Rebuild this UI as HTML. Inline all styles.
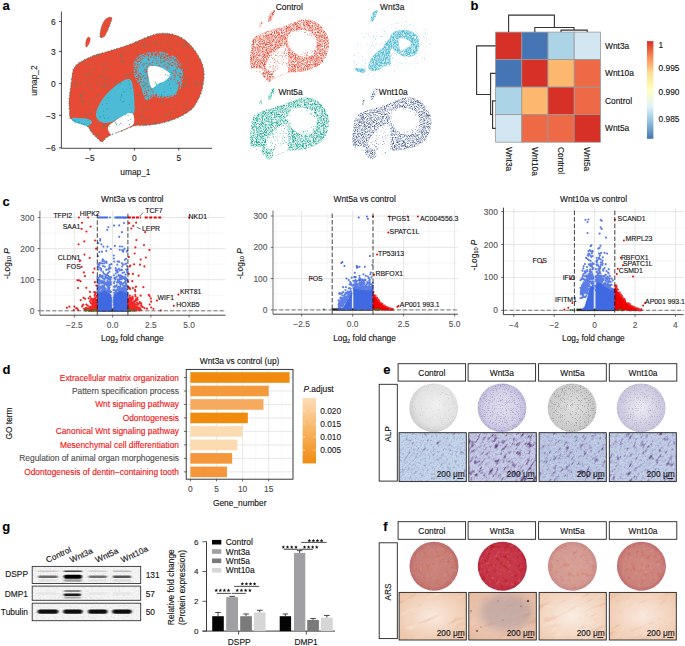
<!DOCTYPE html>
<html><head><meta charset="utf-8"><style>html,body{margin:0;padding:0;background:#fff;}svg{display:block;font-family:"Liberation Sans",sans-serif;}text{stroke-width:0.12px;}</style></head>
<body><svg width="685" height="646" viewBox="0 0 685 646" font-family="Liberation Sans, sans-serif">
<text x="2.60" y="9.70" font-size="13" text-anchor="start" fill="#000" stroke="#000" font-weight="bold" >a</text>
<text x="470.60" y="10.00" font-size="13" text-anchor="start" fill="#000" stroke="#000" font-weight="bold" >b</text>
<text x="2.40" y="205.60" font-size="13" text-anchor="start" fill="#000" stroke="#000" font-weight="bold" >c</text>
<text x="2.40" y="374.00" font-size="13" text-anchor="start" fill="#000" stroke="#000" font-weight="bold" >d</text>
<text x="383.20" y="374.20" font-size="13" text-anchor="start" fill="#000" stroke="#000" font-weight="bold" >e</text>
<text x="383.20" y="530.90" font-size="13" text-anchor="start" fill="#000" stroke="#000" font-weight="bold" >f</text>
<text x="2.20" y="530.80" font-size="13" text-anchor="start" fill="#000" stroke="#000" font-weight="bold" >g</text>
<defs><pattern id="mixRC" width="40" height="40" patternUnits="userSpaceOnUse"><rect width="40" height="40" fill="#E64B35"/><path d="M5.4 33.9h.1M30.6 10.2h.1M19.8 18.0h.1M26.1 31.5h.1M3.8 1.1h.1M33.4 17.3h.1M30.5 0.1h.1M17.8 28.9h.1M9.2 37.8h.1M36.1 1.2h.1M1.0 21.7h.1M37.6 15.2h.1M8.7 16.9h.1M1.2 8.9h.1M17.5 19.8h.1M9.3 9.2h.1M8.8 18.4h.1M11.6 0.9h.1M33.5 22.3h.1M25.7 7.4h.1M39.7 34.4h.1M4.8 13.3h.1M28.9 28.4h.1M37.5 16.9h.1M33.2 26.8h.1M12.1 23.5h.1M35.3 33.8h.1M20.2 23.6h.1M1.4 9.7h.1M31.9 16.6h.1M6.9 22.0h.1M28.1 27.0h.1M15.0 17.6h.1M20.3 31.1h.1M20.8 15.7h.1M19.6 1.2h.1M1.7 28.1h.1M39.3 23.7h.1M15.7 6.8h.1M20.1 39.3h.1M30.8 21.6h.1M34.4 9.3h.1M20.6 38.1h.1M23.1 18.4h.1M10.8 21.9h.1M38.3 0.2h.1M31.3 32.8h.1M35.4 29.6h.1M32.4 20.7h.1M22.5 17.0h.1M2.2 34.8h.1M22.8 8.0h.1M20.2 19.4h.1M14.3 13.8h.1M21.5 24.9h.1M24.5 18.3h.1M1.1 9.2h.1M7.1 23.4h.1M34.4 31.9h.1M31.9 32.7h.1M10.2 33.7h.1M26.9 3.3h.1M0.7 0.6h.1M30.2 10.0h.1M4.4 25.0h.1M13.8 2.8h.1M6.4 21.1h.1M6.7 10.9h.1M28.5 18.2h.1M12.9 19.0h.1M0.9 15.5h.1M16.8 7.5h.1M4.4 36.0h.1M20.4 8.4h.1M24.2 32.7h.1M0.8 0.7h.1M5.9 28.8h.1M6.4 28.2h.1M27.1 21.8h.1M8.8 39.0h.1M31.9 20.7h.1M8.9 25.9h.1M15.8 23.0h.1M12.8 25.2h.1M2.4 11.9h.1M38.7 35.0h.1M12.3 34.3h.1M12.4 37.6h.1M29.8 16.6h.1M10.1 0.3h.1M35.1 1.5h.1M32.8 38.5h.1M22.8 6.9h.1M34.7 39.0h.1M28.2 20.4h.1M15.1 13.9h.1M8.2 27.0h.1M17.3 7.8h.1M4.2 26.6h.1M11.8 20.0h.1M13.0 34.9h.1M36.0 0.7h.1M8.0 13.1h.1M39.5 31.3h.1M13.6 8.5h.1M27.0 33.5h.1M37.3 13.8h.1M35.3 27.5h.1M19.4 39.4h.1M9.4 29.0h.1M3.4 6.8h.1M36.4 8.5h.1M30.4 24.0h.1M33.6 14.7h.1M13.6 11.6h.1M34.7 24.2h.1M38.2 35.5h.1M5.4 22.0h.1M4.2 1.6h.1M2.9 34.6h.1M31.5 33.1h.1M13.6 24.6h.1M31.3 15.1h.1M22.8 8.9h.1M3.3 10.7h.1M35.6 22.6h.1M37.0 18.3h.1M11.1 31.5h.1M33.1 0.5h.1M26.8 3.7h.1M4.6 35.4h.1M1.6 9.6h.1M39.5 16.8h.1M4.6 6.7h.1M9.7 29.8h.1M4.1 36.4h.1M15.1 38.8h.1M36.4 11.8h.1M10.1 19.1h.1M4.0 26.1h.1M1.6 0.4h.1M39.3 11.8h.1M23.9 18.0h.1M12.5 2.5h.1M36.5 38.8h.1M38.8 4.5h.1M8.6 24.7h.1M39.2 21.7h.1M27.5 26.5h.1M10.4 21.7h.1M12.3 9.9h.1M3.3 11.2h.1M39.3 17.9h.1M26.1 25.7h.1M37.6 15.6h.1M12.3 13.1h.1M12.7 33.9h.1M35.7 12.1h.1M13.4 21.8h.1M23.2 23.8h.1M9.8 0.8h.1M9.8 2.9h.1M22.0 2.8h.1M3.0 25.4h.1M11.6 31.7h.1M19.7 34.5h.1M6.2 20.1h.1M31.8 3.1h.1M38.0 6.9h.1M31.0 39.4h.1M32.9 12.8h.1M4.3 20.6h.1M36.8 11.7h.1M35.8 5.7h.1M36.4 1.3h.1M12.6 36.1h.1M32.2 36.3h.1M33.6 29.8h.1M27.6 7.1h.1M17.3 6.3h.1M28.6 26.7h.1M10.1 2.6h.1M38.5 32.3h.1M22.0 21.7h.1M34.1 18.1h.1M15.8 13.5h.1M10.3 1.0h.1M25.9 16.7h.1M22.8 2.5h.1M14.2 5.5h.1M5.0 10.4h.1M33.2 15.9h.1M16.0 24.5h.1M9.3 0.3h.1M21.1 20.0h.1M26.0 17.5h.1M27.5 29.3h.1M9.5 19.8h.1M19.2 9.0h.1M16.5 22.4h.1M36.3 36.7h.1M11.0 25.9h.1M1.9 2.9h.1M20.5 35.1h.1M6.4 30.6h.1M35.3 12.5h.1M27.7 34.0h.1M14.9 28.1h.1M29.5 23.8h.1M34.3 35.9h.1M38.4 22.8h.1M7.1 10.0h.1M8.7 22.8h.1M30.3 2.1h.1M27.3 28.7h.1M13.9 20.6h.1M6.6 29.2h.1M1.6 39.2h.1M32.3 25.1h.1M10.7 36.5h.1M38.4 5.6h.1M31.0 33.7h.1M26.4 28.0h.1M17.8 37.0h.1M38.8 15.3h.1M32.1 17.3h.1M6.6 13.0h.1M5.1 36.4h.1M38.4 4.8h.1M24.0 16.3h.1M4.7 11.8h.1M9.9 30.0h.1M0.2 7.6h.1M17.6 0.8h.1M25.1 24.2h.1M33.4 8.3h.1M11.4 21.7h.1M10.9 23.4h.1M10.0 27.3h.1M31.6 32.3h.1M38.9 21.8h.1M19.6 34.2h.1M30.8 22.8h.1M15.3 11.4h.1M4.3 32.3h.1M4.7 29.9h.1M21.8 38.6h.1M30.4 38.9h.1M5.5 20.0h.1M22.9 12.5h.1M20.1 14.3h.1M21.1 0.0h.1M17.7 18.0h.1M12.2 16.0h.1M31.3 27.3h.1M19.7 25.9h.1M15.1 8.2h.1M0.2 11.1h.1M23.9 35.3h.1M33.2 20.4h.1M39.5 18.5h.1M33.4 16.4h.1M29.8 39.5h.1M12.2 6.8h.1M24.8 21.2h.1M14.4 0.1h.1M15.6 17.0h.1M16.2 34.4h.1M23.4 29.4h.1M35.9 30.0h.1M19.7 29.8h.1M25.6 25.9h.1M25.2 16.3h.1M25.2 25.3h.1M37.5 31.3h.1M33.9 30.7h.1M32.6 24.2h.1M14.0 10.6h.1M28.3 35.0h.1M21.8 6.1h.1M33.3 19.4h.1M18.7 1.8h.1M20.4 29.8h.1M16.9 14.2h.1M26.3 0.8h.1M20.3 37.8h.1M27.6 16.1h.1M27.6 24.2h.1M8.4 8.3h.1M35.4 10.8h.1M3.0 33.2h.1M20.9 14.7h.1M20.5 29.5h.1M6.7 26.1h.1M28.5 32.6h.1M10.8 24.4h.1M9.3 22.4h.1M6.9 31.6h.1M34.7 13.2h.1M8.9 38.6h.1M28.3 33.8h.1M1.2 36.0h.1M24.9 12.7h.1M17.3 30.5h.1M31.4 7.6h.1M25.0 6.6h.1M38.9 17.7h.1M36.5 29.1h.1M24.3 10.5h.1M21.1 5.5h.1M5.5 28.6h.1M14.4 30.1h.1M9.6 28.7h.1M28.7 12.2h.1M4.3 15.9h.1M19.7 4.0h.1M7.5 2.2h.1M23.9 35.6h.1M8.7 1.4h.1M28.2 32.6h.1M38.6 24.5h.1M13.7 33.5h.1M4.7 27.7h.1M3.8 16.0h.1M19.8 15.1h.1M6.7 9.3h.1M32.8 18.5h.1M23.2 8.5h.1M28.6 13.2h.1M23.7 36.4h.1M39.8 1.8h.1M31.9 34.3h.1M12.8 15.3h.1M23.2 36.8h.1M16.0 35.2h.1M30.3 6.1h.1M36.5 0.6h.1M5.8 26.6h.1M2.3 15.2h.1M5.2 18.5h.1M33.6 36.2h.1M1.4 2.4h.1M33.6 1.7h.1M10.9 4.7h.1M3.6 1.1h.1M25.5 29.8h.1M27.5 33.8h.1M26.5 15.6h.1M25.2 38.8h.1M25.7 9.7h.1M2.4 37.4h.1M23.6 14.0h.1M24.2 22.4h.1M20.9 2.4h.1M14.1 16.5h.1M8.0 35.2h.1M17.0 26.5h.1M28.5 29.7h.1M28.8 30.1h.1M10.1 39.1h.1M6.0 36.7h.1M34.2 34.1h.1M2.1 3.6h.1M32.5 18.8h.1M14.8 39.4h.1M1.6 21.3h.1M17.7 5.1h.1M15.8 28.3h.1M35.3 1.0h.1M21.0 3.6h.1M32.0 3.4h.1M1.4 15.4h.1M29.3 12.5h.1M5.2 31.8h.1M32.3 34.2h.1M12.1 17.0h.1M9.8 22.3h.1M13.2 13.5h.1M31.3 38.3h.1M23.4 4.2h.1M26.1 17.9h.1M39.5 28.8h.1M33.4 28.1h.1M21.4 35.9h.1M33.3 11.7h.1M6.3 14.8h.1M20.8 3.9h.1M13.8 23.0h.1M1.7 32.6h.1M26.0 12.5h.1M11.9 14.1h.1M13.0 29.9h.1M20.0 21.0h.1M6.0 36.6h.1M13.0 13.1h.1M2.8 39.2h.1M19.2 36.5h.1M37.1 38.8h.1M32.6 37.0h.1M36.9 32.1h.1M5.4 20.9h.1M23.0 39.7h.1M31.4 28.1h.1M29.9 14.5h.1M37.7 25.7h.1M16.1 18.6h.1M39.2 21.3h.1M6.7 5.9h.1M27.5 22.5h.1M36.3 7.4h.1M16.4 29.1h.1M2.0 4.0h.1M21.8 10.6h.1M4.3 10.5h.1M25.3 21.1h.1M3.1 2.9h.1M34.0 25.7h.1M6.9 34.5h.1M0.9 14.7h.1M33.9 28.4h.1M11.4 35.7h.1M23.9 34.6h.1M35.7 17.0h.1M27.0 21.8h.1M37.8 31.9h.1M29.0 32.6h.1M39.9 10.3h.1M8.1 29.9h.1M30.8 20.6h.1M19.5 16.1h.1M35.3 31.8h.1M23.4 1.6h.1M34.0 18.3h.1M7.6 12.0h.1M27.7 0.2h.1M4.8 12.1h.1M35.5 29.9h.1M38.8 21.7h.1M22.9 22.1h.1M21.0 21.7h.1M32.7 38.1h.1M16.3 25.2h.1M12.3 12.1h.1M20.3 23.5h.1M22.0 39.1h.1M6.5 25.5h.1M39.8 29.4h.1M22.6 14.7h.1M16.1 37.5h.1M35.8 26.8h.1M35.9 37.0h.1M33.9 15.3h.1M18.6 31.8h.1M14.9 30.0h.1M19.3 13.5h.1M18.2 4.7h.1M14.2 16.6h.1M0.7 6.9h.1M10.4 34.3h.1M23.6 11.5h.1M39.9 10.3h.1M20.6 29.6h.1M27.7 17.3h.1M31.1 19.4h.1M28.6 19.7h.1M38.9 28.6h.1M3.7 5.2h.1M38.7 9.2h.1M1.0 10.1h.1M19.2 38.1h.1M16.0 28.9h.1M33.4 3.6h.1M24.5 39.8h.1M22.0 21.4h.1M13.9 37.8h.1M38.8 4.1h.1M22.1 16.8h.1M26.9 4.7h.1M10.6 11.2h.1M19.2 31.7h.1M34.3 31.5h.1M27.1 3.5h.1M15.6 26.7h.1M11.8 20.3h.1M36.2 4.6h.1M34.2 4.2h.1M15.5 36.2h.1M8.0 20.8h.1M16.7 35.5h.1M39.7 11.5h.1M19.7 35.8h.1M21.8 8.6h.1M30.4 13.5h.1M19.4 0.3h.1M39.6 26.3h.1M37.0 38.7h.1M10.7 21.6h.1M17.6 30.4h.1M33.7 9.1h.1M11.0 28.3h.1M16.5 5.2h.1M7.8 22.4h.1M23.9 38.4h.1M21.3 24.4h.1M6.0 16.6h.1M11.2 27.8h.1M10.7 8.6h.1M14.7 18.8h.1M13.5 24.2h.1M7.2 35.2h.1M27.8 21.4h.1M2.3 13.0h.1M27.6 25.8h.1M32.5 35.7h.1M12.6 19.7h.1M13.2 5.1h.1M5.6 10.3h.1M3.5 21.6h.1M28.1 22.5h.1M27.4 9.0h.1M8.0 22.7h.1M35.4 16.9h.1M0.2 0.8h.1M12.2 24.6h.1M3.4 9.0h.1M27.2 39.4h.1M13.6 24.0h.1M20.7 0.9h.1M13.2 5.6h.1M10.0 30.8h.1M27.2 1.6h.1M3.1 29.0h.1M4.1 12.7h.1M10.8 2.0h.1M1.2 5.6h.1M16.0 37.3h.1M25.5 9.7h.1M27.2 10.9h.1M20.6 12.9h.1M37.9 14.1h.1M32.1 25.6h.1M33.7 24.2h.1M34.8 16.2h.1M27.2 24.8h.1M21.1 22.6h.1M21.4 15.8h.1M35.9 25.3h.1M22.0 2.2h.1M20.3 7.0h.1M8.6 17.4h.1M21.8 10.0h.1M10.8 21.2h.1M18.9 16.1h.1M4.2 14.9h.1M26.2 21.8h.1M21.8 33.8h.1M28.9 27.4h.1M1.2 12.3h.1M27.3 6.2h.1M36.5 5.7h.1M35.2 8.7h.1M33.7 33.9h.1M13.4 35.5h.1M6.4 34.0h.1M15.3 17.6h.1M4.7 24.0h.1M10.8 26.7h.1M32.0 24.1h.1M0.3 38.1h.1M36.8 25.7h.1M15.2 22.5h.1M35.3 18.4h.1M31.2 23.9h.1M16.9 37.3h.1M16.3 24.2h.1M2.1 18.8h.1M1.5 28.2h.1M0.0 1.7h.1M4.4 5.6h.1M20.3 14.3h.1M10.8 39.3h.1M36.4 26.2h.1M32.1 32.8h.1M9.8 32.3h.1M9.6 22.5h.1M14.3 6.3h.1M31.1 36.7h.1M12.5 35.2h.1M13.9 26.3h.1M39.8 30.9h.1M2.2 17.4h.1M15.1 11.8h.1M32.6 17.6h.1M28.0 25.4h.1M20.8 2.2h.1M26.9 35.7h.1M6.9 25.7h.1M19.5 13.6h.1M28.4 39.0h.1M0.9 35.9h.1M15.3 33.4h.1M7.0 28.7h.1M4.0 13.4h.1M38.8 26.3h.1M31.4 18.5h.1M18.8 19.7h.1M30.9 28.9h.1M7.8 17.6h.1M21.7 22.9h.1M37.1 33.6h.1M6.0 15.0h.1M4.4 1.0h.1M3.0 7.3h.1M30.6 26.7h.1M31.9 11.5h.1M6.2 38.9h.1M33.0 37.9h.1M0.8 15.9h.1M25.4 29.4h.1M36.5 21.5h.1M15.6 0.2h.1M32.2 39.3h.1M36.3 26.5h.1M13.7 9.6h.1M31.0 37.4h.1M38.4 7.0h.1M23.4 20.5h.1M17.1 31.8h.1M37.4 29.0h.1M28.0 27.6h.1M26.1 21.5h.1M9.9 31.2h.1M4.8 25.8h.1M15.5 22.4h.1M25.7 19.2h.1M39.1 9.6h.1M0.5 38.2h.1M12.5 11.1h.1M16.6 23.8h.1M39.4 28.3h.1M12.7 21.4h.1M17.9 20.1h.1M16.7 6.7h.1M15.8 15.6h.1M8.0 32.7h.1M14.4 6.1h.1M22.7 33.8h.1M31.2 24.9h.1M29.2 13.4h.1M5.7 10.2h.1M14.0 11.2h.1M18.7 6.0h.1M5.2 10.1h.1M7.9 32.1h.1M21.5 7.9h.1M17.2 34.9h.1M23.1 22.2h.1M15.7 7.8h.1M25.0 3.1h.1M31.4 2.3h.1M29.9 15.3h.1M27.3 23.6h.1M5.2 21.5h.1M3.0 9.6h.1M15.3 11.4h.1M26.5 39.5h.1M14.3 33.5h.1M9.0 28.4h.1M13.9 21.4h.1M3.5 33.1h.1M8.4 18.5h.1M11.6 32.4h.1M23.7 24.6h.1M30.2 10.2h.1M2.3 33.1h.1M12.6 32.5h.1M38.3 25.2h.1M4.1 34.2h.1M25.3 9.8h.1M8.3 20.3h.1M4.9 36.2h.1M28.3 32.8h.1M15.4 36.9h.1M5.4 28.7h.1M10.2 0.1h.1M4.8 8.1h.1M30.5 15.1h.1M19.3 24.5h.1M10.7 25.5h.1M26.9 36.9h.1M20.1 34.2h.1M38.7 30.8h.1M16.8 10.9h.1M3.9 33.2h.1M5.2 22.4h.1M18.2 1.8h.1M8.6 32.9h.1M21.5 37.0h.1M36.3 3.8h.1M27.1 1.7h.1M16.9 17.7h.1M38.3 23.8h.1M7.6 20.4h.1M20.9 7.9h.1M14.4 35.1h.1M39.3 31.1h.1M2.6 36.2h.1M18.3 33.4h.1M7.1 5.9h.1M36.3 11.4h.1M1.7 20.0h.1M39.6 33.4h.1M15.9 39.7h.1M31.9 33.7h.1M25.8 15.8h.1M36.2 18.8h.1M37.4 22.1h.1M36.4 19.1h.1M17.1 23.5h.1M12.7 6.0h.1M23.6 34.0h.1M11.1 34.6h.1M31.5 31.0h.1M16.6 40.0h.1M31.6 23.0h.1M4.5 23.0h.1M0.6 36.1h.1M13.5 14.7h.1M22.0 25.5h.1M23.3 19.4h.1M25.4 33.9h.1M17.8 20.0h.1M32.4 0.1h.1M6.4 13.0h.1M8.6 35.8h.1M5.9 4.3h.1M12.7 20.3h.1M32.9 39.8h.1M34.1 24.4h.1M1.5 2.5h.1M25.2 32.8h.1M10.6 38.8h.1M22.0 23.0h.1M24.7 3.0h.1M6.8 37.4h.1M10.7 3.3h.1M11.3 29.0h.1M10.5 8.4h.1M11.1 19.2h.1M29.5 12.1h.1M34.9 39.0h.1M32.9 3.0h.1M12.6 37.0h.1M34.4 5.3h.1M17.7 14.6h.1M29.9 1.1h.1M12.6 30.0h.1M35.5 1.6h.1M23.5 26.5h.1M34.9 17.0h.1M38.9 7.9h.1M4.6 5.2h.1M23.5 4.9h.1M10.7 7.9h.1M2.2 38.5h.1M13.4 38.6h.1M28.9 8.8h.1M37.3 0.4h.1M39.3 1.3h.1M10.1 22.1h.1M0.4 30.6h.1M3.4 32.7h.1M1.4 21.1h.1M8.4 11.6h.1M19.6 14.9h.1M15.7 26.1h.1M7.8 7.3h.1M27.4 11.9h.1M37.3 17.0h.1M19.0 0.9h.1M0.8 4.2h.1M25.0 26.6h.1M38.1 17.3h.1M28.3 13.7h.1M3.0 16.8h.1M28.1 32.2h.1M38.1 33.3h.1M22.5 22.0h.1M20.0 19.1h.1M27.2 23.0h.1M34.3 18.0h.1M18.8 33.3h.1M27.0 21.0h.1M22.5 32.2h.1M24.3 10.4h.1M12.4 24.2h.1M1.8 18.3h.1M35.7 9.3h.1M17.8 28.0h.1M37.0 27.9h.1M25.0 15.4h.1M17.5 25.7h.1M14.3 31.4h.1M0.3 30.1h.1M29.7 12.3h.1M0.6 13.5h.1M23.6 31.5h.1M34.8 8.3h.1M3.3 4.8h.1M39.6 25.8h.1M5.1 27.6h.1M38.4 24.3h.1M9.3 38.5h.1M28.0 7.3h.1M30.6 20.2h.1M23.0 14.6h.1M11.8 16.8h.1M21.1 18.5h.1M34.7 3.0h.1M8.0 37.5h.1M24.3 24.7h.1M25.2 9.7h.1M15.8 8.4h.1M6.1 39.6h.1M29.8 35.2h.1M0.1 28.2h.1M12.3 19.9h.1M27.0 1.2h.1M14.8 22.2h.1M35.0 20.5h.1M12.7 24.2h.1M23.3 11.7h.1M21.9 11.0h.1M0.5 12.4h.1M3.5 19.7h.1M20.0 34.8h.1M29.9 30.0h.1M39.6 10.6h.1M14.9 9.2h.1M4.1 20.6h.1M20.5 5.2h.1M36.9 39.1h.1M2.7 0.1h.1M2.5 29.3h.1M34.1 2.6h.1M0.4 21.5h.1M13.3 0.7h.1M0.4 8.5h.1M8.0 11.8h.1M22.0 10.1h.1M9.3 8.4h.1M35.5 9.5h.1M22.2 18.1h.1M13.3 16.3h.1M0.6 7.4h.1M25.6 30.5h.1M8.7 7.1h.1M36.2 3.9h.1M31.8 35.1h.1M5.9 33.3h.1M6.0 1.7h.1M11.4 13.8h.1M23.6 17.7h.1M31.7 26.6h.1M4.8 8.1h.1M29.8 4.6h.1M38.1 32.5h.1M8.8 11.4h.1M10.1 16.9h.1M9.9 1.3h.1M10.1 7.8h.1M14.0 18.2h.1M35.0 26.4h.1M24.6 34.6h.1M15.5 17.0h.1M9.8 33.2h.1M35.1 36.4h.1M24.2 4.6h.1M2.9 31.9h.1M35.4 21.3h.1M36.8 37.2h.1M30.2 14.8h.1M18.3 14.1h.1M15.8 18.9h.1M0.7 5.1h.1M6.7 22.7h.1M34.9 28.5h.1M6.0 18.3h.1M25.1 5.4h.1M3.2 24.5h.1M9.4 25.8h.1M6.9 34.2h.1M12.4 17.1h.1M22.0 35.5h.1M36.7 33.8h.1M27.4 2.8h.1M7.5 21.4h.1M39.4 29.0h.1M7.7 14.2h.1M38.5 20.3h.1M34.8 34.3h.1M31.3 25.1h.1M26.6 13.7h.1M4.8 37.9h.1M1.3 10.8h.1M24.6 38.6h.1M8.4 9.9h.1M33.9 13.1h.1M16.1 14.4h.1M2.0 37.7h.1M27.9 0.3h.1M3.9 5.4h.1M14.8 35.6h.1M5.6 9.1h.1M12.5 20.4h.1M36.0 21.6h.1M36.1 21.7h.1M17.3 34.9h.1M23.2 19.0h.1M20.5 14.2h.1M17.3 3.0h.1M8.2 30.5h.1M5.3 8.3h.1M6.5 14.5h.1M2.0 14.4h.1M24.4 27.1h.1M34.7 3.5h.1M25.8 7.9h.1M13.7 23.0h.1M33.5 26.8h.1M39.4 0.7h.1M12.6 19.2h.1M1.4 2.1h.1M14.7 22.4h.1M5.4 2.7h.1M12.8 29.7h.1M22.7 39.9h.1M24.2 35.6h.1M22.9 19.2h.1M16.6 2.9h.1M2.5 26.3h.1M34.4 0.8h.1M7.2 13.1h.1M12.5 33.4h.1M10.1 12.2h.1M19.5 38.0h.1M11.8 25.3h.1M1.9 17.3h.1M37.1 8.7h.1M14.3 26.2h.1M22.6 23.0h.1M24.3 27.0h.1M12.9 14.1h.1M15.9 20.9h.1M22.7 35.0h.1M15.8 18.0h.1M33.3 38.8h.1M9.7 29.2h.1M9.9 29.6h.1M1.5 20.3h.1M22.8 28.0h.1M36.7 31.8h.1M22.5 19.9h.1M0.5 22.1h.1M22.5 29.7h.1M6.6 23.5h.1M2.1 29.0h.1M32.9 17.5h.1M27.5 26.5h.1M12.1 3.5h.1M30.3 14.3h.1M6.5 17.7h.1M33.3 38.2h.1M22.7 38.8h.1M6.9 19.6h.1M0.3 9.4h.1M35.1 2.4h.1M26.2 20.4h.1M39.5 39.7h.1M4.9 10.5h.1M39.7 13.2h.1M7.2 36.5h.1M24.7 12.3h.1M22.2 17.1h.1M18.3 22.1h.1M6.8 24.6h.1M38.2 23.7h.1M31.5 11.3h.1M6.2 0.3h.1M39.3 4.8h.1M15.2 26.2h.1M29.4 24.7h.1M17.6 32.6h.1M17.7 33.4h.1M2.2 28.9h.1M3.9 15.5h.1M17.7 7.3h.1M18.0 34.1h.1M1.5 7.8h.1M39.0 18.0h.1" stroke="#4DBBD5" stroke-width="1.2" stroke-linecap="round" opacity="1"/></pattern><pattern id="mixRC2" width="40" height="40" patternUnits="userSpaceOnUse"><rect width="40" height="40" fill="#4DBBD5"/><path d="M38.2 37.9h.1M2.3 3.4h.1M33.4 29.4h.1M26.8 12.3h.1M24.2 24.3h.1M23.2 6.3h.1M17.2 15.7h.1M28.9 39.8h.1M38.0 21.8h.1M17.8 10.7h.1M1.4 1.1h.1M18.6 12.7h.1M15.2 35.7h.1M21.0 22.4h.1M9.4 1.0h.1M13.0 5.5h.1M20.4 39.9h.1M27.0 7.3h.1M35.7 31.9h.1M29.4 36.3h.1M30.5 31.6h.1M14.2 39.2h.1M38.5 6.4h.1M30.2 28.6h.1M18.5 21.2h.1M19.6 37.0h.1M20.0 33.3h.1M14.2 35.3h.1M36.0 18.4h.1M22.7 36.8h.1M29.0 19.5h.1M8.9 13.0h.1M28.0 6.6h.1M36.3 10.7h.1M36.5 12.4h.1M38.3 28.2h.1M20.2 20.7h.1M26.1 23.5h.1M12.5 8.3h.1M20.5 37.4h.1M24.9 3.0h.1M32.8 29.0h.1M36.3 7.7h.1M29.8 2.4h.1M26.1 10.9h.1M9.1 35.0h.1M4.3 20.9h.1M34.2 9.8h.1M8.4 35.2h.1M16.9 28.7h.1M1.3 14.5h.1M6.9 26.9h.1M3.3 38.2h.1M1.0 29.2h.1M0.8 10.2h.1M32.5 6.3h.1M7.3 27.7h.1M15.4 1.7h.1M39.6 6.1h.1M1.5 13.8h.1M24.6 29.7h.1M4.5 13.5h.1M1.2 17.9h.1M30.6 29.6h.1M36.1 30.2h.1M34.5 28.2h.1M18.9 9.0h.1M26.4 12.7h.1M4.1 17.9h.1M35.0 5.1h.1M23.4 15.7h.1M20.6 5.8h.1M38.4 10.4h.1M24.2 16.8h.1M0.7 22.3h.1M5.6 2.3h.1M1.3 6.4h.1M3.8 25.4h.1M20.3 39.3h.1M37.4 39.8h.1M9.3 17.8h.1M10.0 23.6h.1M25.0 32.0h.1M28.4 10.3h.1M16.9 21.0h.1M0.2 1.4h.1M16.3 4.4h.1M29.0 9.6h.1M4.0 7.3h.1M9.3 8.7h.1M20.8 18.6h.1M12.4 25.7h.1M8.5 36.3h.1M38.5 29.2h.1M17.3 20.5h.1M23.2 2.0h.1M16.7 21.0h.1M7.2 3.8h.1M32.1 14.6h.1M20.8 36.9h.1M24.4 11.6h.1M39.3 14.9h.1M0.8 27.4h.1M4.0 12.2h.1M33.6 26.9h.1M0.6 18.1h.1M16.4 19.4h.1M8.3 23.5h.1M3.0 11.4h.1M14.9 37.4h.1M3.1 30.2h.1M7.7 22.9h.1M15.7 18.5h.1M30.1 15.8h.1M4.9 4.9h.1M3.2 34.0h.1M25.6 38.4h.1M27.7 1.0h.1M26.4 31.1h.1M28.9 19.9h.1M14.3 18.3h.1M31.9 10.8h.1M21.1 19.1h.1M38.2 32.2h.1M37.3 33.4h.1M11.9 9.3h.1M19.6 10.4h.1M17.1 27.2h.1M36.7 23.4h.1M32.7 3.8h.1M14.2 39.9h.1M5.9 16.7h.1M2.7 3.4h.1M35.8 39.5h.1M25.9 5.1h.1M11.9 9.3h.1M26.8 27.2h.1M17.6 21.0h.1M4.5 21.6h.1M38.0 30.2h.1M3.8 20.7h.1M28.6 10.3h.1M35.8 18.4h.1M28.1 16.2h.1M39.8 31.3h.1M22.9 5.8h.1M17.6 1.2h.1M23.8 35.3h.1M7.2 20.4h.1M19.3 16.2h.1M28.4 37.5h.1M28.2 18.9h.1M38.5 13.2h.1M29.8 26.3h.1M30.5 34.1h.1M9.0 24.8h.1M16.1 26.7h.1M39.1 25.4h.1M0.5 18.6h.1M28.5 35.3h.1M26.0 32.6h.1M0.7 37.7h.1M29.2 24.3h.1M36.2 35.4h.1M4.0 32.6h.1M30.7 8.0h.1M29.8 23.4h.1M7.7 32.2h.1M5.5 24.5h.1M17.4 10.1h.1M22.6 18.7h.1M8.2 38.7h.1M2.9 0.1h.1M19.4 33.5h.1M26.3 30.2h.1M19.4 27.0h.1M13.4 10.7h.1M20.1 1.1h.1M3.2 30.2h.1M6.9 30.0h.1M31.4 16.2h.1M27.0 31.5h.1M34.6 5.4h.1M6.5 15.3h.1M18.6 11.8h.1M0.4 22.3h.1M38.7 14.7h.1M21.5 15.3h.1M17.7 34.8h.1M12.3 26.0h.1M19.4 21.5h.1M36.6 3.1h.1M33.0 12.2h.1M25.9 31.8h.1M26.1 15.7h.1M33.6 3.7h.1M25.3 15.6h.1M21.2 34.0h.1M31.9 25.2h.1M12.3 9.3h.1M18.3 9.3h.1M11.1 38.3h.1M4.5 32.7h.1M15.2 14.6h.1M12.7 3.1h.1M18.3 6.7h.1M17.7 11.7h.1M35.8 36.9h.1M17.7 25.6h.1M37.2 13.0h.1M4.0 9.5h.1M7.6 27.1h.1M15.0 14.2h.1M31.8 9.3h.1M32.3 25.3h.1M16.0 32.9h.1M13.7 35.1h.1M37.0 20.1h.1M27.6 38.0h.1M29.7 30.0h.1M34.8 37.4h.1M30.1 39.2h.1M11.7 24.9h.1M26.8 14.7h.1M15.8 7.0h.1M38.3 14.2h.1M19.1 35.7h.1M7.5 38.4h.1M5.1 1.1h.1M14.0 14.4h.1M36.7 35.3h.1M30.5 17.5h.1M21.7 9.5h.1M33.3 15.6h.1M11.4 25.5h.1M6.0 12.7h.1M37.0 3.8h.1M5.7 8.2h.1M10.0 16.8h.1M10.0 13.7h.1M9.9 9.6h.1M24.4 13.5h.1M14.9 30.7h.1M2.5 5.8h.1M34.0 17.2h.1M31.2 5.3h.1M20.9 33.8h.1M13.5 30.7h.1M24.4 15.8h.1M39.9 15.7h.1M19.0 24.8h.1M12.7 33.5h.1M23.9 23.5h.1M21.5 39.4h.1M39.6 33.6h.1M18.2 16.5h.1M21.0 1.8h.1M4.3 39.8h.1M5.1 37.5h.1M27.2 36.6h.1M3.1 12.2h.1M31.9 0.4h.1M4.2 14.0h.1M6.9 5.9h.1M26.8 3.7h.1M38.9 26.0h.1M2.0 35.9h.1M9.7 19.3h.1M22.4 5.5h.1M20.1 2.4h.1M8.0 36.7h.1M32.9 20.9h.1M27.3 35.0h.1M5.6 19.7h.1M5.3 4.7h.1M4.3 8.5h.1M2.1 8.6h.1M15.2 24.9h.1M34.3 36.2h.1M28.7 20.3h.1M36.7 6.5h.1M4.2 32.7h.1M25.1 8.4h.1M15.1 11.9h.1M17.2 17.1h.1M15.9 31.9h.1M32.5 22.5h.1M18.9 11.4h.1M30.6 39.5h.1M9.2 28.1h.1M28.0 26.3h.1M1.2 22.1h.1M8.1 7.8h.1M23.2 25.8h.1M25.0 29.7h.1M28.1 19.0h.1M1.9 30.9h.1M32.9 33.4h.1M23.9 1.5h.1M7.8 4.3h.1" stroke="#E64B35" stroke-width="1.2" stroke-linecap="round" opacity="1"/></pattern><pattern id="mixT" width="40" height="40" patternUnits="userSpaceOnUse"><path d="M18.5 14.9h.1M5.5 34.7h.1M0.3 20.1h.1M35.9 3.2h.1M22.2 24.7h.1M1.6 15.2h.1M28.1 18.1h.1M29.0 6.3h.1M9.5 4.4h.1M20.3 37.0h.1M23.6 31.0h.1M15.3 29.8h.1M4.1 11.6h.1M27.0 29.0h.1M16.9 3.5h.1M10.7 8.4h.1M11.2 32.4h.1M8.0 35.5h.1M35.2 2.2h.1M15.2 19.7h.1M0.9 17.0h.1M36.3 4.5h.1M23.9 4.8h.1M23.1 35.8h.1M8.1 0.3h.1M3.3 21.6h.1M0.7 3.4h.1M19.9 36.8h.1M16.8 15.9h.1M25.5 3.7h.1M23.2 6.9h.1M24.4 38.3h.1M2.2 22.2h.1M24.3 6.0h.1M10.7 39.8h.1M39.9 4.9h.1M28.2 38.0h.1M9.5 24.4h.1M1.7 14.6h.1M27.0 23.6h.1" stroke="#00A087" stroke-width="0.9" stroke-linecap="round" opacity="1"/></pattern></defs>
<path d="M69.5,112.0 C69.3,109.0 68.8,104.0 69.0,100.0 C69.2,96.0 70.0,92.0 70.5,88.0 C71.0,84.0 71.5,79.2 72.0,76.0 C72.5,72.8 72.5,71.1 73.5,69.0 C74.5,66.9 76.1,65.1 78.0,63.5 C79.9,61.9 82.2,60.9 85.0,59.5 C87.8,58.1 91.7,56.2 95.0,55.0 C98.3,53.8 101.2,53.4 105.0,52.3 C108.8,51.2 113.8,49.6 118.0,48.3 C122.2,47.0 126.3,45.7 130.0,44.3 C133.7,42.9 136.8,41.3 140.0,40.0 C143.2,38.7 145.8,37.4 149.0,36.3 C152.2,35.2 155.2,33.9 159.0,33.5 C162.8,33.1 167.7,32.9 172.0,34.0 C176.3,35.1 181.0,37.0 185.0,40.0 C189.0,43.0 193.0,47.7 196.0,52.0 C199.0,56.3 201.7,61.7 203.0,66.0 C204.3,70.3 204.2,74.0 204.0,78.0 C203.8,82.0 202.8,86.7 202.0,90.0 C201.2,93.3 200.5,95.0 199.0,98.0 C197.5,101.0 195.3,105.3 193.0,108.0 C190.7,110.7 188.0,112.2 185.0,114.0 C182.0,115.8 179.2,117.4 175.0,119.0 C170.8,120.6 165.0,122.4 160.0,123.5 C155.0,124.6 149.3,125.1 145.0,125.5 C140.7,125.9 137.8,125.1 134.0,126.0 C130.2,126.9 125.5,129.7 122.0,131.0 C118.5,132.3 115.7,132.8 113.0,134.0 C110.3,135.2 107.8,136.7 106.0,138.0 C104.2,139.3 103.5,142.0 102.0,142.0 C100.5,142.0 98.7,139.5 97.0,138.0 C95.3,136.5 93.5,134.8 92.0,133.0 C90.5,131.2 89.5,128.5 88.0,127.0 C86.5,125.5 85.2,125.0 83.0,124.0 C80.8,123.0 77.2,122.0 75.0,121.0 C72.8,120.0 70.9,119.5 70.0,118.0 C69.1,116.5 69.7,115.0 69.5,112.0Z" fill="#E64B35"/><path d="M100.0,37.0 C99.5,35.5 100.3,30.7 101.0,28.0 C101.7,25.3 102.8,22.8 104.0,21.0 C105.2,19.2 106.7,18.0 108.0,17.5 C109.3,17.0 111.7,16.8 112.0,18.0 C112.3,19.2 110.8,22.7 110.0,25.0 C109.2,27.3 108.0,30.0 107.0,32.0 C106.0,34.0 105.2,36.2 104.0,37.0 C102.8,37.8 100.5,38.5 100.0,37.0Z" fill="#E64B35"/><path d="M85.5,46.0 C85.3,44.8 85.5,41.5 86.0,40.0 C86.5,38.5 87.8,37.2 88.5,37.0 C89.2,36.8 90.4,37.8 90.5,39.0 C90.6,40.2 89.6,42.7 89.0,44.0 C88.4,45.3 87.6,46.7 87.0,47.0 C86.4,47.3 85.7,47.2 85.5,46.0Z" fill="#E64B35"/>
<path d="M72.0,118.0 C73.0,117.3 77.3,117.8 80.0,118.0 C82.7,118.2 86.0,118.3 88.0,119.0 C90.0,119.7 92.0,120.8 92.0,122.0 C92.0,123.2 90.0,125.7 88.0,126.0 C86.0,126.3 82.3,124.7 80.0,124.0 C77.7,123.3 75.3,123.0 74.0,122.0 C72.7,121.0 71.0,118.7 72.0,118.0Z" fill="#4DBBD5"/><path d="M96.0,116.0 C95.6,113.3 97.0,109.3 98.5,106.0 C100.0,102.7 102.6,99.0 105.0,96.0 C107.4,93.0 110.3,90.3 113.0,88.0 C115.7,85.7 118.6,83.5 121.0,82.0 C123.4,80.5 125.8,79.2 127.5,79.0 C129.2,78.8 130.5,79.2 131.5,81.0 C132.5,82.8 133.0,86.2 133.5,90.0 C134.0,93.8 134.4,100.2 134.5,104.0 C134.6,107.8 135.1,111.2 134.0,113.0 C132.9,114.8 130.3,114.2 128.0,115.0 C125.7,115.8 123.0,116.8 120.0,118.0 C117.0,119.2 113.2,121.8 110.0,122.5 C106.8,123.2 103.3,123.1 101.0,122.0 C98.7,120.9 96.4,118.7 96.0,116.0Z" fill="#4DBBD5"/><path d="M108.0,127.0 C108.7,124.8 112.7,122.8 115.0,121.0 C117.3,119.2 119.7,117.8 122.0,116.5 C124.3,115.2 127.1,113.2 129.0,113.0 C130.9,112.8 132.8,113.2 133.5,115.0 C134.2,116.8 134.8,121.8 133.5,124.0 C132.2,126.2 128.6,127.2 126.0,128.5 C123.4,129.8 120.5,131.0 118.0,132.0 C115.5,133.0 112.7,135.3 111.0,134.5 C109.3,133.7 107.3,129.2 108.0,127.0Z" fill="#fff"/>
<path d="M134.0,62.0 C135.0,58.7 137.3,56.7 140.0,55.0 C142.7,53.3 146.2,52.5 150.0,52.0 C153.8,51.5 158.8,51.2 163.0,52.0 C167.2,52.8 171.8,54.7 175.0,57.0 C178.2,59.3 180.7,62.5 182.0,66.0 C183.3,69.5 183.3,74.0 183.0,78.0 C182.7,82.0 181.8,86.8 180.0,90.0 C178.2,93.2 175.3,95.7 172.0,97.0 C168.7,98.3 163.7,98.5 160.0,98.0 C156.3,97.5 153.3,96.0 150.0,94.0 C146.7,92.0 142.7,89.2 140.0,86.0 C137.3,82.8 135.0,79.0 134.0,75.0 C133.0,71.0 133.0,65.3 134.0,62.0Z" fill="url(#mixRC)"/><path d="M138.6,60.0 C140.3,55.3 146.0,56.0 150.6,56.0 C155.3,56.0 161.3,57.3 166.6,60.0 C172.0,62.7 181.3,68.0 182.6,72.0 C184.0,76.0 178.6,80.7 174.6,84.0 C170.6,87.3 163.3,89.3 158.6,92.0 C154.0,94.7 149.6,101.3 146.6,100.0 C143.6,98.7 142.0,90.7 140.6,84.0 C139.3,77.3 137.0,64.7 138.6,60.0Z" fill="url(#mixRC2)"/><path d="M152.0,80.0 C153.2,78.3 157.0,78.2 160.0,78.0 C163.0,77.8 167.0,78.0 170.0,79.0 C173.0,80.0 177.0,81.7 178.0,84.0 C179.0,86.3 177.7,91.0 176.0,93.0 C174.3,95.0 171.0,95.7 168.0,96.0 C165.0,96.3 160.5,96.3 158.0,95.0 C155.5,93.7 154.0,90.5 153.0,88.0 C152.0,85.5 150.8,81.7 152.0,80.0Z" fill="#4DBBD5"/><path d="M148.0,68.0 C148.8,65.7 151.7,66.0 154.0,66.0 C156.3,66.0 159.3,66.7 162.0,68.0 C164.7,69.3 169.3,72.0 170.0,74.0 C170.7,76.0 168.0,78.3 166.0,80.0 C164.0,81.7 160.3,82.7 158.0,84.0 C155.7,85.3 153.5,88.7 152.0,88.0 C150.5,87.3 149.7,83.3 149.0,80.0 C148.3,76.7 147.2,70.3 148.0,68.0Z" fill="#fff"/>
<path d="M69.5,112.0 C69.3,109.0 68.8,104.0 69.0,100.0 C69.2,96.0 70.0,92.0 70.5,88.0 C71.0,84.0 71.5,79.2 72.0,76.0 C72.5,72.8 72.5,71.1 73.5,69.0 C74.5,66.9 76.1,65.1 78.0,63.5 C79.9,61.9 82.2,60.9 85.0,59.5 C87.8,58.1 91.7,56.2 95.0,55.0 C98.3,53.8 101.2,53.4 105.0,52.3 C108.8,51.2 113.8,49.6 118.0,48.3 C122.2,47.0 126.3,45.7 130.0,44.3 C133.7,42.9 136.8,41.3 140.0,40.0 C143.2,38.7 145.8,37.4 149.0,36.3 C152.2,35.2 155.2,33.9 159.0,33.5 C162.8,33.1 167.7,32.9 172.0,34.0 C176.3,35.1 181.0,37.0 185.0,40.0 C189.0,43.0 193.0,47.7 196.0,52.0 C199.0,56.3 201.7,61.7 203.0,66.0 C204.3,70.3 204.2,74.0 204.0,78.0 C203.8,82.0 202.8,86.7 202.0,90.0 C201.2,93.3 200.5,95.0 199.0,98.0 C197.5,101.0 195.3,105.3 193.0,108.0 C190.7,110.7 188.0,112.2 185.0,114.0 C182.0,115.8 179.2,117.4 175.0,119.0 C170.8,120.6 165.0,122.4 160.0,123.5 C155.0,124.6 149.3,125.1 145.0,125.5 C140.7,125.9 137.8,125.1 134.0,126.0 C130.2,126.9 125.5,129.7 122.0,131.0 C118.5,132.3 115.7,132.8 113.0,134.0 C110.3,135.2 107.8,136.7 106.0,138.0 C104.2,139.3 103.5,142.0 102.0,142.0 C100.5,142.0 98.7,139.5 97.0,138.0 C95.3,136.5 93.5,134.8 92.0,133.0 C90.5,131.2 89.5,128.5 88.0,127.0 C86.5,125.5 85.2,125.0 83.0,124.0 C80.8,123.0 77.2,122.0 75.0,121.0 C72.8,120.0 70.9,119.5 70.0,118.0 C69.1,116.5 69.7,115.0 69.5,112.0Z" fill="url(#mixT)"/>
<path d="M69.5,112.0 C69.3,109.0 68.8,104.0 69.0,100.0 C69.2,96.0 70.0,92.0 70.5,88.0 C71.0,84.0 71.5,79.2 72.0,76.0 C72.5,72.8 72.5,71.1 73.5,69.0 C74.5,66.9 76.1,65.1 78.0,63.5 C79.9,61.9 82.2,60.9 85.0,59.5 C87.8,58.1 91.7,56.2 95.0,55.0 C98.3,53.8 101.2,53.4 105.0,52.3 C108.8,51.2 113.8,49.6 118.0,48.3 C122.2,47.0 126.3,45.7 130.0,44.3 C133.7,42.9 136.8,41.3 140.0,40.0 C143.2,38.7 145.8,37.4 149.0,36.3 C152.2,35.2 155.2,33.9 159.0,33.5 C162.8,33.1 167.7,32.9 172.0,34.0 C176.3,35.1 181.0,37.0 185.0,40.0 C189.0,43.0 193.0,47.7 196.0,52.0 C199.0,56.3 201.7,61.7 203.0,66.0 C204.3,70.3 204.2,74.0 204.0,78.0 C203.8,82.0 202.8,86.7 202.0,90.0 C201.2,93.3 200.5,95.0 199.0,98.0 C197.5,101.0 195.3,105.3 193.0,108.0 C190.7,110.7 188.0,112.2 185.0,114.0 C182.0,115.8 179.2,117.4 175.0,119.0 C170.8,120.6 165.0,122.4 160.0,123.5 C155.0,124.6 149.3,125.1 145.0,125.5 C140.7,125.9 137.8,125.1 134.0,126.0 C130.2,126.9 125.5,129.7 122.0,131.0 C118.5,132.3 115.7,132.8 113.0,134.0 C110.3,135.2 107.8,136.7 106.0,138.0 C104.2,139.3 103.5,142.0 102.0,142.0 C100.5,142.0 98.7,139.5 97.0,138.0 C95.3,136.5 93.5,134.8 92.0,133.0 C90.5,131.2 89.5,128.5 88.0,127.0 C86.5,125.5 85.2,125.0 83.0,124.0 C80.8,123.0 77.2,122.0 75.0,121.0 C72.8,120.0 70.9,119.5 70.0,118.0 C69.1,116.5 69.7,115.0 69.5,112.0Z" fill="none" stroke="#00A087" stroke-width="1.2" stroke-dasharray="0.9 2.3" opacity="0.7"/><path d="M69.5,112.0 C69.3,109.0 68.8,104.0 69.0,100.0 C69.2,96.0 70.0,92.0 70.5,88.0 C71.0,84.0 71.5,79.2 72.0,76.0 C72.5,72.8 72.5,71.1 73.5,69.0 C74.5,66.9 76.1,65.1 78.0,63.5 C79.9,61.9 82.2,60.9 85.0,59.5 C87.8,58.1 91.7,56.2 95.0,55.0 C98.3,53.8 101.2,53.4 105.0,52.3 C108.8,51.2 113.8,49.6 118.0,48.3 C122.2,47.0 126.3,45.7 130.0,44.3 C133.7,42.9 136.8,41.3 140.0,40.0 C143.2,38.7 145.8,37.4 149.0,36.3 C152.2,35.2 155.2,33.9 159.0,33.5 C162.8,33.1 167.7,32.9 172.0,34.0 C176.3,35.1 181.0,37.0 185.0,40.0 C189.0,43.0 193.0,47.7 196.0,52.0 C199.0,56.3 201.7,61.7 203.0,66.0 C204.3,70.3 204.2,74.0 204.0,78.0 C203.8,82.0 202.8,86.7 202.0,90.0 C201.2,93.3 200.5,95.0 199.0,98.0 C197.5,101.0 195.3,105.3 193.0,108.0 C190.7,110.7 188.0,112.2 185.0,114.0 C182.0,115.8 179.2,117.4 175.0,119.0 C170.8,120.6 165.0,122.4 160.0,123.5 C155.0,124.6 149.3,125.1 145.0,125.5 C140.7,125.9 137.8,125.1 134.0,126.0 C130.2,126.9 125.5,129.7 122.0,131.0 C118.5,132.3 115.7,132.8 113.0,134.0 C110.3,135.2 107.8,136.7 106.0,138.0 C104.2,139.3 103.5,142.0 102.0,142.0 C100.5,142.0 98.7,139.5 97.0,138.0 C95.3,136.5 93.5,134.8 92.0,133.0 C90.5,131.2 89.5,128.5 88.0,127.0 C86.5,125.5 85.2,125.0 83.0,124.0 C80.8,123.0 77.2,122.0 75.0,121.0 C72.8,120.0 70.9,119.5 70.0,118.0 C69.1,116.5 69.7,115.0 69.5,112.0Z" fill="none" stroke="#3C5488" stroke-width="1.0" stroke-dasharray="0.8 4.1" stroke-dashoffset="1.5" opacity="0.8"/>
<path d="M100.0,37.0 C99.5,35.5 100.3,30.7 101.0,28.0 C101.7,25.3 102.8,22.8 104.0,21.0 C105.2,19.2 106.7,18.0 108.0,17.5 C109.3,17.0 111.7,16.8 112.0,18.0 C112.3,19.2 110.8,22.7 110.0,25.0 C109.2,27.3 108.0,30.0 107.0,32.0 C106.0,34.0 105.2,36.2 104.0,37.0 C102.8,37.8 100.5,38.5 100.0,37.0Z" fill="none" stroke="#00A087" stroke-width="1.0" stroke-dasharray="0.9 2" opacity="0.7"/>
<line x1="61.40" y1="11.50" x2="61.40" y2="148.30" stroke="#333" stroke-width="0.9" />
<line x1="61.40" y1="148.30" x2="212.00" y2="148.30" stroke="#333" stroke-width="0.9" />
<line x1="59.00" y1="21.50" x2="61.50" y2="21.50" stroke="#000" stroke-width="0.7" />
<text x="55.60" y="25.00" font-size="8.4" text-anchor="end" fill="#222" stroke="#222" font-weight="normal" >6</text>
<line x1="59.00" y1="51.40" x2="61.50" y2="51.40" stroke="#000" stroke-width="0.7" />
<text x="55.60" y="54.90" font-size="8.4" text-anchor="end" fill="#222" stroke="#222" font-weight="normal" >3</text>
<line x1="59.00" y1="83.50" x2="61.50" y2="83.50" stroke="#000" stroke-width="0.7" />
<text x="55.60" y="87.00" font-size="8.4" text-anchor="end" fill="#222" stroke="#222" font-weight="normal" >0</text>
<line x1="59.00" y1="115.30" x2="61.50" y2="115.30" stroke="#000" stroke-width="0.7" />
<text x="55.60" y="118.80" font-size="8.4" text-anchor="end" fill="#222" stroke="#222" font-weight="normal" >−3</text>
<line x1="59.00" y1="147.80" x2="61.50" y2="147.80" stroke="#000" stroke-width="0.7" />
<text x="55.60" y="151.30" font-size="8.4" text-anchor="end" fill="#222" stroke="#222" font-weight="normal" >−6</text>
<line x1="90.00" y1="148.00" x2="90.00" y2="150.50" stroke="#000" stroke-width="0.7" />
<text x="90.00" y="161.00" font-size="8.4" text-anchor="middle" fill="#222" stroke="#222" font-weight="normal" >−5</text>
<line x1="134.40" y1="148.00" x2="134.40" y2="150.50" stroke="#000" stroke-width="0.7" />
<text x="134.40" y="161.00" font-size="8.4" text-anchor="middle" fill="#222" stroke="#222" font-weight="normal" >0</text>
<line x1="178.80" y1="148.00" x2="178.80" y2="150.50" stroke="#000" stroke-width="0.7" />
<text x="178.80" y="161.00" font-size="8.4" text-anchor="middle" fill="#222" stroke="#222" font-weight="normal" >5</text>
<text x="135.40" y="175.00" font-size="8.4" text-anchor="middle" fill="#222" stroke="#222" font-weight="normal" >umap_1</text>
<text x="0.00" y="0.00" font-size="8.4" text-anchor="middle" fill="#222" stroke="#222" font-weight="normal" transform="translate(37,80.5) rotate(-90)">umap_2</text>
<defs><filter id="sdR" x="0" y="0" width="100%" height="100%" filterUnits="objectBoundingBox" color-interpolation-filters="sRGB"><feTurbulence type="fractalNoise" baseFrequency="1.1" numOctaves="2" seed="31"/><feColorMatrix type="matrix" values="0 0 0 0 0.902  0 0 0 0 0.294  0 0 0 0 0.208  -2.6 0 0 0 1.76"/></filter><filter id="ssR" x="0" y="0" width="100%" height="100%" filterUnits="objectBoundingBox" color-interpolation-filters="sRGB"><feTurbulence type="fractalNoise" baseFrequency="1.1" numOctaves="2" seed="41"/><feColorMatrix type="matrix" values="0 0 0 0 0.902  0 0 0 0 0.294  0 0 0 0 0.208  -2.6 0 0 0 1.2"/></filter><filter id="sdC" x="0" y="0" width="100%" height="100%" filterUnits="objectBoundingBox" color-interpolation-filters="sRGB"><feTurbulence type="fractalNoise" baseFrequency="1.1" numOctaves="2" seed="32"/><feColorMatrix type="matrix" values="0 0 0 0 0.302  0 0 0 0 0.733  0 0 0 0 0.835  -2.6 0 0 0 1.95"/></filter><filter id="ssC" x="0" y="0" width="100%" height="100%" filterUnits="objectBoundingBox" color-interpolation-filters="sRGB"><feTurbulence type="fractalNoise" baseFrequency="1.1" numOctaves="2" seed="42"/><feColorMatrix type="matrix" values="0 0 0 0 0.302  0 0 0 0 0.733  0 0 0 0 0.835  -2.6 0 0 0 0.95"/></filter><filter id="sdT" x="0" y="0" width="100%" height="100%" filterUnits="objectBoundingBox" color-interpolation-filters="sRGB"><feTurbulence type="fractalNoise" baseFrequency="1.1" numOctaves="2" seed="33"/><feColorMatrix type="matrix" values="0 0 0 0 0.000  0 0 0 0 0.627  0 0 0 0 0.529  -2.6 0 0 0 1.64"/></filter><filter id="ssT" x="0" y="0" width="100%" height="100%" filterUnits="objectBoundingBox" color-interpolation-filters="sRGB"><feTurbulence type="fractalNoise" baseFrequency="1.1" numOctaves="2" seed="43"/><feColorMatrix type="matrix" values="0 0 0 0 0.000  0 0 0 0 0.627  0 0 0 0 0.529  -2.6 0 0 0 1.15"/></filter><filter id="sdN" x="0" y="0" width="100%" height="100%" filterUnits="objectBoundingBox" color-interpolation-filters="sRGB"><feTurbulence type="fractalNoise" baseFrequency="1.1" numOctaves="2" seed="34"/><feColorMatrix type="matrix" values="0 0 0 0 0.235  0 0 0 0 0.329  0 0 0 0 0.533  -2.6 0 0 0 1.58"/></filter><filter id="ssN" x="0" y="0" width="100%" height="100%" filterUnits="objectBoundingBox" color-interpolation-filters="sRGB"><feTurbulence type="fractalNoise" baseFrequency="1.1" numOctaves="2" seed="44"/><feColorMatrix type="matrix" values="0 0 0 0 0.235  0 0 0 0 0.329  0 0 0 0 0.533  -2.6 0 0 0 1.1"/></filter></defs>
<text x="289.30" y="10.00" font-size="8.4" text-anchor="middle" fill="#111" stroke="#111" font-weight="normal" >Control</text>
<mask id="mRd" maskUnits="userSpaceOnUse" x="0" y="0" width="685" height="200"><g transform="translate(209.6,0.34) scale(0.585,0.575)"><path d="M69.5,112.0 C69.3,109.0 68.8,104.0 69.0,100.0 C69.2,96.0 70.0,92.0 70.5,88.0 C71.0,84.0 71.5,79.2 72.0,76.0 C72.5,72.8 72.5,71.1 73.5,69.0 C74.5,66.9 76.1,65.1 78.0,63.5 C79.9,61.9 82.2,60.9 85.0,59.5 C87.8,58.1 91.7,56.2 95.0,55.0 C98.3,53.8 101.2,53.4 105.0,52.3 C108.8,51.2 113.8,49.6 118.0,48.3 C122.2,47.0 126.3,45.7 130.0,44.3 C133.7,42.9 136.8,41.3 140.0,40.0 C143.2,38.7 145.8,37.4 149.0,36.3 C152.2,35.2 155.2,33.9 159.0,33.5 C162.8,33.1 167.7,32.9 172.0,34.0 C176.3,35.1 181.0,37.0 185.0,40.0 C189.0,43.0 193.0,47.7 196.0,52.0 C199.0,56.3 201.7,61.7 203.0,66.0 C204.3,70.3 204.2,74.0 204.0,78.0 C203.8,82.0 202.8,86.7 202.0,90.0 C201.2,93.3 200.5,95.0 199.0,98.0 C197.5,101.0 195.3,105.3 193.0,108.0 C190.7,110.7 188.0,112.2 185.0,114.0 C182.0,115.8 179.2,117.4 175.0,119.0 C170.8,120.6 165.0,122.4 160.0,123.5 C155.0,124.6 149.3,125.1 145.0,125.5 C140.7,125.9 137.8,125.1 134.0,126.0 C130.2,126.9 125.5,129.7 122.0,131.0 C118.5,132.3 115.7,132.8 113.0,134.0 C110.3,135.2 107.8,136.7 106.0,138.0 C104.2,139.3 103.5,142.0 102.0,142.0 C100.5,142.0 98.7,139.5 97.0,138.0 C95.3,136.5 93.5,134.8 92.0,133.0 C90.5,131.2 89.5,128.5 88.0,127.0 C86.5,125.5 85.2,125.0 83.0,124.0 C80.8,123.0 77.2,122.0 75.0,121.0 C72.8,120.0 70.9,119.5 70.0,118.0 C69.1,116.5 69.7,115.0 69.5,112.0Z" fill="#fff"/><path d="M100.0,37.0 C99.5,35.5 100.3,30.7 101.0,28.0 C101.7,25.3 102.8,22.8 104.0,21.0 C105.2,19.2 106.7,18.0 108.0,17.5 C109.3,17.0 111.7,16.8 112.0,18.0 C112.3,19.2 110.8,22.7 110.0,25.0 C109.2,27.3 108.0,30.0 107.0,32.0 C106.0,34.0 105.2,36.2 104.0,37.0 C102.8,37.8 100.5,38.5 100.0,37.0Z" fill="#fff"/><path d="M85.5,46.0 C85.3,44.8 85.5,41.5 86.0,40.0 C86.5,38.5 87.8,37.2 88.5,37.0 C89.2,36.8 90.4,37.8 90.5,39.0 C90.6,40.2 89.6,42.7 89.0,44.0 C88.4,45.3 87.6,46.7 87.0,47.0 C86.4,47.3 85.7,47.2 85.5,46.0Z" fill="#fff"/><path d="M72.0,118.0 C73.0,117.3 77.3,117.8 80.0,118.0 C82.7,118.2 86.0,118.3 88.0,119.0 C90.0,119.7 92.0,120.8 92.0,122.0 C92.0,123.2 90.0,125.7 88.0,126.0 C86.0,126.3 82.3,124.7 80.0,124.0 C77.7,123.3 75.3,123.0 74.0,122.0 C72.7,121.0 71.0,118.7 72.0,118.0Z" fill="#000"/><path d="M96.0,116.0 C95.6,113.3 97.0,109.3 98.5,106.0 C100.0,102.7 102.6,99.0 105.0,96.0 C107.4,93.0 110.3,90.3 113.0,88.0 C115.7,85.7 118.6,83.5 121.0,82.0 C123.4,80.5 125.8,79.2 127.5,79.0 C129.2,78.8 130.5,79.2 131.5,81.0 C132.5,82.8 133.0,86.2 133.5,90.0 C134.0,93.8 134.4,100.2 134.5,104.0 C134.6,107.8 135.1,111.2 134.0,113.0 C132.9,114.8 130.3,114.2 128.0,115.0 C125.7,115.8 123.0,116.8 120.0,118.0 C117.0,119.2 113.2,121.8 110.0,122.5 C106.8,123.2 103.3,123.1 101.0,122.0 C98.7,120.9 96.4,118.7 96.0,116.0Z" fill="#000"/><path d="M108.0,127.0 C108.7,124.8 112.7,122.8 115.0,121.0 C117.3,119.2 119.7,117.8 122.0,116.5 C124.3,115.2 127.1,113.2 129.0,113.0 C130.9,112.8 132.8,113.2 133.5,115.0 C134.2,116.8 134.8,121.8 133.5,124.0 C132.2,126.2 128.6,127.2 126.0,128.5 C123.4,129.8 120.5,131.0 118.0,132.0 C115.5,133.0 112.7,135.3 111.0,134.5 C109.3,133.7 107.3,129.2 108.0,127.0Z" fill="#000"/><path d="M134.0,62.0 C135.0,58.7 137.3,56.7 140.0,55.0 C142.7,53.3 146.2,52.5 150.0,52.0 C153.8,51.5 158.8,51.2 163.0,52.0 C167.2,52.8 171.8,54.7 175.0,57.0 C178.2,59.3 180.7,62.5 182.0,66.0 C183.3,69.5 183.3,74.0 183.0,78.0 C182.7,82.0 181.8,86.8 180.0,90.0 C178.2,93.2 175.3,95.7 172.0,97.0 C168.7,98.3 163.7,98.5 160.0,98.0 C156.3,97.5 153.3,96.0 150.0,94.0 C146.7,92.0 142.7,89.2 140.0,86.0 C137.3,82.8 135.0,79.0 134.0,75.0 C133.0,71.0 133.0,65.3 134.0,62.0Z" fill="#000"/></g></mask>
<mask id="mRs" maskUnits="userSpaceOnUse" x="0" y="0" width="685" height="200"><g transform="translate(209.6,0.34) scale(0.585,0.575)"><path d="M72.0,118.0 C73.0,117.3 77.3,117.8 80.0,118.0 C82.7,118.2 86.0,118.3 88.0,119.0 C90.0,119.7 92.0,120.8 92.0,122.0 C92.0,123.2 90.0,125.7 88.0,126.0 C86.0,126.3 82.3,124.7 80.0,124.0 C77.7,123.3 75.3,123.0 74.0,122.0 C72.7,121.0 71.0,118.7 72.0,118.0Z" fill="#fff"/><path d="M96.0,116.0 C95.6,113.3 97.0,109.3 98.5,106.0 C100.0,102.7 102.6,99.0 105.0,96.0 C107.4,93.0 110.3,90.3 113.0,88.0 C115.7,85.7 118.6,83.5 121.0,82.0 C123.4,80.5 125.8,79.2 127.5,79.0 C129.2,78.8 130.5,79.2 131.5,81.0 C132.5,82.8 133.0,86.2 133.5,90.0 C134.0,93.8 134.4,100.2 134.5,104.0 C134.6,107.8 135.1,111.2 134.0,113.0 C132.9,114.8 130.3,114.2 128.0,115.0 C125.7,115.8 123.0,116.8 120.0,118.0 C117.0,119.2 113.2,121.8 110.0,122.5 C106.8,123.2 103.3,123.1 101.0,122.0 C98.7,120.9 96.4,118.7 96.0,116.0Z" fill="#fff"/><path d="M134.0,62.0 C135.0,58.7 137.3,56.7 140.0,55.0 C142.7,53.3 146.2,52.5 150.0,52.0 C153.8,51.5 158.8,51.2 163.0,52.0 C167.2,52.8 171.8,54.7 175.0,57.0 C178.2,59.3 180.7,62.5 182.0,66.0 C183.3,69.5 183.3,74.0 183.0,78.0 C182.7,82.0 181.8,86.8 180.0,90.0 C178.2,93.2 175.3,95.7 172.0,97.0 C168.7,98.3 163.7,98.5 160.0,98.0 C156.3,97.5 153.3,96.0 150.0,94.0 C146.7,92.0 142.7,89.2 140.0,86.0 C137.3,82.8 135.0,79.0 134.0,75.0 C133.0,71.0 133.0,65.3 134.0,62.0Z" fill="#fff"/><path d="M138.6,60.0 C140.3,55.3 146.0,56.0 150.6,56.0 C155.3,56.0 161.3,57.3 166.6,60.0 C172.0,62.7 181.3,68.0 182.6,72.0 C184.0,76.0 178.6,80.7 174.6,84.0 C170.6,87.3 163.3,89.3 158.6,92.0 C154.0,94.7 149.6,101.3 146.6,100.0 C143.6,98.7 142.0,90.7 140.6,84.0 C139.3,77.3 137.0,64.7 138.6,60.0Z" fill="#000"/><path d="M108.0,127.0 C108.7,124.8 112.7,122.8 115.0,121.0 C117.3,119.2 119.7,117.8 122.0,116.5 C124.3,115.2 127.1,113.2 129.0,113.0 C130.9,112.8 132.8,113.2 133.5,115.0 C134.2,116.8 134.8,121.8 133.5,124.0 C132.2,126.2 128.6,127.2 126.0,128.5 C123.4,129.8 120.5,131.0 118.0,132.0 C115.5,133.0 112.7,135.3 111.0,134.5 C109.3,133.7 107.3,129.2 108.0,127.0Z" fill="#000"/><path d="M148.0,68.0 C148.8,65.7 151.7,66.0 154.0,66.0 C156.3,66.0 159.3,66.7 162.0,68.0 C164.7,69.3 169.3,72.0 170.0,74.0 C170.7,76.0 168.0,78.3 166.0,80.0 C164.0,81.7 160.3,82.7 158.0,84.0 C155.7,85.3 153.5,88.7 152.0,88.0 C150.5,87.3 149.7,83.3 149.0,80.0 C148.3,76.7 147.2,70.3 148.0,68.0Z" fill="#000"/></g></mask>
<g mask="url(#mRd)"><rect x="244.7" y="6.1" width="87.8" height="80.5" filter="url(#sdR)"/></g>
<g mask="url(#mRs)"><rect x="244.7" y="6.1" width="87.8" height="80.5" filter="url(#ssR)"/></g>
<text x="392.20" y="10.00" font-size="8.4" text-anchor="middle" fill="#111" stroke="#111" font-weight="normal" >Wnt3a</text>
<mask id="mCd" maskUnits="userSpaceOnUse" x="0" y="0" width="685" height="200"><g transform="translate(312.1,0.34) scale(0.585,0.575)"><path d="M72.0,118.0 C73.0,117.3 77.3,117.8 80.0,118.0 C82.7,118.2 86.0,118.3 88.0,119.0 C90.0,119.7 92.0,120.8 92.0,122.0 C92.0,123.2 90.0,125.7 88.0,126.0 C86.0,126.3 82.3,124.7 80.0,124.0 C77.7,123.3 75.3,123.0 74.0,122.0 C72.7,121.0 71.0,118.7 72.0,118.0Z" fill="#fff"/><path d="M96.0,116.0 C95.6,113.3 97.0,109.3 98.5,106.0 C100.0,102.7 102.6,99.0 105.0,96.0 C107.4,93.0 110.3,90.3 113.0,88.0 C115.7,85.7 118.6,83.5 121.0,82.0 C123.4,80.5 125.8,79.2 127.5,79.0 C129.2,78.8 130.5,79.2 131.5,81.0 C132.5,82.8 133.0,86.2 133.5,90.0 C134.0,93.8 134.4,100.2 134.5,104.0 C134.6,107.8 135.1,111.2 134.0,113.0 C132.9,114.8 130.3,114.2 128.0,115.0 C125.7,115.8 123.0,116.8 120.0,118.0 C117.0,119.2 113.2,121.8 110.0,122.5 C106.8,123.2 103.3,123.1 101.0,122.0 C98.7,120.9 96.4,118.7 96.0,116.0Z" fill="#fff"/><path d="M134.0,62.0 C135.0,58.7 137.3,56.7 140.0,55.0 C142.7,53.3 146.2,52.5 150.0,52.0 C153.8,51.5 158.8,51.2 163.0,52.0 C167.2,52.8 171.8,54.7 175.0,57.0 C178.2,59.3 180.7,62.5 182.0,66.0 C183.3,69.5 183.3,74.0 183.0,78.0 C182.7,82.0 181.8,86.8 180.0,90.0 C178.2,93.2 175.3,95.7 172.0,97.0 C168.7,98.3 163.7,98.5 160.0,98.0 C156.3,97.5 153.3,96.0 150.0,94.0 C146.7,92.0 142.7,89.2 140.0,86.0 C137.3,82.8 135.0,79.0 134.0,75.0 C133.0,71.0 133.0,65.3 134.0,62.0Z" fill="#fff"/><path d="M100.0,37.0 C99.5,35.5 100.3,30.7 101.0,28.0 C101.7,25.3 102.8,22.8 104.0,21.0 C105.2,19.2 106.7,18.0 108.0,17.5 C109.3,17.0 111.7,16.8 112.0,18.0 C112.3,19.2 110.8,22.7 110.0,25.0 C109.2,27.3 108.0,30.0 107.0,32.0 C106.0,34.0 105.2,36.2 104.0,37.0 C102.8,37.8 100.5,38.5 100.0,37.0Z" fill="#fff"/><path d="M122.0,80.0 C122.2,77.7 125.8,74.8 128.0,72.0 C130.2,69.2 132.8,63.7 135.0,63.0 C137.2,62.3 140.5,65.2 141.0,68.0 C141.5,70.8 139.3,76.7 138.0,80.0 C136.7,83.3 134.8,87.0 133.0,88.0 C131.2,89.0 128.8,87.3 127.0,86.0 C125.2,84.7 121.8,82.3 122.0,80.0Z" fill="#fff"/><path d="M108.0,127.0 C108.7,124.8 112.7,122.8 115.0,121.0 C117.3,119.2 119.7,117.8 122.0,116.5 C124.3,115.2 127.1,113.2 129.0,113.0 C130.9,112.8 132.8,113.2 133.5,115.0 C134.2,116.8 134.8,121.8 133.5,124.0 C132.2,126.2 128.6,127.2 126.0,128.5 C123.4,129.8 120.5,131.0 118.0,132.0 C115.5,133.0 112.7,135.3 111.0,134.5 C109.3,133.7 107.3,129.2 108.0,127.0Z" fill="#000"/><path d="M148.0,68.0 C148.8,65.7 151.7,66.0 154.0,66.0 C156.3,66.0 159.3,66.7 162.0,68.0 C164.7,69.3 169.3,72.0 170.0,74.0 C170.7,76.0 168.0,78.3 166.0,80.0 C164.0,81.7 160.3,82.7 158.0,84.0 C155.7,85.3 153.5,88.7 152.0,88.0 C150.5,87.3 149.7,83.3 149.0,80.0 C148.3,76.7 147.2,70.3 148.0,68.0Z" fill="#000"/></g></mask>
<mask id="mCs" maskUnits="userSpaceOnUse" x="0" y="0" width="685" height="200"><g transform="translate(312.1,0.34) scale(0.585,0.575)"><path d="M69.5,112.0 C69.3,109.0 68.8,104.0 69.0,100.0 C69.2,96.0 70.0,92.0 70.5,88.0 C71.0,84.0 71.5,79.2 72.0,76.0 C72.5,72.8 72.5,71.1 73.5,69.0 C74.5,66.9 76.1,65.1 78.0,63.5 C79.9,61.9 82.2,60.9 85.0,59.5 C87.8,58.1 91.7,56.2 95.0,55.0 C98.3,53.8 101.2,53.4 105.0,52.3 C108.8,51.2 113.8,49.6 118.0,48.3 C122.2,47.0 126.3,45.7 130.0,44.3 C133.7,42.9 136.8,41.3 140.0,40.0 C143.2,38.7 145.8,37.4 149.0,36.3 C152.2,35.2 155.2,33.9 159.0,33.5 C162.8,33.1 167.7,32.9 172.0,34.0 C176.3,35.1 181.0,37.0 185.0,40.0 C189.0,43.0 193.0,47.7 196.0,52.0 C199.0,56.3 201.7,61.7 203.0,66.0 C204.3,70.3 204.2,74.0 204.0,78.0 C203.8,82.0 202.8,86.7 202.0,90.0 C201.2,93.3 200.5,95.0 199.0,98.0 C197.5,101.0 195.3,105.3 193.0,108.0 C190.7,110.7 188.0,112.2 185.0,114.0 C182.0,115.8 179.2,117.4 175.0,119.0 C170.8,120.6 165.0,122.4 160.0,123.5 C155.0,124.6 149.3,125.1 145.0,125.5 C140.7,125.9 137.8,125.1 134.0,126.0 C130.2,126.9 125.5,129.7 122.0,131.0 C118.5,132.3 115.7,132.8 113.0,134.0 C110.3,135.2 107.8,136.7 106.0,138.0 C104.2,139.3 103.5,142.0 102.0,142.0 C100.5,142.0 98.7,139.5 97.0,138.0 C95.3,136.5 93.5,134.8 92.0,133.0 C90.5,131.2 89.5,128.5 88.0,127.0 C86.5,125.5 85.2,125.0 83.0,124.0 C80.8,123.0 77.2,122.0 75.0,121.0 C72.8,120.0 70.9,119.5 70.0,118.0 C69.1,116.5 69.7,115.0 69.5,112.0Z" fill="#fff"/><path d="M72.0,118.0 C73.0,117.3 77.3,117.8 80.0,118.0 C82.7,118.2 86.0,118.3 88.0,119.0 C90.0,119.7 92.0,120.8 92.0,122.0 C92.0,123.2 90.0,125.7 88.0,126.0 C86.0,126.3 82.3,124.7 80.0,124.0 C77.7,123.3 75.3,123.0 74.0,122.0 C72.7,121.0 71.0,118.7 72.0,118.0Z" fill="#000"/><path d="M96.0,116.0 C95.6,113.3 97.0,109.3 98.5,106.0 C100.0,102.7 102.6,99.0 105.0,96.0 C107.4,93.0 110.3,90.3 113.0,88.0 C115.7,85.7 118.6,83.5 121.0,82.0 C123.4,80.5 125.8,79.2 127.5,79.0 C129.2,78.8 130.5,79.2 131.5,81.0 C132.5,82.8 133.0,86.2 133.5,90.0 C134.0,93.8 134.4,100.2 134.5,104.0 C134.6,107.8 135.1,111.2 134.0,113.0 C132.9,114.8 130.3,114.2 128.0,115.0 C125.7,115.8 123.0,116.8 120.0,118.0 C117.0,119.2 113.2,121.8 110.0,122.5 C106.8,123.2 103.3,123.1 101.0,122.0 C98.7,120.9 96.4,118.7 96.0,116.0Z" fill="#000"/><path d="M134.0,62.0 C135.0,58.7 137.3,56.7 140.0,55.0 C142.7,53.3 146.2,52.5 150.0,52.0 C153.8,51.5 158.8,51.2 163.0,52.0 C167.2,52.8 171.8,54.7 175.0,57.0 C178.2,59.3 180.7,62.5 182.0,66.0 C183.3,69.5 183.3,74.0 183.0,78.0 C182.7,82.0 181.8,86.8 180.0,90.0 C178.2,93.2 175.3,95.7 172.0,97.0 C168.7,98.3 163.7,98.5 160.0,98.0 C156.3,97.5 153.3,96.0 150.0,94.0 C146.7,92.0 142.7,89.2 140.0,86.0 C137.3,82.8 135.0,79.0 134.0,75.0 C133.0,71.0 133.0,65.3 134.0,62.0Z" fill="#000"/><path d="M108.0,127.0 C108.7,124.8 112.7,122.8 115.0,121.0 C117.3,119.2 119.7,117.8 122.0,116.5 C124.3,115.2 127.1,113.2 129.0,113.0 C130.9,112.8 132.8,113.2 133.5,115.0 C134.2,116.8 134.8,121.8 133.5,124.0 C132.2,126.2 128.6,127.2 126.0,128.5 C123.4,129.8 120.5,131.0 118.0,132.0 C115.5,133.0 112.7,135.3 111.0,134.5 C109.3,133.7 107.3,129.2 108.0,127.0Z" fill="#000"/></g></mask>
<g mask="url(#mCd)"><rect x="347.2" y="6.1" width="87.8" height="80.5" filter="url(#sdC)"/></g>
<g mask="url(#mCs)"><rect x="347.2" y="6.1" width="87.8" height="80.5" filter="url(#ssC)"/></g>
<text x="290.50" y="94.80" font-size="8.4" text-anchor="middle" fill="#111" stroke="#111" font-weight="normal" >Wnt5a</text>
<mask id="mTd" maskUnits="userSpaceOnUse" x="0" y="0" width="685" height="200"><g transform="translate(209.6,78.34) scale(0.585,0.575)"><path d="M69.5,112.0 C69.3,109.0 68.8,104.0 69.0,100.0 C69.2,96.0 70.0,92.0 70.5,88.0 C71.0,84.0 71.5,79.2 72.0,76.0 C72.5,72.8 72.5,71.1 73.5,69.0 C74.5,66.9 76.1,65.1 78.0,63.5 C79.9,61.9 82.2,60.9 85.0,59.5 C87.8,58.1 91.7,56.2 95.0,55.0 C98.3,53.8 101.2,53.4 105.0,52.3 C108.8,51.2 113.8,49.6 118.0,48.3 C122.2,47.0 126.3,45.7 130.0,44.3 C133.7,42.9 136.8,41.3 140.0,40.0 C143.2,38.7 145.8,37.4 149.0,36.3 C152.2,35.2 155.2,33.9 159.0,33.5 C162.8,33.1 167.7,32.9 172.0,34.0 C176.3,35.1 181.0,37.0 185.0,40.0 C189.0,43.0 193.0,47.7 196.0,52.0 C199.0,56.3 201.7,61.7 203.0,66.0 C204.3,70.3 204.2,74.0 204.0,78.0 C203.8,82.0 202.8,86.7 202.0,90.0 C201.2,93.3 200.5,95.0 199.0,98.0 C197.5,101.0 195.3,105.3 193.0,108.0 C190.7,110.7 188.0,112.2 185.0,114.0 C182.0,115.8 179.2,117.4 175.0,119.0 C170.8,120.6 165.0,122.4 160.0,123.5 C155.0,124.6 149.3,125.1 145.0,125.5 C140.7,125.9 137.8,125.1 134.0,126.0 C130.2,126.9 125.5,129.7 122.0,131.0 C118.5,132.3 115.7,132.8 113.0,134.0 C110.3,135.2 107.8,136.7 106.0,138.0 C104.2,139.3 103.5,142.0 102.0,142.0 C100.5,142.0 98.7,139.5 97.0,138.0 C95.3,136.5 93.5,134.8 92.0,133.0 C90.5,131.2 89.5,128.5 88.0,127.0 C86.5,125.5 85.2,125.0 83.0,124.0 C80.8,123.0 77.2,122.0 75.0,121.0 C72.8,120.0 70.9,119.5 70.0,118.0 C69.1,116.5 69.7,115.0 69.5,112.0Z" fill="#fff"/><path d="M100.0,37.0 C99.5,35.5 100.3,30.7 101.0,28.0 C101.7,25.3 102.8,22.8 104.0,21.0 C105.2,19.2 106.7,18.0 108.0,17.5 C109.3,17.0 111.7,16.8 112.0,18.0 C112.3,19.2 110.8,22.7 110.0,25.0 C109.2,27.3 108.0,30.0 107.0,32.0 C106.0,34.0 105.2,36.2 104.0,37.0 C102.8,37.8 100.5,38.5 100.0,37.0Z" fill="#fff"/><path d="M85.5,46.0 C85.3,44.8 85.5,41.5 86.0,40.0 C86.5,38.5 87.8,37.2 88.5,37.0 C89.2,36.8 90.4,37.8 90.5,39.0 C90.6,40.2 89.6,42.7 89.0,44.0 C88.4,45.3 87.6,46.7 87.0,47.0 C86.4,47.3 85.7,47.2 85.5,46.0Z" fill="#fff"/><path d="M72.0,118.0 C73.0,117.3 77.3,117.8 80.0,118.0 C82.7,118.2 86.0,118.3 88.0,119.0 C90.0,119.7 92.0,120.8 92.0,122.0 C92.0,123.2 90.0,125.7 88.0,126.0 C86.0,126.3 82.3,124.7 80.0,124.0 C77.7,123.3 75.3,123.0 74.0,122.0 C72.7,121.0 71.0,118.7 72.0,118.0Z" fill="#000"/><path d="M96.0,116.0 C95.6,113.3 97.0,109.3 98.5,106.0 C100.0,102.7 102.6,99.0 105.0,96.0 C107.4,93.0 110.3,90.3 113.0,88.0 C115.7,85.7 118.6,83.5 121.0,82.0 C123.4,80.5 125.8,79.2 127.5,79.0 C129.2,78.8 130.5,79.2 131.5,81.0 C132.5,82.8 133.0,86.2 133.5,90.0 C134.0,93.8 134.4,100.2 134.5,104.0 C134.6,107.8 135.1,111.2 134.0,113.0 C132.9,114.8 130.3,114.2 128.0,115.0 C125.7,115.8 123.0,116.8 120.0,118.0 C117.0,119.2 113.2,121.8 110.0,122.5 C106.8,123.2 103.3,123.1 101.0,122.0 C98.7,120.9 96.4,118.7 96.0,116.0Z" fill="#000"/><path d="M108.0,127.0 C108.7,124.8 112.7,122.8 115.0,121.0 C117.3,119.2 119.7,117.8 122.0,116.5 C124.3,115.2 127.1,113.2 129.0,113.0 C130.9,112.8 132.8,113.2 133.5,115.0 C134.2,116.8 134.8,121.8 133.5,124.0 C132.2,126.2 128.6,127.2 126.0,128.5 C123.4,129.8 120.5,131.0 118.0,132.0 C115.5,133.0 112.7,135.3 111.0,134.5 C109.3,133.7 107.3,129.2 108.0,127.0Z" fill="#000"/><path d="M134.0,62.0 C135.0,58.7 137.3,56.7 140.0,55.0 C142.7,53.3 146.2,52.5 150.0,52.0 C153.8,51.5 158.8,51.2 163.0,52.0 C167.2,52.8 171.8,54.7 175.0,57.0 C178.2,59.3 180.7,62.5 182.0,66.0 C183.3,69.5 183.3,74.0 183.0,78.0 C182.7,82.0 181.8,86.8 180.0,90.0 C178.2,93.2 175.3,95.7 172.0,97.0 C168.7,98.3 163.7,98.5 160.0,98.0 C156.3,97.5 153.3,96.0 150.0,94.0 C146.7,92.0 142.7,89.2 140.0,86.0 C137.3,82.8 135.0,79.0 134.0,75.0 C133.0,71.0 133.0,65.3 134.0,62.0Z" fill="#000"/></g></mask>
<mask id="mTs" maskUnits="userSpaceOnUse" x="0" y="0" width="685" height="200"><g transform="translate(209.6,78.34) scale(0.585,0.575)"><path d="M72.0,118.0 C73.0,117.3 77.3,117.8 80.0,118.0 C82.7,118.2 86.0,118.3 88.0,119.0 C90.0,119.7 92.0,120.8 92.0,122.0 C92.0,123.2 90.0,125.7 88.0,126.0 C86.0,126.3 82.3,124.7 80.0,124.0 C77.7,123.3 75.3,123.0 74.0,122.0 C72.7,121.0 71.0,118.7 72.0,118.0Z" fill="#fff"/><path d="M96.0,116.0 C95.6,113.3 97.0,109.3 98.5,106.0 C100.0,102.7 102.6,99.0 105.0,96.0 C107.4,93.0 110.3,90.3 113.0,88.0 C115.7,85.7 118.6,83.5 121.0,82.0 C123.4,80.5 125.8,79.2 127.5,79.0 C129.2,78.8 130.5,79.2 131.5,81.0 C132.5,82.8 133.0,86.2 133.5,90.0 C134.0,93.8 134.4,100.2 134.5,104.0 C134.6,107.8 135.1,111.2 134.0,113.0 C132.9,114.8 130.3,114.2 128.0,115.0 C125.7,115.8 123.0,116.8 120.0,118.0 C117.0,119.2 113.2,121.8 110.0,122.5 C106.8,123.2 103.3,123.1 101.0,122.0 C98.7,120.9 96.4,118.7 96.0,116.0Z" fill="#fff"/><path d="M134.0,62.0 C135.0,58.7 137.3,56.7 140.0,55.0 C142.7,53.3 146.2,52.5 150.0,52.0 C153.8,51.5 158.8,51.2 163.0,52.0 C167.2,52.8 171.8,54.7 175.0,57.0 C178.2,59.3 180.7,62.5 182.0,66.0 C183.3,69.5 183.3,74.0 183.0,78.0 C182.7,82.0 181.8,86.8 180.0,90.0 C178.2,93.2 175.3,95.7 172.0,97.0 C168.7,98.3 163.7,98.5 160.0,98.0 C156.3,97.5 153.3,96.0 150.0,94.0 C146.7,92.0 142.7,89.2 140.0,86.0 C137.3,82.8 135.0,79.0 134.0,75.0 C133.0,71.0 133.0,65.3 134.0,62.0Z" fill="#fff"/><path d="M138.6,60.0 C140.3,55.3 146.0,56.0 150.6,56.0 C155.3,56.0 161.3,57.3 166.6,60.0 C172.0,62.7 181.3,68.0 182.6,72.0 C184.0,76.0 178.6,80.7 174.6,84.0 C170.6,87.3 163.3,89.3 158.6,92.0 C154.0,94.7 149.6,101.3 146.6,100.0 C143.6,98.7 142.0,90.7 140.6,84.0 C139.3,77.3 137.0,64.7 138.6,60.0Z" fill="#000"/><path d="M108.0,127.0 C108.7,124.8 112.7,122.8 115.0,121.0 C117.3,119.2 119.7,117.8 122.0,116.5 C124.3,115.2 127.1,113.2 129.0,113.0 C130.9,112.8 132.8,113.2 133.5,115.0 C134.2,116.8 134.8,121.8 133.5,124.0 C132.2,126.2 128.6,127.2 126.0,128.5 C123.4,129.8 120.5,131.0 118.0,132.0 C115.5,133.0 112.7,135.3 111.0,134.5 C109.3,133.7 107.3,129.2 108.0,127.0Z" fill="#000"/><path d="M148.0,68.0 C148.8,65.7 151.7,66.0 154.0,66.0 C156.3,66.0 159.3,66.7 162.0,68.0 C164.7,69.3 169.3,72.0 170.0,74.0 C170.7,76.0 168.0,78.3 166.0,80.0 C164.0,81.7 160.3,82.7 158.0,84.0 C155.7,85.3 153.5,88.7 152.0,88.0 C150.5,87.3 149.7,83.3 149.0,80.0 C148.3,76.7 147.2,70.3 148.0,68.0Z" fill="#000"/></g></mask>
<g mask="url(#mTd)"><rect x="244.7" y="84.1" width="87.8" height="80.5" filter="url(#sdT)"/></g>
<g mask="url(#mTs)"><rect x="244.7" y="84.1" width="87.8" height="80.5" filter="url(#ssT)"/></g>
<text x="393.30" y="94.80" font-size="8.4" text-anchor="middle" fill="#111" stroke="#111" font-weight="normal" >Wnt10a</text>
<mask id="mNd" maskUnits="userSpaceOnUse" x="0" y="0" width="685" height="200"><g transform="translate(312.1,78.34) scale(0.585,0.575)"><path d="M69.5,112.0 C69.3,109.0 68.8,104.0 69.0,100.0 C69.2,96.0 70.0,92.0 70.5,88.0 C71.0,84.0 71.5,79.2 72.0,76.0 C72.5,72.8 72.5,71.1 73.5,69.0 C74.5,66.9 76.1,65.1 78.0,63.5 C79.9,61.9 82.2,60.9 85.0,59.5 C87.8,58.1 91.7,56.2 95.0,55.0 C98.3,53.8 101.2,53.4 105.0,52.3 C108.8,51.2 113.8,49.6 118.0,48.3 C122.2,47.0 126.3,45.7 130.0,44.3 C133.7,42.9 136.8,41.3 140.0,40.0 C143.2,38.7 145.8,37.4 149.0,36.3 C152.2,35.2 155.2,33.9 159.0,33.5 C162.8,33.1 167.7,32.9 172.0,34.0 C176.3,35.1 181.0,37.0 185.0,40.0 C189.0,43.0 193.0,47.7 196.0,52.0 C199.0,56.3 201.7,61.7 203.0,66.0 C204.3,70.3 204.2,74.0 204.0,78.0 C203.8,82.0 202.8,86.7 202.0,90.0 C201.2,93.3 200.5,95.0 199.0,98.0 C197.5,101.0 195.3,105.3 193.0,108.0 C190.7,110.7 188.0,112.2 185.0,114.0 C182.0,115.8 179.2,117.4 175.0,119.0 C170.8,120.6 165.0,122.4 160.0,123.5 C155.0,124.6 149.3,125.1 145.0,125.5 C140.7,125.9 137.8,125.1 134.0,126.0 C130.2,126.9 125.5,129.7 122.0,131.0 C118.5,132.3 115.7,132.8 113.0,134.0 C110.3,135.2 107.8,136.7 106.0,138.0 C104.2,139.3 103.5,142.0 102.0,142.0 C100.5,142.0 98.7,139.5 97.0,138.0 C95.3,136.5 93.5,134.8 92.0,133.0 C90.5,131.2 89.5,128.5 88.0,127.0 C86.5,125.5 85.2,125.0 83.0,124.0 C80.8,123.0 77.2,122.0 75.0,121.0 C72.8,120.0 70.9,119.5 70.0,118.0 C69.1,116.5 69.7,115.0 69.5,112.0Z" fill="#fff"/><path d="M100.0,37.0 C99.5,35.5 100.3,30.7 101.0,28.0 C101.7,25.3 102.8,22.8 104.0,21.0 C105.2,19.2 106.7,18.0 108.0,17.5 C109.3,17.0 111.7,16.8 112.0,18.0 C112.3,19.2 110.8,22.7 110.0,25.0 C109.2,27.3 108.0,30.0 107.0,32.0 C106.0,34.0 105.2,36.2 104.0,37.0 C102.8,37.8 100.5,38.5 100.0,37.0Z" fill="#fff"/><path d="M85.5,46.0 C85.3,44.8 85.5,41.5 86.0,40.0 C86.5,38.5 87.8,37.2 88.5,37.0 C89.2,36.8 90.4,37.8 90.5,39.0 C90.6,40.2 89.6,42.7 89.0,44.0 C88.4,45.3 87.6,46.7 87.0,47.0 C86.4,47.3 85.7,47.2 85.5,46.0Z" fill="#fff"/><path d="M72.0,118.0 C73.0,117.3 77.3,117.8 80.0,118.0 C82.7,118.2 86.0,118.3 88.0,119.0 C90.0,119.7 92.0,120.8 92.0,122.0 C92.0,123.2 90.0,125.7 88.0,126.0 C86.0,126.3 82.3,124.7 80.0,124.0 C77.7,123.3 75.3,123.0 74.0,122.0 C72.7,121.0 71.0,118.7 72.0,118.0Z" fill="#000"/><path d="M96.0,116.0 C95.6,113.3 97.0,109.3 98.5,106.0 C100.0,102.7 102.6,99.0 105.0,96.0 C107.4,93.0 110.3,90.3 113.0,88.0 C115.7,85.7 118.6,83.5 121.0,82.0 C123.4,80.5 125.8,79.2 127.5,79.0 C129.2,78.8 130.5,79.2 131.5,81.0 C132.5,82.8 133.0,86.2 133.5,90.0 C134.0,93.8 134.4,100.2 134.5,104.0 C134.6,107.8 135.1,111.2 134.0,113.0 C132.9,114.8 130.3,114.2 128.0,115.0 C125.7,115.8 123.0,116.8 120.0,118.0 C117.0,119.2 113.2,121.8 110.0,122.5 C106.8,123.2 103.3,123.1 101.0,122.0 C98.7,120.9 96.4,118.7 96.0,116.0Z" fill="#000"/><path d="M108.0,127.0 C108.7,124.8 112.7,122.8 115.0,121.0 C117.3,119.2 119.7,117.8 122.0,116.5 C124.3,115.2 127.1,113.2 129.0,113.0 C130.9,112.8 132.8,113.2 133.5,115.0 C134.2,116.8 134.8,121.8 133.5,124.0 C132.2,126.2 128.6,127.2 126.0,128.5 C123.4,129.8 120.5,131.0 118.0,132.0 C115.5,133.0 112.7,135.3 111.0,134.5 C109.3,133.7 107.3,129.2 108.0,127.0Z" fill="#000"/><path d="M134.0,62.0 C135.0,58.7 137.3,56.7 140.0,55.0 C142.7,53.3 146.2,52.5 150.0,52.0 C153.8,51.5 158.8,51.2 163.0,52.0 C167.2,52.8 171.8,54.7 175.0,57.0 C178.2,59.3 180.7,62.5 182.0,66.0 C183.3,69.5 183.3,74.0 183.0,78.0 C182.7,82.0 181.8,86.8 180.0,90.0 C178.2,93.2 175.3,95.7 172.0,97.0 C168.7,98.3 163.7,98.5 160.0,98.0 C156.3,97.5 153.3,96.0 150.0,94.0 C146.7,92.0 142.7,89.2 140.0,86.0 C137.3,82.8 135.0,79.0 134.0,75.0 C133.0,71.0 133.0,65.3 134.0,62.0Z" fill="#000"/></g></mask>
<mask id="mNs" maskUnits="userSpaceOnUse" x="0" y="0" width="685" height="200"><g transform="translate(312.1,78.34) scale(0.585,0.575)"><path d="M72.0,118.0 C73.0,117.3 77.3,117.8 80.0,118.0 C82.7,118.2 86.0,118.3 88.0,119.0 C90.0,119.7 92.0,120.8 92.0,122.0 C92.0,123.2 90.0,125.7 88.0,126.0 C86.0,126.3 82.3,124.7 80.0,124.0 C77.7,123.3 75.3,123.0 74.0,122.0 C72.7,121.0 71.0,118.7 72.0,118.0Z" fill="#fff"/><path d="M96.0,116.0 C95.6,113.3 97.0,109.3 98.5,106.0 C100.0,102.7 102.6,99.0 105.0,96.0 C107.4,93.0 110.3,90.3 113.0,88.0 C115.7,85.7 118.6,83.5 121.0,82.0 C123.4,80.5 125.8,79.2 127.5,79.0 C129.2,78.8 130.5,79.2 131.5,81.0 C132.5,82.8 133.0,86.2 133.5,90.0 C134.0,93.8 134.4,100.2 134.5,104.0 C134.6,107.8 135.1,111.2 134.0,113.0 C132.9,114.8 130.3,114.2 128.0,115.0 C125.7,115.8 123.0,116.8 120.0,118.0 C117.0,119.2 113.2,121.8 110.0,122.5 C106.8,123.2 103.3,123.1 101.0,122.0 C98.7,120.9 96.4,118.7 96.0,116.0Z" fill="#fff"/><path d="M134.0,62.0 C135.0,58.7 137.3,56.7 140.0,55.0 C142.7,53.3 146.2,52.5 150.0,52.0 C153.8,51.5 158.8,51.2 163.0,52.0 C167.2,52.8 171.8,54.7 175.0,57.0 C178.2,59.3 180.7,62.5 182.0,66.0 C183.3,69.5 183.3,74.0 183.0,78.0 C182.7,82.0 181.8,86.8 180.0,90.0 C178.2,93.2 175.3,95.7 172.0,97.0 C168.7,98.3 163.7,98.5 160.0,98.0 C156.3,97.5 153.3,96.0 150.0,94.0 C146.7,92.0 142.7,89.2 140.0,86.0 C137.3,82.8 135.0,79.0 134.0,75.0 C133.0,71.0 133.0,65.3 134.0,62.0Z" fill="#fff"/><path d="M138.6,60.0 C140.3,55.3 146.0,56.0 150.6,56.0 C155.3,56.0 161.3,57.3 166.6,60.0 C172.0,62.7 181.3,68.0 182.6,72.0 C184.0,76.0 178.6,80.7 174.6,84.0 C170.6,87.3 163.3,89.3 158.6,92.0 C154.0,94.7 149.6,101.3 146.6,100.0 C143.6,98.7 142.0,90.7 140.6,84.0 C139.3,77.3 137.0,64.7 138.6,60.0Z" fill="#000"/><path d="M108.0,127.0 C108.7,124.8 112.7,122.8 115.0,121.0 C117.3,119.2 119.7,117.8 122.0,116.5 C124.3,115.2 127.1,113.2 129.0,113.0 C130.9,112.8 132.8,113.2 133.5,115.0 C134.2,116.8 134.8,121.8 133.5,124.0 C132.2,126.2 128.6,127.2 126.0,128.5 C123.4,129.8 120.5,131.0 118.0,132.0 C115.5,133.0 112.7,135.3 111.0,134.5 C109.3,133.7 107.3,129.2 108.0,127.0Z" fill="#000"/><path d="M148.0,68.0 C148.8,65.7 151.7,66.0 154.0,66.0 C156.3,66.0 159.3,66.7 162.0,68.0 C164.7,69.3 169.3,72.0 170.0,74.0 C170.7,76.0 168.0,78.3 166.0,80.0 C164.0,81.7 160.3,82.7 158.0,84.0 C155.7,85.3 153.5,88.7 152.0,88.0 C150.5,87.3 149.7,83.3 149.0,80.0 C148.3,76.7 147.2,70.3 148.0,68.0Z" fill="#000"/></g></mask>
<g mask="url(#mNd)"><rect x="347.2" y="84.1" width="87.8" height="80.5" filter="url(#sdN)"/></g>
<g mask="url(#mNs)"><rect x="347.2" y="84.1" width="87.8" height="80.5" filter="url(#ssN)"/></g>
<rect x="495.60" y="32.10" width="26.20" height="27.50" fill="#D73027" stroke="#999" stroke-width="0.8" />
<rect x="521.80" y="32.10" width="26.20" height="27.50" fill="#4575B4" stroke="#999" stroke-width="0.8" />
<rect x="548.00" y="32.10" width="26.20" height="27.50" fill="#ABD4E7" stroke="#999" stroke-width="0.8" />
<rect x="574.20" y="32.10" width="26.20" height="27.50" fill="#D2E7F1" stroke="#999" stroke-width="0.8" />
<rect x="495.60" y="59.60" width="26.20" height="27.50" fill="#4575B4" stroke="#999" stroke-width="0.8" />
<rect x="521.80" y="59.60" width="26.20" height="27.50" fill="#D73027" stroke="#999" stroke-width="0.8" />
<rect x="548.00" y="59.60" width="26.20" height="27.50" fill="#FDB870" stroke="#999" stroke-width="0.8" />
<rect x="574.20" y="59.60" width="26.20" height="27.50" fill="#EE6A46" stroke="#999" stroke-width="0.8" />
<rect x="495.60" y="87.10" width="26.20" height="27.50" fill="#ABD4E7" stroke="#999" stroke-width="0.8" />
<rect x="521.80" y="87.10" width="26.20" height="27.50" fill="#FDB870" stroke="#999" stroke-width="0.8" />
<rect x="548.00" y="87.10" width="26.20" height="27.50" fill="#D73027" stroke="#999" stroke-width="0.8" />
<rect x="574.20" y="87.10" width="26.20" height="27.50" fill="#EE6A46" stroke="#999" stroke-width="0.8" />
<rect x="495.60" y="114.60" width="26.20" height="27.60" fill="#D2E7F1" stroke="#999" stroke-width="0.8" />
<rect x="521.80" y="114.60" width="26.20" height="27.60" fill="#EE6A46" stroke="#999" stroke-width="0.8" />
<rect x="548.00" y="114.60" width="26.20" height="27.60" fill="#EE6A46" stroke="#999" stroke-width="0.8" />
<rect x="574.20" y="114.60" width="26.20" height="27.60" fill="#D73027" stroke="#999" stroke-width="0.8" />
<path d="M508.6,32.1 L508.6,15.1 L554.4,15.1 L554.4,27.5" fill="none" stroke="#333" stroke-width="1.1"/>
<path d="M534.8,32.1 L534.8,27.5 L574,27.5 L574,30.1" fill="none" stroke="#333" stroke-width="1.1"/>
<path d="M561,32.1 L561,30.1 L587.2,30.1 L587.2,32.1" fill="none" stroke="#333" stroke-width="1.1"/>
<path d="M495.6,45.9 L476.6,45.9 L476.6,94.5 L490.6,94.5" fill="none" stroke="#333" stroke-width="1.1"/>
<path d="M495.6,73.4 L490.6,73.4 L490.6,114.5 L492.6,114.5" fill="none" stroke="#333" stroke-width="1.1"/>
<path d="M495.6,100.9 L492.6,100.9 L492.6,128.4 L495.6,128.4" fill="none" stroke="#333" stroke-width="1.1"/>
<text x="605.00" y="48.80" font-size="8.4" text-anchor="start" fill="#111" stroke="#111" font-weight="normal" >Wnt3a</text>
<text x="605.00" y="76.40" font-size="8.4" text-anchor="start" fill="#111" stroke="#111" font-weight="normal" >Wnt10a</text>
<text x="605.00" y="104.00" font-size="8.4" text-anchor="start" fill="#111" stroke="#111" font-weight="normal" >Control</text>
<text x="605.00" y="131.30" font-size="8.4" text-anchor="start" fill="#111" stroke="#111" font-weight="normal" >Wnt5a</text>
<text x="0.00" y="0.00" font-size="8.4" text-anchor="start" fill="#111" stroke="#111" font-weight="normal" transform="translate(505.7,147) rotate(90)">Wnt3a</text>
<text x="0.00" y="0.00" font-size="8.4" text-anchor="start" fill="#111" stroke="#111" font-weight="normal" transform="translate(531.9,147) rotate(90)">Wnt10a</text>
<text x="0.00" y="0.00" font-size="8.4" text-anchor="start" fill="#111" stroke="#111" font-weight="normal" transform="translate(558.1,147) rotate(90)">Control</text>
<text x="0.00" y="0.00" font-size="8.4" text-anchor="start" fill="#111" stroke="#111" font-weight="normal" transform="translate(584.3,147) rotate(90)">Wnt5a</text>
<defs><linearGradient id="rdylbu" x1="0" y1="1" x2="0" y2="0"><stop offset="0" stop-color="#4575B4"/><stop offset="0.17" stop-color="#91BFDB"/><stop offset="0.33" stop-color="#E0F3F8"/><stop offset="0.5" stop-color="#FFFFBF"/><stop offset="0.67" stop-color="#FEE090"/><stop offset="0.83" stop-color="#FC8D59"/><stop offset="1" stop-color="#D73027"/></linearGradient></defs>
<rect x="647.00" y="41.10" width="6.40" height="97.70" fill="url(#rdylbu)" stroke="none" stroke-width="0.6" />
<text x="658.50" y="48.20" font-size="8.4" text-anchor="start" fill="#111" stroke="#111" font-weight="normal" >1</text>
<text x="658.50" y="71.30" font-size="8.4" text-anchor="start" fill="#111" stroke="#111" font-weight="normal" >0.995</text>
<text x="658.50" y="95.00" font-size="8.4" text-anchor="start" fill="#111" stroke="#111" font-weight="normal" >0.990</text>
<text x="658.50" y="121.70" font-size="8.4" text-anchor="start" fill="#111" stroke="#111" font-weight="normal" >0.985</text>
<line x1="55.2" y1="210.8" x2="55.2" y2="315.2" stroke="#EDEDED" stroke-width="0.5"/><line x1="93.5" y1="210.8" x2="93.5" y2="315.2" stroke="#EDEDED" stroke-width="0.5"/><line x1="131.7" y1="210.8" x2="131.7" y2="315.2" stroke="#EDEDED" stroke-width="0.5"/><line x1="170.0" y1="210.8" x2="170.0" y2="315.2" stroke="#EDEDED" stroke-width="0.5"/><line x1="208.2" y1="210.8" x2="208.2" y2="315.2" stroke="#EDEDED" stroke-width="0.5"/><line x1="74.3" y1="210.8" x2="74.3" y2="315.2" stroke="#E3E3E3" stroke-width="0.9"/><line x1="112.6" y1="210.8" x2="112.6" y2="315.2" stroke="#E3E3E3" stroke-width="0.9"/><line x1="150.8" y1="210.8" x2="150.8" y2="315.2" stroke="#E3E3E3" stroke-width="0.9"/><line x1="189.1" y1="210.8" x2="189.1" y2="315.2" stroke="#E3E3E3" stroke-width="0.9"/><line x1="39.9" y1="295.2" x2="225.5" y2="295.2" stroke="#EDEDED" stroke-width="0.5"/><line x1="39.9" y1="264.2" x2="225.5" y2="264.2" stroke="#EDEDED" stroke-width="0.5"/><line x1="39.9" y1="233.1" x2="225.5" y2="233.1" stroke="#EDEDED" stroke-width="0.5"/><line x1="39.9" y1="310.8" x2="225.5" y2="310.8" stroke="#E3E3E3" stroke-width="0.9"/><line x1="39.9" y1="279.7" x2="225.5" y2="279.7" stroke="#E3E3E3" stroke-width="0.9"/><line x1="39.9" y1="248.6" x2="225.5" y2="248.6" stroke="#E3E3E3" stroke-width="0.9"/><line x1="39.9" y1="217.5" x2="225.5" y2="217.5" stroke="#E3E3E3" stroke-width="0.9"/>
<rect x="97.30" y="308.31" width="30.60" height="3.49" fill="#333" stroke="none" stroke-width="0.6" />
<path d="M97.3,310.8 L97.3,293.7 L104.9,290.6 L111.5,295.2 L111.5,310.8Z" fill="#4169E1" />
<path d="M127.9,310.8 L127.9,293.7 L120.2,290.6 L113.7,295.2 L113.7,310.8Z" fill="#4169E1" />
<path d="M103.1 283.1h0M107.4 299.1h0M120.8 302.6h0M109.9 310.3h0M120.3 286.2h0M101.4 305.5h0M102.8 309.0h0M114.3 310.4h0M98.2 302.6h0M97.8 288.7h0M100.5 262.9h0M106.1 291.5h0M127.1 266.1h0M125.7 296.9h0M108.4 227.0h0M115.8 303.9h0M121.3 269.6h0M106.7 295.6h0M125.8 298.8h0M104.3 287.5h0M120.0 307.6h0M115.2 292.2h0M100.3 298.2h0M119.4 288.2h0M114.5 290.0h0M123.2 307.6h0M97.7 285.6h0M105.3 303.6h0M120.7 305.4h0M105.6 277.5h0M103.7 296.7h0M127.1 299.6h0M122.2 307.0h0M121.0 303.3h0M113.7 297.5h0M120.6 310.3h0M102.2 297.1h0M99.2 283.4h0M114.3 261.6h0M110.0 310.5h0M100.6 305.2h0M115.6 294.0h0M118.3 307.7h0M121.6 307.7h0M123.2 304.8h0M121.2 308.7h0M119.7 301.5h0M107.4 305.8h0M97.9 301.1h0M107.8 302.1h0M101.1 307.8h0M121.8 306.5h0M117.3 292.9h0M123.6 283.0h0M114.8 304.7h0M99.0 304.5h0M106.6 262.9h0M105.1 305.8h0M103.2 278.3h0M97.9 296.4h0M99.7 275.9h0M105.7 303.5h0M103.0 272.0h0M104.1 263.3h0M118.4 299.0h0M122.7 302.0h0M114.1 307.0h0M125.3 296.6h0M106.2 306.7h0M99.5 264.8h0M126.7 279.7h0M124.8 297.8h0M101.0 309.3h0M108.7 297.6h0M124.7 295.1h0M119.4 303.7h0M117.5 261.5h0M116.0 297.1h0M106.5 301.9h0M126.0 284.3h0M106.2 294.5h0M115.1 297.1h0M98.1 303.0h0M122.1 266.5h0M126.4 308.9h0M99.7 310.6h0M109.9 308.7h0M108.4 284.5h0M116.4 300.5h0M108.8 278.9h0M126.6 302.7h0M121.9 289.5h0M115.4 292.7h0M111.0 284.4h0M124.2 304.2h0M118.6 309.7h0M127.4 250.9h0M107.5 284.5h0M123.4 305.7h0M106.7 306.0h0M99.8 309.2h0M115.3 296.2h0M127.0 302.3h0M114.5 307.3h0M117.7 309.0h0M107.6 310.4h0M105.3 305.5h0M100.9 310.4h0M106.9 283.9h0M120.8 277.3h0M104.0 283.7h0M103.9 292.1h0M100.3 239.1h0M118.5 289.7h0M115.9 306.8h0M100.3 281.4h0M108.5 301.1h0M110.6 276.9h0M107.4 309.7h0M125.3 297.2h0M125.8 300.5h0M125.7 307.6h0M114.2 293.0h0M127.4 310.5h0M122.3 295.4h0M107.4 280.6h0M122.1 307.6h0M107.7 310.7h0M121.2 292.9h0M126.9 293.4h0M107.7 299.1h0M127.2 289.5h0M122.0 270.2h0M127.4 306.6h0M100.5 293.1h0M116.4 286.0h0M106.6 290.6h0M116.5 290.1h0M122.5 277.6h0M116.6 305.9h0M98.2 289.1h0M104.1 302.2h0M119.6 278.9h0M103.7 309.2h0M122.9 305.5h0M98.0 308.2h0M104.7 266.7h0M127.0 270.8h0M116.4 304.1h0M102.3 299.4h0M109.5 295.1h0M126.6 292.3h0M117.7 287.1h0M98.0 297.9h0M110.9 249.0h0M99.6 306.8h0M116.2 307.0h0M122.4 305.9h0M125.1 282.5h0M103.4 299.3h0M100.4 296.3h0M117.0 282.3h0M109.5 287.3h0M127.3 286.3h0M110.2 302.8h0M120.4 291.5h0M113.7 300.8h0M119.1 297.5h0M125.0 291.1h0M115.7 268.1h0M117.0 310.7h0M123.0 288.9h0M97.6 300.2h0M127.0 289.5h0M123.9 300.6h0M105.9 310.7h0M122.3 250.6h0M126.0 295.8h0M104.1 287.4h0M123.0 301.9h0M102.2 263.5h0M125.8 285.8h0M106.1 305.5h0M126.1 297.4h0M104.5 305.7h0M104.4 310.0h0M100.7 301.4h0M114.9 300.8h0M103.9 260.8h0M105.3 290.8h0M117.1 306.8h0M118.0 309.5h0M120.8 296.8h0M108.7 292.7h0M119.2 287.8h0M122.0 307.6h0M126.0 304.0h0M107.4 294.7h0M99.4 310.3h0M118.7 301.1h0M100.2 307.2h0M99.1 296.0h0M102.6 305.6h0M109.2 308.3h0M119.3 287.0h0M109.5 306.9h0M114.9 306.4h0M121.1 309.0h0M110.7 282.4h0M98.9 306.6h0M104.1 297.9h0M119.0 279.7h0M102.5 307.6h0M105.4 299.1h0M124.5 248.7h0M99.8 300.2h0M117.2 289.3h0M121.2 308.8h0M97.5 310.0h0M99.3 304.2h0M125.8 305.0h0M105.4 274.5h0M100.1 310.3h0M116.1 292.1h0M103.1 305.8h0M104.5 279.5h0M110.8 309.7h0M110.7 305.3h0M104.9 307.2h0M123.1 287.5h0M101.8 302.4h0M127.4 293.2h0M107.6 295.6h0M106.1 294.9h0M98.7 297.3h0M101.2 297.7h0M101.1 287.5h0M107.5 246.7h0M110.4 306.9h0M125.9 309.9h0M98.6 298.5h0M115.4 304.4h0M103.6 300.8h0M98.8 286.1h0M114.2 298.1h0M107.5 304.1h0M114.3 302.5h0M118.6 308.4h0M125.3 277.7h0M115.3 279.3h0M106.3 303.7h0M127.2 295.8h0M109.3 282.0h0M98.8 280.3h0M124.4 307.0h0M121.5 309.0h0M115.9 309.7h0M125.4 292.8h0M120.1 304.2h0M118.8 287.2h0M103.6 308.0h0M125.0 296.2h0M127.5 299.6h0M126.8 251.0h0M98.4 283.2h0M110.6 299.2h0M125.0 290.0h0M119.3 262.0h0M119.9 300.1h0M121.6 307.7h0M107.5 306.5h0M98.6 307.3h0M127.0 294.3h0M97.7 291.2h0M108.2 309.6h0M99.3 283.8h0M102.1 307.5h0M114.1 302.9h0M124.0 305.1h0M102.7 276.5h0M105.0 291.5h0M100.0 288.7h0M119.9 310.7h0M121.4 299.4h0M122.8 298.6h0M114.4 278.2h0M113.8 255.5h0M103.4 281.3h0M127.4 297.4h0M121.6 297.4h0M122.6 295.9h0M118.5 298.7h0M103.3 246.6h0M107.4 310.6h0M124.4 296.5h0M120.1 305.1h0M98.7 266.5h0M105.6 300.1h0M123.0 278.1h0M119.7 283.0h0M119.2 301.6h0M97.5 282.0h0M125.9 295.6h0M127.1 301.7h0M124.4 290.7h0M118.9 268.8h0M101.1 299.2h0M124.1 309.2h0M108.1 308.0h0M109.7 307.9h0M105.4 288.8h0M109.9 294.6h0M103.3 297.7h0M114.6 292.8h0M100.9 291.4h0M97.5 291.1h0M104.3 283.8h0M100.2 291.5h0M99.2 308.5h0M118.4 298.7h0M115.7 277.9h0M109.0 294.5h0M108.7 305.7h0M126.1 293.6h0M100.2 294.1h0M115.5 286.5h0M126.8 251.6h0M114.7 294.0h0M124.7 279.2h0M103.9 305.4h0M105.2 308.4h0M105.3 293.8h0M103.5 294.7h0M98.1 305.4h0M123.8 305.5h0M104.0 295.2h0M106.2 294.9h0M100.8 295.9h0M121.7 309.8h0M121.6 308.3h0M106.5 299.2h0M115.7 273.5h0M117.3 293.5h0M103.1 291.1h0M103.1 298.8h0M120.1 310.7h0M99.7 281.3h0M110.0 306.5h0M118.0 289.1h0M114.1 304.0h0M109.5 271.7h0M101.6 310.1h0M109.9 217.5h0M118.7 305.4h0M105.9 309.4h0M119.5 289.0h0M109.9 304.0h0M103.8 304.2h0M106.0 283.0h0M102.6 275.9h0M115.3 296.1h0M122.1 297.7h0M118.4 306.6h0M121.9 309.9h0M108.6 306.7h0M118.1 310.5h0M127.0 305.6h0M105.3 308.9h0M114.9 245.9h0M121.8 279.0h0M102.4 300.7h0M108.9 268.9h0M101.6 280.8h0M125.7 278.6h0M119.4 304.9h0M99.4 302.6h0M119.9 246.5h0M107.2 292.0h0M103.5 310.6h0M105.6 296.7h0M104.5 285.0h0M118.1 302.9h0M122.6 309.9h0M124.9 293.0h0M99.9 280.3h0M103.6 286.2h0M125.0 296.4h0M125.2 281.5h0M98.4 294.2h0M103.1 303.2h0M109.5 310.1h0M120.2 288.6h0M123.3 217.5h0M102.4 301.6h0M118.3 281.8h0M125.2 306.1h0M110.5 291.7h0M103.4 294.0h0M124.6 308.6h0M104.3 306.8h0M105.4 306.4h0M106.3 250.9h0M100.2 300.2h0M119.4 292.8h0M104.9 302.1h0M103.0 266.1h0M109.0 302.7h0M100.0 292.7h0M104.5 302.7h0M126.7 307.9h0M98.1 310.5h0M125.3 289.9h0M103.5 302.3h0M103.4 305.9h0M126.6 292.2h0M123.4 309.4h0M108.6 295.7h0M105.0 283.7h0M101.3 290.7h0M107.5 284.9h0M103.1 310.0h0M103.2 293.3h0M114.5 298.3h0M111.1 277.3h0M118.1 301.6h0M97.6 289.8h0M124.8 293.5h0M121.9 290.3h0M125.3 299.1h0M119.3 308.0h0M125.8 284.9h0M100.9 303.8h0M107.4 305.8h0M118.1 300.0h0M98.0 256.2h0M108.3 283.1h0M103.4 289.3h0M102.9 297.0h0M124.0 309.3h0M108.9 292.0h0M100.7 302.6h0M102.8 308.4h0M98.4 278.4h0M107.0 292.3h0M119.2 279.6h0M106.8 308.1h0M121.7 309.2h0M117.1 300.2h0M125.2 294.2h0M102.4 286.8h0M122.8 309.9h0M116.4 308.4h0M109.6 301.0h0M100.7 298.8h0M115.8 270.4h0M99.8 302.5h0M99.8 296.0h0M101.1 282.5h0M123.4 297.3h0M107.2 293.4h0M99.3 252.1h0M119.8 299.1h0M108.4 310.5h0M104.1 302.2h0M126.6 309.1h0M99.4 280.1h0M98.0 295.3h0M99.4 302.5h0M116.9 303.2h0M106.2 309.9h0M99.6 307.5h0M99.3 263.1h0M114.5 298.9h0M115.3 302.1h0M119.8 270.4h0M127.3 309.9h0M114.0 304.6h0M125.1 295.3h0M114.9 294.8h0M120.1 217.5h0M103.0 308.7h0M109.7 303.9h0M124.5 310.2h0M122.3 299.5h0M99.4 300.7h0M98.4 269.6h0M117.2 272.1h0M102.8 301.9h0M125.5 217.8h0M122.7 310.1h0M100.4 306.0h0M124.6 302.1h0M122.2 294.3h0M101.2 270.6h0M120.0 308.5h0M117.5 309.0h0M114.6 298.5h0M99.7 309.5h0M119.0 304.8h0M110.8 282.0h0M111.0 304.3h0M98.9 310.1h0M116.7 270.9h0M109.5 308.4h0M101.0 300.3h0M105.9 300.4h0M117.3 264.7h0M111.2 299.3h0M107.4 297.1h0M107.8 273.4h0M110.8 298.0h0M104.8 306.0h0M118.8 261.4h0M108.3 307.4h0M127.2 295.9h0M119.3 299.4h0M101.9 296.0h0M125.5 295.9h0M115.0 301.5h0M127.1 280.3h0M122.6 287.9h0M122.6 307.7h0M123.6 298.1h0M122.7 305.7h0M114.0 286.6h0M120.6 303.3h0M117.1 299.7h0M123.8 294.0h0M126.0 309.8h0M106.0 284.5h0M107.4 297.5h0M106.7 310.5h0M118.6 274.8h0M108.1 309.3h0M101.7 281.4h0M109.3 290.7h0M122.7 306.3h0M100.6 286.6h0M118.5 302.7h0M125.3 277.4h0M105.3 306.3h0M102.4 293.8h0M101.1 302.6h0M101.1 304.7h0M113.7 289.9h0M120.5 307.6h0M110.9 302.9h0M126.1 298.5h0M127.0 308.8h0M125.3 292.2h0M113.9 304.4h0M102.1 308.7h0M99.1 287.2h0M120.3 284.6h0M109.7 298.4h0M109.3 267.0h0M108.0 291.7h0M124.3 278.1h0M110.5 310.2h0M118.9 310.5h0M103.2 300.0h0M118.4 297.1h0M126.3 307.3h0M126.3 306.1h0M114.4 304.0h0M111.2 307.3h0M100.5 306.6h0M106.7 282.7h0M100.1 274.8h0M110.4 300.8h0M110.7 305.0h0M114.8 309.2h0M100.1 292.1h0M110.5 309.8h0M110.0 284.4h0M98.2 289.4h0M126.1 288.9h0M124.7 304.1h0M120.6 275.3h0M126.0 302.4h0M126.9 280.3h0M126.2 269.5h0M107.6 285.4h0M126.3 297.8h0M124.6 302.9h0M119.3 304.3h0M121.4 302.9h0M116.5 296.5h0M108.7 293.1h0M109.2 309.4h0M117.5 293.1h0M107.1 299.8h0M105.0 297.1h0M126.7 278.9h0M114.9 307.3h0M97.6 288.6h0M102.0 288.1h0M121.3 275.9h0M119.0 308.6h0M114.3 305.4h0M110.4 279.7h0M118.8 302.0h0M124.8 306.3h0M123.9 310.7h0M97.8 306.5h0M116.1 306.4h0M122.2 298.6h0M126.0 300.9h0M116.7 276.7h0M104.9 309.5h0M107.8 308.2h0M111.1 299.4h0M110.6 303.2h0M101.6 276.2h0M104.8 292.5h0M116.5 290.7h0M108.0 273.1h0M98.7 278.0h0M122.0 308.3h0M103.8 292.1h0M122.6 273.0h0M104.2 301.6h0M107.3 229.8h0M114.1 307.4h0M117.4 305.6h0M126.1 258.8h0M127.1 304.8h0M114.6 301.1h0M107.1 285.8h0M122.2 294.8h0M106.4 303.4h0M119.2 287.5h0M105.4 300.6h0M127.4 306.0h0M110.1 309.5h0M122.2 290.2h0M103.1 299.0h0M105.6 288.8h0M116.5 295.6h0M99.5 302.9h0M120.4 290.9h0M125.8 300.8h0M116.9 308.3h0M98.0 296.5h0M103.1 299.7h0M98.9 294.7h0M123.3 298.6h0M127.7 308.5h0M116.0 307.6h0M108.5 269.3h0M117.5 289.8h0M120.6 297.1h0M103.7 298.7h0M122.5 284.3h0M123.5 291.2h0M115.7 302.6h0M102.4 300.9h0M119.3 306.8h0M101.0 309.0h0M116.0 302.1h0M120.5 278.0h0M102.8 260.6h0M121.1 304.9h0M124.9 307.5h0M116.7 285.2h0M100.0 309.7h0M104.7 304.2h0M126.3 309.0h0M100.7 305.2h0M120.7 298.7h0M105.3 276.4h0M121.3 304.2h0M127.4 294.6h0M100.2 240.6h0M123.2 307.9h0M105.0 300.5h0M122.0 263.3h0M114.0 299.4h0M118.5 289.5h0M118.6 286.9h0M109.8 307.4h0M104.5 297.6h0M118.7 281.1h0M124.2 304.2h0M118.8 290.7h0M108.7 297.6h0M110.6 304.2h0M106.4 261.9h0M119.3 295.1h0M117.1 271.0h0M126.6 304.4h0M123.5 307.5h0M123.2 251.7h0M122.6 284.9h0M107.7 281.2h0M119.6 289.6h0M115.4 310.7h0M115.3 301.8h0M109.6 284.0h0M100.6 308.1h0M118.8 275.7h0M127.0 306.8h0M108.8 297.6h0M109.4 295.8h0M104.9 278.4h0M122.5 310.4h0M107.8 290.6h0M114.3 292.8h0M103.5 296.6h0M108.1 289.7h0M126.4 303.5h0M105.6 310.3h0M126.3 289.1h0M101.5 283.5h0M114.5 281.5h0M110.2 308.9h0M99.1 303.9h0M124.1 223.1h0M123.4 308.2h0M123.2 264.7h0M120.0 302.9h0M108.3 308.1h0M111.1 291.9h0M125.0 300.9h0M110.5 281.9h0M110.7 277.8h0M120.1 277.2h0M126.5 285.0h0M103.9 308.4h0M122.4 303.4h0M102.2 308.5h0M99.9 303.0h0M106.9 299.9h0M104.2 287.1h0M115.3 297.4h0M109.3 278.6h0M123.1 297.3h0M117.6 217.5h0M120.9 288.2h0M115.7 306.8h0M115.5 303.3h0M109.6 292.6h0M111.4 301.1h0M109.9 299.4h0M103.0 296.7h0M122.9 291.8h0M107.1 294.2h0M117.3 269.8h0M124.9 259.8h0M121.7 305.4h0M100.7 300.9h0M122.4 307.4h0M124.7 292.0h0M127.6 296.8h0M120.9 293.8h0M114.0 225.6h0M127.4 272.6h0M117.8 279.6h0M116.0 298.9h0M97.5 278.2h0M120.8 296.4h0M121.8 308.5h0M103.5 285.7h0M100.2 305.1h0M124.2 298.9h0M103.1 308.8h0M122.6 293.4h0M115.3 299.0h0M122.4 291.3h0M108.7 294.4h0M109.5 297.9h0M108.8 308.0h0M109.9 303.4h0M118.0 308.3h0M110.3 295.3h0M98.3 310.4h0M125.7 301.4h0M108.4 285.8h0M98.3 243.0h0M127.2 301.6h0M121.4 308.1h0M100.2 306.3h0M105.8 276.2h0M125.4 306.6h0M101.4 244.3h0M115.6 291.1h0M104.4 305.6h0M127.7 271.7h0M101.5 302.6h0M100.2 302.6h0M109.3 277.5h0M98.9 290.1h0M117.0 303.8h0M107.6 296.2h0M104.0 289.8h0M119.8 249.8h0M102.3 261.1h0M105.0 309.7h0M122.8 293.4h0M102.7 299.7h0M117.9 280.5h0M106.4 261.7h0M127.0 271.1h0M103.2 288.2h0M100.4 300.4h0M107.0 283.0h0M124.0 302.6h0M122.3 308.4h0M121.1 279.3h0M103.9 302.7h0M105.2 309.3h0M98.7 309.3h0M106.1 310.1h0M99.7 295.8h0M118.5 297.6h0M125.8 277.6h0M98.9 303.3h0M106.4 306.3h0M102.2 290.1h0M127.2 304.6h0M124.1 295.6h0M117.8 292.5h0M109.0 306.1h0M110.0 302.1h0M108.7 297.0h0M106.5 269.9h0M108.8 300.7h0M125.1 290.2h0M124.8 288.9h0M121.4 283.8h0M119.0 309.6h0M109.4 300.1h0M113.9 258.5h0M120.3 308.8h0M107.6 306.7h0M126.6 305.6h0M117.9 310.0h0M102.3 277.8h0M114.5 309.4h0M123.4 308.7h0M108.3 307.1h0M102.3 291.0h0M104.8 288.5h0M99.6 307.6h0M107.9 309.7h0M106.5 296.1h0M116.9 310.7h0M119.2 236.8h0M126.1 297.9h0M118.1 307.4h0M122.1 308.4h0M103.6 298.3h0M116.1 304.2h0M99.0 288.5h0M125.6 274.7h0M100.0 310.2h0M121.8 297.4h0M108.0 304.6h0M127.2 269.7h0M98.3 305.5h0M107.8 306.7h0M110.5 279.3h0M114.0 283.2h0M101.2 301.2h0M98.2 306.6h0M125.3 264.0h0M126.1 309.7h0M121.3 299.2h0M120.3 277.4h0M99.4 300.8h0M119.2 225.4h0M105.7 294.2h0M108.5 276.2h0M115.1 301.5h0M114.8 286.2h0M102.3 286.1h0M104.6 298.5h0M123.6 305.3h0M115.9 307.7h0M124.1 288.4h0M124.5 310.3h0M115.8 305.7h0M106.4 298.4h0M107.9 287.8h0M104.6 302.1h0M126.0 291.4h0M103.1 296.7h0M110.4 305.2h0M118.6 297.6h0M114.0 275.4h0M99.4 306.4h0M111.1 298.5h0M116.3 307.4h0M105.4 307.5h0M104.6 281.8h0M110.8 301.4h0M123.5 250.1h0M116.8 310.1h0M120.0 298.5h0M120.4 296.6h0M110.1 280.3h0M116.4 301.2h0M107.2 301.7h0M118.2 303.5h0M126.1 297.1h0M117.6 297.4h0M107.3 278.1h0M107.3 275.0h0M107.3 285.7h0M121.1 307.8h0M115.6 308.0h0M114.7 309.6h0M121.9 292.6h0M110.4 309.9h0M126.3 293.2h0M122.5 308.8h0M126.1 263.7h0M118.3 306.3h0M122.0 232.2h0M124.0 288.5h0M122.4 307.3h0M106.3 303.4h0M114.9 295.4h0M122.2 250.4h0M100.5 268.7h0M103.6 299.7h0M105.9 298.0h0M100.4 304.7h0M102.0 301.3h0M123.9 310.2h0M111.0 305.9h0M98.6 300.8h0M120.2 277.3h0M126.5 309.4h0M100.3 268.1h0M127.1 309.2h0M111.0 305.2h0M119.9 297.4h0M123.9 277.2h0M122.0 276.0h0M120.7 309.5h0M116.0 295.0h0M123.1 304.9h0M101.4 300.9h0M100.5 304.3h0M123.8 286.5h0M102.9 291.1h0M105.0 288.0h0M111.3 264.2h0M124.7 303.5h0M124.3 308.2h0M121.4 294.6h0M100.2 300.0h0M122.3 246.5h0M124.4 310.2h0M121.7 295.4h0M106.4 300.5h0M103.9 293.2h0M117.9 299.3h0M100.0 287.8h0M99.5 263.8h0M118.1 305.8h0M97.8 280.1h0M104.4 308.0h0M100.2 310.1h0M109.6 264.9h0M102.9 308.7h0M120.0 281.9h0M110.6 283.5h0M127.4 294.5h0M108.8 296.2h0M106.0 294.9h0M106.4 277.7h0M98.0 282.6h0M115.4 309.2h0M100.8 297.2h0M120.7 308.7h0M106.7 292.1h0M103.9 273.7h0M105.8 289.7h0M97.5 282.2h0M107.1 302.8h0M106.4 294.2h0M98.2 310.7h0M119.3 308.5h0M120.2 294.1h0M107.5 298.0h0M117.0 306.8h0M105.7 305.7h0M97.5 285.5h0M105.0 299.5h0M115.4 308.8h0M116.1 292.0h0M108.8 305.4h0M119.1 305.8h0M110.9 305.7h0M126.5 295.3h0M106.2 269.7h0M101.3 305.7h0M110.2 290.9h0M124.6 285.9h0M97.9 264.6h0M122.2 291.1h0M119.0 295.6h0M127.1 286.8h0M124.8 294.5h0M117.3 299.9h0M124.8 289.2h0M102.7 259.4h0M102.3 306.4h0M125.8 301.4h0M110.3 308.0h0M99.5 299.8h0M121.1 301.8h0M98.7 292.4h0M101.9 251.7h0M99.2 304.9h0M107.5 292.9h0M120.9 301.0h0M117.1 310.1h0M121.2 305.6h0M117.9 272.1h0M107.4 274.3h0M127.0 280.2h0M124.2 272.3h0M114.4 295.8h0M114.6 287.4h0M105.1 308.8h0M115.9 310.6h0M102.3 298.3h0M103.7 310.2h0M101.9 310.3h0M125.2 294.4h0M99.3 301.2h0M110.7 299.0h0M105.6 301.0h0M97.5 303.9h0M122.6 296.0h0M106.2 293.6h0M100.3 306.2h0M126.0 283.1h0M123.6 306.6h0M107.0 305.6h0M108.5 305.8h0M123.8 304.6h0M125.0 299.7h0M121.9 308.5h0M121.9 296.5h0M113.7 302.6h0M107.4 295.2h0M110.2 284.9h0M121.6 288.9h0M98.4 291.2h0M103.6 286.1h0M110.5 268.1h0M123.3 307.2h0M109.9 300.5h0M125.9 292.1h0M103.9 305.7h0M117.7 304.9h0M126.4 289.5h0M119.3 288.7h0M100.4 307.2h0M109.7 305.3h0M117.3 292.7h0M102.5 302.4h0M117.2 305.6h0M100.4 276.7h0M127.0 304.7h0M119.9 277.4h0M107.0 305.2h0M121.0 308.0h0M116.1 309.7h0M115.0 299.2h0M126.0 310.1h0M125.7 280.5h0M125.0 281.9h0M120.2 303.0h0M124.7 287.6h0M118.3 309.1h0M101.2 268.8h0M124.0 308.6h0M114.7 294.8h0M97.5 277.3h0M119.6 291.0h0M102.4 290.6h0M121.3 282.4h0M105.7 261.9h0M110.8 307.0h0M100.5 308.6h0M111.4 305.1h0M110.5 304.4h0M109.3 289.2h0M118.0 282.4h0M98.7 267.1h0M102.6 306.6h0M121.8 299.3h0M100.0 306.0h0M101.5 306.0h0M102.5 290.1h0" stroke="#4169E1" stroke-width="2.2" stroke-linecap="round" opacity="0.85" fill="none"/>
<line x1="97.61" y1="217.50" x2="108.01" y2="217.50" stroke="#4169E1" stroke-width="2" />
<line x1="114.44" y1="217.50" x2="127.59" y2="217.50" stroke="#4169E1" stroke-width="2" />
<path d="M96.3 309.3h0M96.7 303.5h0M88.7 298.4h0M77.4 308.6h0M95.6 305.5h0M94.3 303.2h0M86.3 304.6h0M95.9 310.1h0M93.2 302.9h0M94.5 308.0h0M95.9 305.2h0M84.1 308.8h0M93.4 309.8h0M90.8 310.6h0M95.0 306.0h0M96.2 304.5h0M93.3 308.6h0M94.4 306.9h0M93.7 306.3h0M96.4 309.6h0M96.5 305.4h0M92.4 301.5h0M93.9 305.3h0M95.5 304.5h0M95.0 305.8h0M96.8 304.0h0M92.8 308.0h0M66.8 307.8h0M94.7 305.6h0M96.2 310.5h0M94.9 309.9h0M89.3 307.2h0M85.8 308.5h0M88.6 310.7h0M92.6 305.3h0M94.9 309.5h0M69.4 306.7h0M96.8 301.6h0M87.8 305.6h0M95.4 292.3h0M86.6 307.9h0M91.8 307.8h0M96.3 285.6h0M94.9 310.3h0M96.4 304.9h0M94.9 307.5h0M96.0 307.0h0M95.9 307.5h0M96.1 309.5h0M93.8 305.3h0M92.6 309.0h0M94.2 301.7h0M90.7 306.5h0M94.0 303.7h0M86.8 309.2h0M82.1 306.6h0M96.9 310.6h0M95.4 302.9h0M92.5 307.8h0M96.6 304.4h0M89.7 310.6h0M85.1 298.8h0M95.3 305.3h0M91.1 307.8h0M91.1 299.7h0M94.3 302.7h0M88.6 308.5h0M95.6 306.4h0M95.0 294.7h0M97.0 307.9h0M89.1 308.2h0M91.8 309.0h0M82.5 305.6h0M91.2 298.7h0M96.0 310.6h0M83.3 304.7h0M93.1 308.8h0M91.6 309.3h0M93.1 299.2h0M95.6 310.5h0M92.6 300.2h0M88.4 310.1h0M91.0 308.7h0M89.9 301.3h0M96.8 310.2h0M91.9 303.9h0M95.9 306.4h0M93.4 310.7h0M90.0 291.9h0M94.2 303.6h0M85.0 276.2h0M80.7 300.1h0M96.6 306.3h0M85.7 309.4h0M92.6 306.8h0M76.2 308.2h0M92.9 304.2h0M95.3 310.1h0M93.0 305.0h0M96.5 303.4h0M93.1 272.5h0M95.1 299.4h0M91.8 310.8h0M90.1 296.6h0M94.6 308.3h0M92.1 308.3h0M91.0 303.2h0M95.1 300.1h0M96.1 309.2h0M95.4 304.9h0M96.8 310.5h0M97.0 306.3h0M94.3 292.2h0M92.6 310.1h0M94.9 282.2h0M92.9 308.4h0M93.1 301.5h0M95.6 304.4h0M96.2 300.0h0M86.3 287.8h0M96.6 297.4h0M87.3 309.5h0M95.3 306.7h0M94.4 303.4h0M96.6 306.6h0M84.7 309.9h0M92.9 308.6h0M96.1 300.5h0M94.1 310.4h0M94.4 309.6h0M96.7 305.8h0M95.3 301.7h0M93.3 308.0h0M92.8 305.6h0M96.1 308.2h0M93.8 307.4h0M91.9 307.8h0M97.0 295.6h0M94.7 295.7h0M96.3 309.2h0M93.9 310.6h0M89.0 309.0h0M73.8 310.2h0M92.6 310.2h0M96.1 305.7h0M94.4 298.9h0M85.6 308.0h0M96.3 302.7h0M95.1 309.1h0M95.0 310.3h0M94.5 305.1h0M91.9 309.5h0M94.1 306.4h0M87.1 308.6h0M93.8 310.5h0M96.0 310.7h0M95.8 304.6h0M93.8 308.2h0M94.7 303.1h0M97.0 296.5h0M93.7 310.5h0M96.3 306.8h0M90.1 310.0h0M95.7 308.6h0M78.3 310.1h0M95.7 292.9h0M95.1 300.7h0M93.6 301.2h0M94.4 304.3h0M95.4 297.6h0M133.4 303.2h0M130.5 302.0h0M131.2 304.6h0M132.2 304.3h0M128.3 310.2h0M128.6 310.1h0M128.2 307.3h0M128.5 309.5h0M130.1 297.4h0M129.8 307.3h0M133.7 306.0h0M131.5 304.1h0M130.4 303.4h0M128.6 308.8h0M151.2 307.5h0M134.1 301.4h0M130.7 309.7h0M132.5 304.7h0M130.4 300.1h0M131.1 309.2h0M131.3 308.9h0M131.2 298.2h0M137.1 302.9h0M132.3 304.2h0M134.6 309.5h0M130.9 309.4h0M128.5 303.5h0M129.1 302.8h0M133.5 307.7h0M131.6 301.8h0M138.6 303.8h0M128.4 302.4h0M134.7 306.4h0M134.1 304.8h0M129.9 307.2h0M128.3 307.4h0M149.7 304.5h0M130.1 303.8h0M137.1 302.6h0M129.7 304.6h0M132.2 307.2h0M129.7 304.3h0M130.7 309.0h0M130.9 310.1h0M130.0 297.3h0M133.4 308.9h0M150.8 298.4h0M129.4 297.7h0M130.0 309.9h0M129.6 298.4h0M129.5 300.4h0M133.3 308.0h0M128.9 310.3h0M131.1 303.5h0M135.5 296.5h0M129.8 308.0h0M128.2 281.5h0M128.8 307.6h0M134.4 308.8h0M130.7 310.4h0M134.5 309.9h0M138.6 309.8h0M131.3 307.6h0M140.1 308.3h0M130.0 310.6h0M151.2 301.7h0M128.4 308.9h0M132.7 309.1h0M134.6 309.8h0M129.8 306.8h0M131.9 310.3h0M133.7 310.0h0M128.9 308.6h0M136.4 307.2h0M129.8 302.9h0M129.6 306.4h0M132.6 310.7h0M131.8 307.3h0M135.0 301.6h0M131.5 300.5h0M128.7 299.2h0M132.1 302.0h0M128.6 299.5h0M130.2 310.6h0M130.6 299.5h0M130.0 289.0h0M128.8 307.2h0M130.8 306.7h0M130.7 306.3h0M129.8 310.3h0M138.7 307.7h0M139.3 308.4h0M135.1 300.8h0M129.2 307.4h0M128.7 305.6h0M135.6 310.2h0M141.3 305.6h0M129.0 309.8h0M135.0 309.5h0M135.4 306.2h0M142.2 307.0h0M131.0 306.9h0M130.4 306.7h0M132.9 273.9h0M135.8 300.6h0M140.6 309.9h0M129.1 309.7h0M132.9 309.5h0M135.1 304.2h0M139.8 302.1h0M128.6 307.1h0M131.9 308.0h0M132.9 307.7h0M142.6 306.9h0M133.5 307.2h0M131.2 304.6h0M129.2 310.6h0M140.6 305.5h0M128.9 309.4h0M138.8 307.5h0M160.6 310.4h0M133.9 304.6h0M129.8 302.5h0M132.1 302.4h0M140.8 309.9h0M132.4 298.4h0M137.9 304.8h0M132.6 297.7h0M136.6 310.4h0M137.1 304.7h0M136.0 299.0h0M128.9 309.2h0M129.3 299.9h0M130.1 309.0h0M138.9 309.5h0M133.5 309.8h0M128.6 310.1h0M131.0 308.5h0M140.0 264.7h0M139.0 310.5h0M130.6 297.5h0M133.9 309.5h0M137.5 297.8h0M131.0 298.6h0M128.3 304.1h0M153.5 308.8h0M129.9 309.9h0M128.5 308.9h0M134.8 310.7h0M129.9 300.4h0M129.5 309.3h0M135.3 291.3h0M136.9 307.0h0M129.2 310.3h0M129.7 310.6h0M136.7 309.8h0M133.4 309.2h0M132.6 296.5h0M128.2 301.3h0M132.1 304.9h0M129.1 301.3h0M128.6 309.3h0M136.2 308.8h0M128.9 308.8h0M129.8 295.5h0M131.7 310.1h0M131.6 302.5h0M129.3 307.9h0M134.6 310.6h0M135.9 307.2h0M132.9 299.1h0M133.6 307.3h0M129.1 307.2h0M137.6 299.8h0M129.2 303.3h0M131.7 309.4h0M130.8 298.0h0M129.2 308.3h0M129.4 309.2h0M128.8 308.3h0M133.7 309.5h0M130.1 307.9h0M130.9 307.3h0M133.1 303.1h0M133.1 307.5h0M128.4 287.0h0M133.5 310.0h0M140.5 302.9h0M128.7 302.8h0M130.7 309.6h0M128.7 310.8h0M134.4 309.4h0M141.2 303.7h0M136.5 309.6h0M147.0 308.7h0M135.1 289.9h0M129.4 310.6h0M138.4 309.2h0M129.7 309.7h0M133.2 310.1h0M128.3 303.5h0M129.0 306.1h0M130.5 307.0h0M135.1 304.3h0M128.8 309.4h0M130.2 310.3h0M129.1 307.7h0M134.5 307.9h0M130.2 297.5h0M128.4 300.1h0M131.0 300.2h0M132.1 308.9h0M130.3 302.3h0M144.5 308.2h0M140.7 295.7h0M128.8 308.8h0M129.7 304.6h0M134.8 307.1h0M128.5 308.7h0M133.8 303.3h0M132.2 306.2h0M131.5 309.8h0M128.4 309.1h0M129.9 303.3h0M132.6 307.7h0M132.0 305.6h0M128.8 309.1h0M133.8 309.0h0M137.7 307.4h0M130.8 309.9h0M129.8 266.4h0M136.4 240.1h0M148.8 294.9h0M84.3 241.4h0M135.4 247.4h0M144.4 266.4h0M138.6 275.7h0M149.6 296.1h0M128.9 273.8h0M95.1 240.5h0M143.4 287.2h0M136.1 222.7h0M90.6 226.6h0M81.7 266.8h0M140.7 259.6h0M129.1 287.9h0M129.2 223.2h0M86.4 231.5h0M135.8 286.8h0M78.0 288.0h0M96.1 248.7h0M144.0 245.1h0M133.3 225.9h0M134.1 264.3h0M149.4 249.9h0M129.9 288.0h0M131.3 228.5h0M134.6 253.5h0M128.9 257.1h0M133.0 288.1h0M78.6 244.3h0M78.9 280.3h0M84.5 254.6h0M130.2 265.7h0M132.3 281.2h0M79.6 261.1h0M80.3 260.6h0M135.3 294.8h0M136.0 286.7h0M94.5 268.7h0M81.6 228.9h0M89.7 257.9h0M145.9 257.5h0M145.2 232.2h0M83.9 272.4h0" stroke="#EE0000" stroke-width="2.2" stroke-linecap="round" opacity="0.85" fill="none"/>
<line x1="127.90" y1="217.50" x2="140.91" y2="217.50" stroke="#EE0000" stroke-width="1.8" stroke-dasharray="3,1"/>
<line x1="144.73" y1="217.50" x2="161.56" y2="217.50" stroke="#EE0000" stroke-width="1.8" stroke-dasharray="3,1.5"/>
<line x1="143.20" y1="212.50" x2="139.40" y2="216.30" stroke="#111" stroke-width="0.6" />
<line x1="136.80" y1="227.30" x2="140.60" y2="229.00" stroke="#111" stroke-width="0.6" />
<path d="M88.1 217.5h0M78.9 217.5h0M82.0 222.8h0M91.2 310.5h0M178.4 294.6h0M173.8 305.8h0M157.0 300.5h0M189.1 217.5h0M77.4 280.3h0M80.5 281.3h0M83.5 297.7h0M74.3 306.4h0" stroke="#EE0000" stroke-width="2.0" stroke-linecap="round" opacity="1" fill="none"/>
<path d="M94.1 310.3h0M85.5 310.7h0M85.4 310.3h0M90.0 310.5h0M88.7 310.4h0M95.6 310.0h0M95.1 310.1h0M86.5 310.5h0M95.1 310.6h0M93.9 310.7h0M134.1 310.6h0M129.9 309.9h0M128.7 310.0h0M130.2 310.5h0M129.0 310.7h0M130.8 310.4h0M130.3 310.8h0M134.7 310.0h0" stroke="#228B22" stroke-width="2.0" stroke-linecap="round" opacity="1" fill="none"/>
<line x1="39.90" y1="310.80" x2="225.50" y2="310.80" stroke="#444" stroke-width="0.7" stroke-dasharray="4,2.2"/>
<line x1="97.30" y1="213.80" x2="97.30" y2="315.20" stroke="#111" stroke-width="0.8" stroke-dasharray="4.5,2"/>
<line x1="127.90" y1="213.80" x2="127.90" y2="315.20" stroke="#111" stroke-width="0.8" stroke-dasharray="4.5,2"/>
<line x1="39.90" y1="210.80" x2="39.90" y2="315.20" stroke="#999" stroke-width="1.4" />
<line x1="39.90" y1="315.20" x2="225.50" y2="315.20" stroke="#333" stroke-width="0.9" />
<line x1="37.60" y1="310.80" x2="39.90" y2="310.80" stroke="#333" stroke-width="0.7" />
<text x="34.30" y="313.80" font-size="8.4" text-anchor="end" fill="#555" stroke="#555" font-weight="normal" >0</text>
<line x1="37.60" y1="279.70" x2="39.90" y2="279.70" stroke="#333" stroke-width="0.7" />
<text x="34.30" y="282.70" font-size="8.4" text-anchor="end" fill="#555" stroke="#555" font-weight="normal" >100</text>
<line x1="37.60" y1="248.60" x2="39.90" y2="248.60" stroke="#333" stroke-width="0.7" />
<text x="34.30" y="251.60" font-size="8.4" text-anchor="end" fill="#555" stroke="#555" font-weight="normal" >200</text>
<line x1="37.60" y1="217.50" x2="39.90" y2="217.50" stroke="#333" stroke-width="0.7" />
<text x="34.30" y="220.50" font-size="8.4" text-anchor="end" fill="#555" stroke="#555" font-weight="normal" >300</text>
<line x1="74.35" y1="315.20" x2="74.35" y2="317.50" stroke="#333" stroke-width="0.7" />
<text x="74.35" y="328.20" font-size="8.4" text-anchor="middle" fill="#555" stroke="#555" font-weight="normal" >−2.5</text>
<line x1="112.60" y1="315.20" x2="112.60" y2="317.50" stroke="#333" stroke-width="0.7" />
<text x="112.60" y="328.20" font-size="8.4" text-anchor="middle" fill="#555" stroke="#555" font-weight="normal" >0.0</text>
<line x1="150.85" y1="315.20" x2="150.85" y2="317.50" stroke="#333" stroke-width="0.7" />
<text x="150.85" y="328.20" font-size="8.4" text-anchor="middle" fill="#555" stroke="#555" font-weight="normal" >2.5</text>
<line x1="189.10" y1="315.20" x2="189.10" y2="317.50" stroke="#333" stroke-width="0.7" />
<text x="189.10" y="328.20" font-size="8.4" text-anchor="middle" fill="#555" stroke="#555" font-weight="normal" >5.0</text>
<text x="132.30" y="201.70" font-size="8.4" text-anchor="middle" fill="#111" stroke="#111" font-weight="normal" >Wnt3a vs control</text>
<text x="132.30" y="340.80" font-size="8.4" text-anchor="middle" fill="#111" stroke="#111" font-weight="normal" >Log<tspan font-size="5.6" dy="1.8">2</tspan><tspan dy="-1.8"> fold change</tspan></text>
<text x="0.00" y="0.00" font-size="8.4" text-anchor="middle" fill="#111" stroke="#111" font-weight="normal" transform="translate(9.5,263.5) rotate(-90)">-Log<tspan font-size="5.6" dy="1.8">10</tspan><tspan dy="-1.8" font-style="italic"> P</tspan></text>
<text x="53.40" y="218.20" font-size="6.9" text-anchor="start" fill="#111" stroke="#111" font-weight="normal" >TFPI2</text>
<text x="79.70" y="215.50" font-size="6.9" text-anchor="start" fill="#111" stroke="#111" font-weight="normal" >HIPK2</text>
<text x="62.70" y="228.80" font-size="6.9" text-anchor="start" fill="#111" stroke="#111" font-weight="normal" >SAA1</text>
<text x="57.80" y="259.80" font-size="6.9" text-anchor="start" fill="#111" stroke="#111" font-weight="normal" >CLDN1</text>
<text x="66.60" y="269.00" font-size="6.9" text-anchor="start" fill="#111" stroke="#111" font-weight="normal" >FOS</text>
<text x="145.30" y="213.40" font-size="6.9" text-anchor="start" fill="#111" stroke="#111" font-weight="normal" >TCF7</text>
<text x="188.60" y="219.10" font-size="6.9" text-anchor="start" fill="#111" stroke="#111" font-weight="normal" >NKD1</text>
<text x="142.00" y="231.00" font-size="6.9" text-anchor="start" fill="#111" stroke="#111" font-weight="normal" >LEPR</text>
<text x="180.00" y="294.30" font-size="6.9" text-anchor="start" fill="#111" stroke="#111" font-weight="normal" >KRT81</text>
<text x="157.60" y="300.10" font-size="6.9" text-anchor="start" fill="#111" stroke="#111" font-weight="normal" >WIF1</text>
<text x="176.30" y="306.80" font-size="6.9" text-anchor="start" fill="#111" stroke="#111" font-weight="normal" >HOXB5</text>
<line x1="276.1" y1="210.5" x2="276.1" y2="314.2" stroke="#EDEDED" stroke-width="0.5"/><line x1="327.1" y1="210.5" x2="327.1" y2="314.2" stroke="#EDEDED" stroke-width="0.5"/><line x1="378.1" y1="210.5" x2="378.1" y2="314.2" stroke="#EDEDED" stroke-width="0.5"/><line x1="429.1" y1="210.5" x2="429.1" y2="314.2" stroke="#EDEDED" stroke-width="0.5"/><line x1="301.6" y1="210.5" x2="301.6" y2="314.2" stroke="#E3E3E3" stroke-width="0.9"/><line x1="352.6" y1="210.5" x2="352.6" y2="314.2" stroke="#E3E3E3" stroke-width="0.9"/><line x1="403.6" y1="210.5" x2="403.6" y2="314.2" stroke="#E3E3E3" stroke-width="0.9"/><line x1="454.6" y1="210.5" x2="454.6" y2="314.2" stroke="#E3E3E3" stroke-width="0.9"/><line x1="273" y1="294.2" x2="457.9" y2="294.2" stroke="#EDEDED" stroke-width="0.5"/><line x1="273" y1="262.9" x2="457.9" y2="262.9" stroke="#EDEDED" stroke-width="0.5"/><line x1="273" y1="231.6" x2="457.9" y2="231.6" stroke="#EDEDED" stroke-width="0.5"/><line x1="273" y1="309.9" x2="457.9" y2="309.9" stroke="#E3E3E3" stroke-width="0.9"/><line x1="273" y1="278.6" x2="457.9" y2="278.6" stroke="#E3E3E3" stroke-width="0.9"/><line x1="273" y1="247.3" x2="457.9" y2="247.3" stroke="#E3E3E3" stroke-width="0.9"/><line x1="273" y1="216.0" x2="457.9" y2="216.0" stroke="#E3E3E3" stroke-width="0.9"/>
<rect x="331.79" y="308.33" width="41.21" height="2.36" fill="#222" stroke="none" stroke-width="0.6" />
<path d="M340.4,309.9 L343.4,306.8 L347.5,300.5 L351.9,292.7 L351.9,309.9Z" fill="#4169E1" />
<path d="M353.3,309.9 L353.3,288.6 L362.8,289.9 L369.9,290.5 L373.0,288.6 L373.0,309.9Z" fill="#4169E1" />
<path d="M371.5 287.6h0M341.3 301.2h0M361.5 289.5h0M359.4 290.4h0M363.4 274.3h0M357.2 291.0h0M339.6 306.9h0M349.4 288.2h0M356.6 290.1h0M339.1 309.3h0M356.0 282.5h0M344.6 294.9h0M363.8 281.9h0M365.7 275.8h0M371.7 288.8h0M363.1 288.9h0M355.3 285.0h0M367.2 283.8h0M369.5 288.5h0M370.2 286.9h0M346.0 296.9h0M344.1 301.3h0M369.9 279.8h0M362.8 288.6h0M360.9 289.4h0M345.5 290.1h0M359.9 288.2h0M363.5 287.3h0M364.1 291.2h0M347.8 291.5h0M342.0 298.1h0M346.8 292.5h0M363.2 294.1h0M344.3 302.7h0M371.4 290.4h0M339.1 302.5h0M343.8 300.0h0M351.7 277.6h0M343.6 303.9h0M359.7 289.2h0M350.0 296.9h0M364.9 279.5h0M364.5 283.2h0M354.7 289.6h0M349.3 297.2h0M368.7 291.4h0M356.2 281.0h0M347.3 296.9h0M338.9 309.2h0M340.3 308.2h0M341.6 303.7h0M372.4 265.1h0M346.4 299.9h0M358.8 283.7h0M362.9 291.7h0M356.6 296.2h0M342.2 304.7h0M341.8 306.1h0M345.9 298.8h0M349.1 295.6h0M369.8 282.0h0M353.4 288.0h0M340.1 305.7h0M344.6 297.5h0M351.0 283.8h0M359.5 275.8h0M351.2 293.4h0M341.8 299.0h0M361.6 293.6h0M355.2 290.6h0M340.9 306.1h0M370.8 289.5h0M345.0 300.3h0M354.4 287.4h0M342.5 306.2h0M367.8 276.5h0M362.3 291.4h0M365.3 286.8h0M350.7 288.8h0M347.6 296.4h0M371.4 277.3h0M367.3 292.5h0M355.3 291.6h0M361.9 284.2h0M366.7 293.6h0M372.9 292.7h0M340.6 298.7h0M372.6 289.9h0M348.6 294.9h0M361.9 289.2h0M342.2 293.1h0M364.5 292.3h0M363.1 284.2h0M354.3 287.8h0M372.8 285.6h0M343.3 304.8h0M359.0 287.6h0M356.0 289.8h0M363.0 282.6h0M354.7 285.9h0M364.2 284.2h0M367.9 290.1h0M361.5 283.2h0M338.7 304.5h0M369.0 283.1h0M338.9 304.2h0M359.4 278.8h0M341.8 299.9h0M345.2 297.6h0M345.0 301.0h0M359.6 291.2h0M358.0 291.2h0M371.8 295.7h0M355.2 284.1h0M364.5 287.1h0M349.9 295.0h0M339.3 303.8h0M344.3 296.0h0M361.7 280.5h0M343.0 303.9h0M354.4 293.7h0M357.7 285.7h0M357.0 290.4h0M368.5 289.0h0M355.1 280.7h0M341.0 305.9h0M360.7 284.6h0M367.5 291.1h0M351.9 285.4h0M366.0 289.1h0M346.4 300.0h0M347.9 296.0h0M366.7 291.0h0M349.4 297.2h0M344.1 302.5h0M369.3 285.5h0M360.5 286.3h0M341.8 306.3h0M361.8 291.1h0M365.9 287.0h0M360.3 285.2h0M350.2 282.1h0M355.8 277.1h0M364.1 280.7h0M370.8 272.6h0M348.4 292.8h0M351.1 295.0h0M371.5 290.4h0M369.3 280.5h0M342.7 304.7h0M350.8 283.0h0M364.7 289.0h0M346.5 297.1h0M348.2 297.2h0M349.3 294.2h0M343.3 304.4h0M347.0 299.7h0M346.6 298.3h0M351.2 292.5h0M343.3 301.5h0M365.3 291.9h0M367.6 286.9h0M359.5 266.8h0M354.8 289.1h0M367.4 287.1h0M357.0 267.8h0M367.5 290.0h0M356.5 295.5h0M372.8 283.1h0M361.9 287.8h0M348.9 295.9h0M342.0 306.0h0M343.4 303.9h0M372.0 290.3h0M369.5 291.3h0M357.7 292.1h0M340.4 297.8h0M366.8 286.6h0M368.7 292.1h0M342.9 305.8h0M345.7 302.6h0M351.5 285.0h0M369.7 286.8h0M370.1 294.4h0M366.7 289.7h0M351.4 293.7h0M366.0 285.4h0M354.7 287.5h0M372.5 289.0h0M362.6 290.3h0M357.5 293.6h0M358.4 286.3h0M364.1 287.2h0M340.0 301.4h0M367.3 290.8h0M345.1 299.6h0M357.2 281.0h0M372.2 285.5h0M348.4 292.4h0M362.6 283.7h0M358.1 290.3h0M363.3 287.6h0M342.6 304.0h0M369.9 292.7h0M357.0 289.6h0M370.4 288.1h0M362.4 286.7h0M354.1 290.5h0M347.1 298.7h0M345.0 299.1h0M349.1 295.5h0M368.2 290.2h0M361.2 283.4h0M349.0 291.5h0M348.7 292.0h0M345.2 301.5h0M347.2 297.0h0M353.6 284.7h0M339.0 309.3h0M343.5 302.2h0M340.6 297.5h0M360.7 284.8h0M370.1 293.5h0M371.8 287.0h0M362.7 284.6h0M362.7 290.5h0M345.7 298.8h0M343.1 302.6h0M353.4 285.5h0M354.8 291.9h0M346.1 293.7h0M341.5 301.7h0M340.2 306.5h0M356.2 292.3h0M356.4 285.5h0M362.8 288.7h0M339.2 309.3h0M343.2 302.0h0M359.7 278.0h0M341.9 306.2h0M361.6 291.8h0M349.1 293.7h0M371.1 291.4h0M370.3 290.4h0M365.5 280.2h0M360.4 279.2h0M356.0 287.5h0M350.1 293.9h0M361.6 281.9h0M368.2 292.3h0M359.5 290.1h0M365.7 294.7h0M358.9 280.0h0M361.7 283.4h0M339.7 302.7h0M369.3 282.2h0M342.2 305.8h0M346.4 302.3h0M355.7 289.2h0M340.1 305.6h0M370.0 292.8h0M354.3 277.1h0M358.2 289.2h0M353.5 280.8h0M360.8 291.0h0M342.8 305.8h0M362.8 283.1h0M358.1 291.6h0M354.4 291.2h0M345.9 287.1h0M366.8 290.7h0M348.8 280.1h0M357.3 286.2h0M346.9 297.3h0M367.7 287.4h0M357.6 288.9h0M371.3 287.2h0M355.8 282.3h0M361.0 287.2h0M359.1 288.1h0M371.7 285.5h0M359.7 284.3h0M350.9 291.2h0M343.4 299.7h0M355.6 280.2h0M369.9 289.0h0M360.8 279.4h0M361.6 288.1h0M339.7 308.9h0M371.0 289.0h0M363.7 286.9h0M349.6 295.6h0M370.2 291.9h0M339.0 306.9h0M363.1 294.2h0M354.9 272.8h0M368.7 286.9h0M346.1 300.1h0M348.8 292.2h0M363.5 290.7h0M355.8 290.0h0M367.6 286.7h0M346.7 293.5h0M346.1 299.7h0M368.2 287.9h0M343.9 301.6h0M350.9 296.7h0M362.6 279.9h0M359.7 288.6h0M345.6 301.1h0M341.2 306.2h0M344.7 295.5h0M338.7 308.3h0M358.1 291.5h0M371.6 287.6h0M368.8 278.2h0M340.5 305.8h0M340.9 304.3h0M366.0 293.7h0M369.2 292.1h0M342.7 302.8h0M345.2 302.4h0M365.5 293.9h0M359.8 283.5h0M360.7 288.0h0M370.3 295.6h0M341.9 303.1h0M370.3 274.3h0M359.6 279.4h0M363.7 291.1h0M339.0 305.4h0M363.3 282.5h0M343.1 287.2h0M361.8 290.5h0M340.5 294.0h0M342.3 295.5h0M350.5 292.5h0M348.7 288.3h0M356.9 283.9h0M358.1 288.2h0M349.9 298.3h0M353.5 288.0h0M367.2 282.0h0M361.0 292.4h0M371.5 290.3h0M362.1 290.6h0M364.9 293.0h0M357.1 287.8h0M367.2 289.0h0M361.3 285.4h0M356.9 290.5h0M346.6 298.7h0M342.0 305.1h0M357.9 288.3h0M357.6 292.2h0M343.2 292.1h0M367.1 294.1h0M341.9 304.5h0M338.6 304.8h0M367.2 294.7h0M365.9 291.3h0M343.7 303.7h0M347.2 298.0h0M366.5 291.2h0M355.1 282.4h0M372.5 287.6h0M348.5 294.5h0M358.3 293.1h0M338.6 300.4h0M354.3 287.6h0M355.7 287.7h0M343.8 297.7h0M363.8 285.0h0M372.0 285.3h0M369.3 294.6h0M366.6 291.9h0M363.9 289.2h0M365.6 292.4h0M369.5 289.9h0M372.9 283.0h0M369.4 284.2h0M366.9 290.6h0M348.0 300.1h0M359.8 282.2h0M340.1 307.9h0M349.6 284.5h0M360.7 291.3h0M340.0 293.1h0M353.7 281.0h0M340.0 306.8h0M346.2 296.7h0M343.0 303.3h0M361.1 288.0h0M367.2 283.8h0M339.1 293.6h0M360.9 286.7h0M370.9 284.0h0M358.8 295.4h0M345.4 293.1h0M365.0 288.2h0" stroke="#4169E1" stroke-width="2.2" stroke-linecap="round" opacity="0.85" fill="none"/>
<path d="M341.4 262.9h0M342.4 262.0h0M344.4 266.1h0M356.7 266.1h0M357.7 267.0h0M364.8 266.7h0M358.7 217.6h0M366.9 216.6h0M367.9 218.8h0M369.9 256.1h0M346.5 278.6h0M354.6 277.0h0M359.7 280.2h0M362.8 280.2h0" stroke="#4169E1" stroke-width="2.0" stroke-linecap="round" opacity="1" fill="none"/>
<path d="M373.6 305.1h0M373.5 298.7h0M391.0 308.8h0M374.5 298.9h0M384.9 307.2h0M379.5 307.8h0M390.0 308.5h0M386.0 308.0h0M373.6 304.7h0M376.4 306.7h0M376.1 300.8h0M385.1 309.2h0M390.4 309.9h0M391.7 309.3h0M384.4 308.6h0M385.4 306.6h0M375.9 308.1h0M387.6 309.3h0M374.4 301.7h0M375.6 306.8h0M377.2 308.9h0M388.4 308.7h0M384.6 308.6h0M387.3 307.3h0M392.8 309.9h0M377.6 308.9h0M380.8 304.9h0M383.6 308.1h0M391.9 309.3h0M392.7 309.5h0M384.4 309.5h0M382.0 305.7h0M376.3 301.6h0M374.8 302.6h0M383.5 307.4h0M375.1 307.0h0M378.8 303.5h0M379.9 308.2h0M378.1 306.6h0M374.9 300.6h0M380.7 307.4h0M373.4 291.9h0M373.8 307.8h0M377.4 300.7h0M391.2 309.0h0M375.9 298.2h0M373.6 307.8h0M374.5 300.6h0M383.2 306.5h0M391.5 309.1h0M386.6 309.4h0M390.6 308.7h0M388.6 309.7h0M385.9 308.1h0M382.0 308.2h0M387.3 307.7h0M387.2 309.1h0M386.4 309.6h0M385.2 309.8h0M373.4 307.9h0M384.5 305.6h0M380.6 304.9h0M383.1 305.3h0M392.0 309.1h0M378.0 309.1h0M390.1 309.5h0M386.9 307.4h0M375.3 307.0h0M379.7 302.5h0M389.1 308.1h0M377.0 302.3h0M389.7 309.3h0M383.1 308.7h0M389.3 309.1h0M381.0 305.0h0M377.8 300.9h0M380.5 306.5h0M386.2 307.7h0M385.8 306.8h0M388.1 309.0h0M384.3 306.0h0M373.9 298.0h0M381.8 307.2h0M374.6 305.2h0M386.7 307.3h0M392.5 309.2h0M389.8 308.6h0M375.3 299.5h0M389.6 308.6h0M377.1 301.4h0M379.1 305.8h0M386.3 307.7h0M374.9 299.8h0M373.9 306.2h0M388.5 308.0h0M376.7 300.2h0M375.5 302.7h0M378.3 309.0h0M379.9 305.2h0M389.1 309.7h0M377.2 309.9h0M375.9 306.2h0M388.4 307.9h0M376.0 303.3h0M381.8 306.6h0M391.8 308.9h0M373.7 302.3h0M381.9 305.6h0M381.9 304.5h0M374.4 302.1h0M388.6 309.6h0M375.4 300.8h0M375.0 301.4h0M374.7 306.9h0M378.1 301.5h0M383.6 306.8h0M384.0 308.0h0M392.2 309.3h0M384.0 309.6h0M376.6 302.4h0M391.7 309.1h0M373.8 295.3h0M376.0 301.7h0M375.7 309.0h0M387.3 308.6h0M383.5 306.2h0M383.3 307.7h0M377.8 304.1h0M376.5 306.5h0M388.2 309.1h0M386.1 307.6h0M380.6 303.7h0M378.0 309.9h0M389.1 308.5h0M386.5 307.0h0M379.5 306.0h0M383.7 305.5h0M377.1 300.8h0M391.7 309.6h0M373.5 306.8h0M384.4 308.9h0M391.5 309.8h0M390.2 309.4h0M390.8 309.5h0M374.5 298.8h0M377.4 299.0h0M388.4 309.4h0M381.1 305.9h0M387.3 309.2h0M382.7 306.9h0M383.1 306.9h0M379.9 306.6h0M379.2 300.6h0M381.7 309.2h0M379.2 302.7h0M385.2 309.6h0M379.6 305.9h0M389.0 309.4h0M390.7 308.8h0M373.5 300.4h0M382.0 305.8h0M390.0 309.6h0M388.6 309.9h0M388.7 309.4h0M373.6 294.5h0M392.1 309.2h0M387.4 308.9h0M376.6 301.4h0M388.1 309.3h0M378.8 307.3h0M376.9 299.1h0M373.4 309.5h0M375.6 298.5h0M382.7 305.5h0M385.5 306.6h0M383.1 309.8h0M374.4 303.0h0M374.6 304.8h0M377.0 297.9h0M391.9 309.2h0M379.7 306.3h0M374.0 301.9h0M375.0 301.6h0M388.3 309.0h0M385.7 307.0h0M390.7 309.3h0M376.4 298.2h0M381.3 307.9h0M385.2 306.5h0M392.4 309.5h0M376.9 306.8h0M377.4 307.4h0M390.8 309.1h0M373.8 308.2h0M375.6 295.9h0M378.2 301.4h0M376.2 307.3h0M391.3 309.8h0M381.3 306.1h0M378.1 301.8h0M389.2 309.5h0M377.5 304.3h0M380.9 305.1h0M387.3 309.0h0M391.3 309.4h0M373.6 301.9h0M381.9 308.7h0M389.8 309.0h0M381.7 308.0h0M374.8 305.5h0M384.3 306.8h0M385.2 309.8h0M387.4 308.1h0M385.2 307.8h0M389.2 308.2h0M383.0 307.5h0M382.1 304.8h0M385.1 306.8h0M377.6 303.1h0M376.4 302.3h0M373.5 299.6h0M386.2 306.9h0M381.0 303.4h0M375.8 309.7h0M382.4 307.8h0M379.2 304.3h0M386.9 307.4h0M377.9 303.5h0M384.0 306.6h0M383.0 307.3h0M388.1 309.9h0M387.6 309.5h0M375.5 300.1h0M380.4 307.1h0M374.1 309.0h0M376.9 308.7h0M385.5 309.2h0M378.9 305.8h0M385.7 307.0h0M384.1 308.9h0M374.9 301.1h0M378.7 302.7h0M376.1 300.5h0M378.5 307.0h0M375.5 298.9h0M381.4 306.1h0M388.7 309.8h0M382.2 307.8h0M376.5 299.2h0M376.5 304.6h0M380.0 308.7h0M377.6 309.9h0M381.3 305.4h0M392.8 309.0h0M378.0 299.5h0M374.4 307.4h0M381.9 305.4h0M383.3 309.7h0M379.4 305.4h0M379.0 302.6h0M386.6 309.6h0M380.6 304.4h0M387.6 308.2h0M392.2 309.2h0M379.2 302.1h0M383.7 306.9h0M383.2 305.8h0M385.8 308.3h0M387.6 308.8h0M386.5 307.1h0M381.9 308.9h0M390.5 309.6h0M376.0 309.3h0M379.7 306.4h0M388.3 309.5h0M378.9 302.4h0M373.6 302.1h0M375.0 298.0h0M377.4 308.3h0M374.5 306.5h0M385.7 309.5h0M373.7 305.5h0M373.7 296.4h0M386.9 308.4h0M378.1 309.5h0M385.9 309.1h0M382.3 303.8h0M376.4 300.9h0M380.0 305.4h0M379.4 303.5h0M381.7 309.7h0M388.4 309.4h0M378.4 304.9h0M383.3 305.8h0M374.6 303.7h0M383.8 307.6h0M376.5 299.6h0M391.9 309.2h0M382.0 308.9h0M380.8 304.0h0" stroke="#EE0000" stroke-width="2.2" stroke-linecap="round" opacity="0.85" fill="none"/>
<path d="M373.0,309.9 L373.0,294.2 L377.1,299.9 L383.2,306.1 L389.3,309.0 L389.3,309.9Z" fill="#EE0000" />
<path d="M373.0 216.6h0M389.3 216.6h0M407.7 216.6h0M417.9 216.6h0M388.3 232.6h0M377.1 254.5h0M374.0 274.8h0M397.5 306.8h0M398.5 306.1h0M311.8 278.6h0" stroke="#EE0000" stroke-width="2.0" stroke-linecap="round" opacity="1" fill="none"/>
<path d="M324.0 309.6h0M375.0 309.6h0M377.1 309.6h0M379.1 309.7h0" stroke="#228B22" stroke-width="2.0" stroke-linecap="round" opacity="1" fill="none"/>
<line x1="273.00" y1="309.90" x2="457.90" y2="309.90" stroke="#444" stroke-width="0.7" stroke-dasharray="4,2.2"/>
<line x1="332.20" y1="213.50" x2="332.20" y2="314.20" stroke="#111" stroke-width="0.8" stroke-dasharray="4.5,2"/>
<line x1="373.00" y1="213.50" x2="373.00" y2="314.20" stroke="#111" stroke-width="0.8" stroke-dasharray="4.5,2"/>
<line x1="273.00" y1="210.50" x2="273.00" y2="314.20" stroke="#999" stroke-width="1.4" />
<line x1="273.00" y1="314.20" x2="457.90" y2="314.20" stroke="#333" stroke-width="0.9" />
<line x1="270.70" y1="309.90" x2="273.00" y2="309.90" stroke="#333" stroke-width="0.7" />
<text x="267.40" y="312.90" font-size="8.4" text-anchor="end" fill="#555" stroke="#555" font-weight="normal" >0</text>
<line x1="270.70" y1="278.60" x2="273.00" y2="278.60" stroke="#333" stroke-width="0.7" />
<text x="267.40" y="281.60" font-size="8.4" text-anchor="end" fill="#555" stroke="#555" font-weight="normal" >100</text>
<line x1="270.70" y1="247.30" x2="273.00" y2="247.30" stroke="#333" stroke-width="0.7" />
<text x="267.40" y="250.30" font-size="8.4" text-anchor="end" fill="#555" stroke="#555" font-weight="normal" >200</text>
<line x1="270.70" y1="216.00" x2="273.00" y2="216.00" stroke="#333" stroke-width="0.7" />
<text x="267.40" y="219.00" font-size="8.4" text-anchor="end" fill="#555" stroke="#555" font-weight="normal" >300</text>
<line x1="301.60" y1="314.20" x2="301.60" y2="316.50" stroke="#333" stroke-width="0.7" />
<text x="301.60" y="327.20" font-size="8.4" text-anchor="middle" fill="#555" stroke="#555" font-weight="normal" >−2.5</text>
<line x1="352.60" y1="314.20" x2="352.60" y2="316.50" stroke="#333" stroke-width="0.7" />
<text x="352.60" y="327.20" font-size="8.4" text-anchor="middle" fill="#555" stroke="#555" font-weight="normal" >0.0</text>
<line x1="403.60" y1="314.20" x2="403.60" y2="316.50" stroke="#333" stroke-width="0.7" />
<text x="403.60" y="327.20" font-size="8.4" text-anchor="middle" fill="#555" stroke="#555" font-weight="normal" >2.5</text>
<line x1="454.60" y1="314.20" x2="454.60" y2="316.50" stroke="#333" stroke-width="0.7" />
<text x="454.60" y="327.20" font-size="8.4" text-anchor="middle" fill="#555" stroke="#555" font-weight="normal" >5.0</text>
<text x="364.70" y="201.70" font-size="8.4" text-anchor="middle" fill="#111" stroke="#111" font-weight="normal" >Wnt5a vs control</text>
<text x="364.50" y="340.80" font-size="8.4" text-anchor="middle" fill="#111" stroke="#111" font-weight="normal" >Log<tspan font-size="5.6" dy="1.8">2</tspan><tspan dy="-1.8"> fold change</tspan></text>
<text x="0.00" y="0.00" font-size="8.4" text-anchor="middle" fill="#111" stroke="#111" font-weight="normal" transform="translate(242.5,263.5) rotate(-90)">-Log<tspan font-size="5.6" dy="1.8">10</tspan><tspan dy="-1.8" font-style="italic"> P</tspan></text>
<text x="308.50" y="280.80" font-size="6.9" text-anchor="start" fill="#111" stroke="#111" font-weight="normal" >FOS</text>
<text x="387.40" y="220.60" font-size="6.9" text-anchor="start" fill="#111" stroke="#111" font-weight="normal" >TPGS1</text>
<text x="420.00" y="220.60" font-size="6.9" text-anchor="start" fill="#111" stroke="#111" font-weight="normal" >AC004556.3</text>
<text x="389.60" y="234.00" font-size="6.9" text-anchor="start" fill="#111" stroke="#111" font-weight="normal" >SPATC1L</text>
<text x="378.00" y="255.90" font-size="6.9" text-anchor="start" fill="#111" stroke="#111" font-weight="normal" >TP53I13</text>
<text x="375.50" y="275.80" font-size="6.9" text-anchor="start" fill="#111" stroke="#111" font-weight="normal" >RBFOX1</text>
<text x="399.80" y="306.60" font-size="6.9" text-anchor="start" fill="#111" stroke="#111" font-weight="normal" >AP001 993.1</text>
<line x1="534.0" y1="207.6" x2="534.0" y2="314.6" stroke="#EDEDED" stroke-width="0.5"/><line x1="574.4" y1="207.6" x2="574.4" y2="314.6" stroke="#EDEDED" stroke-width="0.5"/><line x1="614.8" y1="207.6" x2="614.8" y2="314.6" stroke="#EDEDED" stroke-width="0.5"/><line x1="655.2" y1="207.6" x2="655.2" y2="314.6" stroke="#EDEDED" stroke-width="0.5"/><line x1="513.8" y1="207.6" x2="513.8" y2="314.6" stroke="#E3E3E3" stroke-width="0.9"/><line x1="554.2" y1="207.6" x2="554.2" y2="314.6" stroke="#E3E3E3" stroke-width="0.9"/><line x1="594.6" y1="207.6" x2="594.6" y2="314.6" stroke="#E3E3E3" stroke-width="0.9"/><line x1="635.0" y1="207.6" x2="635.0" y2="314.6" stroke="#E3E3E3" stroke-width="0.9"/><line x1="675.4" y1="207.6" x2="675.4" y2="314.6" stroke="#E3E3E3" stroke-width="0.9"/><line x1="503.4" y1="293.9" x2="683.7" y2="293.9" stroke="#EDEDED" stroke-width="0.5"/><line x1="503.4" y1="260.9" x2="683.7" y2="260.9" stroke="#EDEDED" stroke-width="0.5"/><line x1="503.4" y1="228.1" x2="683.7" y2="228.1" stroke="#EDEDED" stroke-width="0.5"/><line x1="503.4" y1="310.3" x2="683.7" y2="310.3" stroke="#E3E3E3" stroke-width="0.9"/><line x1="503.4" y1="277.4" x2="683.7" y2="277.4" stroke="#E3E3E3" stroke-width="0.9"/><line x1="503.4" y1="244.5" x2="683.7" y2="244.5" stroke="#E3E3E3" stroke-width="0.9"/><line x1="503.4" y1="211.6" x2="683.7" y2="211.6" stroke="#E3E3E3" stroke-width="0.9"/>
<rect x="576.42" y="308.66" width="38.38" height="2.44" fill="#222" stroke="none" stroke-width="0.6" />
<path d="M580.9,310.3 L584.5,306.4 L587.5,297.1 L590.6,287.3 L592.6,285.6 L593.8,287.3 L593.8,310.3Z" fill="#4169E1" />
<path d="M595.4,310.3 L595.4,285.6 L597.6,282.3 L600.7,283.3 L604.7,286.6 L610.8,289.9 L614.8,288.9 L614.8,310.3Z" fill="#4169E1" />
<path d="M588.6 283.3h0M601.2 285.6h0M580.9 291.1h0M588.5 275.2h0M609.2 290.3h0M585.6 272.9h0M598.4 269.2h0M582.7 285.6h0M590.8 271.6h0M596.7 262.1h0M605.0 282.6h0M608.0 277.6h0M610.6 300.1h0M587.9 277.2h0M602.0 284.9h0M592.5 275.5h0M611.5 284.8h0M609.9 286.1h0M586.1 257.9h0M611.5 292.0h0M587.7 276.7h0M590.2 273.0h0M614.4 297.8h0M585.6 281.9h0M610.4 296.3h0M582.0 290.2h0M610.7 289.8h0M614.7 301.4h0M601.1 292.7h0M601.4 292.9h0M610.3 282.0h0M611.3 296.1h0M598.3 273.3h0M599.7 253.8h0M597.9 273.3h0M588.6 253.7h0M598.4 285.0h0M600.4 284.6h0M602.2 285.8h0M596.5 280.6h0M604.7 288.4h0M582.5 270.7h0M589.1 279.6h0M591.4 283.7h0M593.1 281.9h0M593.4 283.0h0M600.0 279.3h0M588.1 282.1h0M586.9 280.3h0M584.0 292.1h0M609.1 285.1h0M586.3 283.8h0M610.8 296.7h0M584.6 290.4h0M608.2 290.2h0M590.0 271.4h0M608.1 295.6h0M590.5 278.6h0M592.4 281.7h0M612.1 301.4h0M612.9 280.3h0M613.1 295.8h0M606.1 280.8h0M598.3 284.7h0M588.3 286.4h0M590.3 281.5h0M611.5 284.9h0M611.2 290.6h0M580.9 292.6h0M590.8 275.6h0M612.7 296.9h0M589.1 276.0h0M607.3 294.2h0M598.8 278.5h0M607.6 279.1h0M608.7 294.4h0M610.1 299.2h0M589.7 281.3h0M596.7 283.3h0M582.3 297.7h0M582.8 276.1h0M583.4 290.9h0M591.3 276.5h0M600.6 287.4h0M591.8 282.7h0M605.0 292.7h0M586.6 284.0h0M607.3 284.4h0M601.9 285.2h0M597.5 277.6h0M604.3 289.3h0M598.9 281.8h0M610.7 291.3h0M611.3 294.2h0M596.4 276.2h0M603.2 270.7h0M603.4 279.7h0M584.0 292.0h0M585.4 287.9h0M583.6 282.6h0M586.6 280.5h0M584.6 279.6h0M609.2 286.6h0M607.9 290.0h0M598.0 281.5h0M606.2 287.5h0M591.6 264.3h0M588.8 290.2h0M601.6 279.9h0M593.1 284.1h0M583.3 268.3h0M606.1 288.1h0M606.4 285.9h0M597.1 260.7h0M585.6 285.1h0M611.9 296.0h0M605.1 293.3h0M587.3 285.2h0M588.4 255.8h0M590.6 277.4h0M609.8 294.0h0M587.9 289.7h0M593.6 287.9h0M591.5 279.4h0M614.5 297.6h0M596.5 264.8h0M599.6 272.8h0M609.9 290.4h0M613.4 299.4h0M588.5 274.4h0M613.4 296.6h0M587.0 291.5h0M604.7 268.0h0M589.2 278.6h0M605.5 296.5h0M609.1 295.3h0M600.4 284.6h0M592.0 279.5h0M587.7 259.0h0M599.2 288.7h0M603.3 275.8h0M611.7 289.0h0M593.3 268.2h0M590.6 272.1h0M608.1 288.4h0M613.5 296.3h0M584.4 289.5h0M605.1 283.1h0M586.7 279.6h0M586.6 275.9h0M584.7 286.0h0M591.8 272.0h0M599.5 277.4h0M591.2 290.4h0M605.0 282.5h0M605.9 292.0h0M593.6 281.6h0M597.8 274.3h0M592.6 283.6h0M599.1 276.7h0M609.5 298.1h0M583.9 286.5h0M605.4 294.4h0M606.0 278.7h0M600.8 287.8h0M587.1 282.0h0M587.4 279.1h0M581.5 279.1h0M613.1 297.6h0M600.5 245.7h0M604.0 276.6h0M597.1 271.7h0M580.5 287.9h0M597.4 279.8h0M587.1 289.2h0M597.6 277.8h0M599.9 255.6h0M585.1 280.5h0M582.2 294.5h0M583.1 275.0h0M591.6 265.9h0M585.1 280.3h0M612.3 291.8h0M592.3 251.5h0M610.0 289.8h0M597.1 292.7h0M583.1 295.9h0M597.5 275.2h0M602.8 286.5h0M606.5 292.9h0M611.3 294.1h0M593.2 277.1h0M588.1 293.8h0M607.4 293.8h0M587.2 292.2h0M586.2 296.0h0M586.2 290.4h0M581.2 293.1h0M604.6 292.8h0M581.4 289.5h0M583.7 292.3h0M601.8 289.7h0M582.2 290.3h0M607.5 276.6h0M590.8 287.0h0M608.4 291.3h0M583.7 266.1h0M600.8 294.9h0M583.6 296.9h0M582.3 278.1h0M587.4 277.3h0M608.1 272.5h0M581.6 291.6h0M613.0 301.3h0M609.6 297.2h0M591.9 253.2h0M586.5 275.9h0M609.2 280.5h0M592.9 285.5h0M607.2 292.1h0M586.3 279.9h0M604.9 287.7h0M585.7 288.5h0M596.5 272.1h0M583.8 282.7h0M602.5 264.8h0M595.9 269.2h0M591.9 287.2h0M613.3 299.7h0M584.2 289.8h0M588.7 293.3h0M602.6 288.2h0M588.4 279.6h0M599.8 271.4h0M601.2 276.1h0M586.9 293.8h0M608.8 299.2h0M613.6 294.8h0M583.4 292.2h0M608.9 288.5h0M606.6 286.2h0M601.2 287.7h0M609.1 285.2h0M587.5 283.2h0M605.5 294.0h0M597.1 285.2h0M605.7 285.4h0M601.3 288.0h0M614.7 299.7h0M583.4 295.5h0M612.4 289.0h0M614.3 290.9h0M598.9 253.5h0M611.5 291.5h0M607.0 253.6h0M612.1 288.8h0M586.8 284.2h0M590.6 275.1h0M581.9 290.6h0M592.3 267.2h0M590.3 289.2h0M583.1 287.7h0M604.5 252.9h0M610.5 297.5h0M591.2 278.2h0M599.1 266.7h0M590.3 264.0h0M608.2 295.3h0M608.2 299.1h0M598.7 283.0h0M582.2 288.4h0M596.5 264.7h0M614.1 302.8h0M580.9 294.3h0M582.2 293.7h0M591.2 271.8h0M589.4 288.8h0M602.0 262.8h0M608.2 296.7h0M606.5 284.9h0M609.0 293.3h0M586.3 288.2h0M611.3 291.7h0M603.3 269.3h0M601.2 281.9h0M586.3 284.9h0M614.5 298.4h0M592.5 269.4h0M596.0 279.7h0M591.3 279.5h0M609.7 278.6h0M601.5 286.7h0M599.3 282.9h0M604.8 285.7h0M603.4 285.6h0M611.2 289.3h0M587.2 282.4h0M593.6 278.7h0M589.8 250.2h0M591.4 283.8h0M585.0 264.0h0M583.2 295.2h0M583.2 284.1h0M609.2 284.9h0M580.6 280.2h0M582.8 292.2h0M589.7 286.3h0M588.6 280.4h0M611.6 278.6h0M603.6 287.2h0M582.3 290.7h0M587.0 267.0h0M582.1 285.2h0M593.6 288.4h0M614.4 301.4h0M585.4 292.7h0M611.9 301.0h0M612.7 280.6h0M588.9 260.0h0M597.1 280.0h0M581.2 289.2h0M607.3 289.1h0M598.9 278.2h0M609.1 293.4h0M612.5 295.8h0M613.5 297.3h0M589.6 291.5h0M614.1 294.2h0M584.4 282.8h0M607.7 281.7h0M598.5 280.3h0M599.0 285.2h0M601.1 283.4h0M593.3 285.4h0M601.1 252.9h0M610.1 292.0h0M614.0 301.5h0M597.7 278.3h0M602.6 260.6h0M596.0 280.9h0M610.5 289.2h0M595.6 286.2h0M609.6 293.4h0M609.8 275.9h0M593.0 283.0h0M610.8 288.2h0M604.9 290.5h0M597.8 282.9h0M602.8 276.5h0M585.5 291.3h0M601.6 292.9h0M591.5 288.9h0M599.0 270.4h0M605.8 274.8h0M611.8 294.0h0M584.6 284.2h0M596.8 277.9h0M587.0 277.5h0M583.4 295.8h0M580.7 292.0h0M589.9 281.4h0M602.0 281.1h0M583.8 279.2h0M583.3 284.5h0M614.5 303.3h0M596.9 264.7h0M608.8 294.0h0M600.5 279.2h0M583.5 291.7h0M612.6 295.7h0M583.4 292.1h0M609.9 294.5h0M614.2 296.9h0M587.4 271.2h0M585.0 283.9h0M592.6 256.1h0M609.9 293.2h0M582.5 292.7h0M587.1 282.7h0M608.7 290.4h0M611.8 298.3h0M586.9 290.2h0M593.7 263.8h0M582.4 292.4h0M586.6 291.1h0M604.3 292.2h0M588.0 281.9h0M588.9 282.9h0M603.5 287.2h0M606.3 288.6h0M601.0 280.0h0M582.4 278.8h0M597.3 282.3h0M611.3 295.3h0M608.5 287.8h0M614.6 299.9h0M605.1 283.3h0M600.5 285.5h0M609.7 292.3h0M610.1 293.7h0M600.5 280.1h0M583.7 284.6h0M590.9 256.0h0M599.1 257.7h0M606.1 295.3h0M603.8 283.8h0M596.9 283.3h0M604.4 286.4h0M584.2 289.3h0M605.4 292.2h0M587.2 283.3h0M584.1 293.1h0M587.4 288.0h0M583.9 273.8h0M610.3 294.2h0M582.7 294.1h0M612.8 290.9h0M596.8 285.2h0M613.5 299.4h0M598.0 288.3h0M614.3 294.2h0M611.5 295.9h0M606.2 291.7h0M613.9 296.8h0M586.1 286.1h0M597.9 265.6h0M606.0 284.1h0M608.1 292.3h0M600.6 288.7h0M586.3 286.9h0M606.5 271.1h0M609.6 291.6h0M582.0 285.8h0M612.1 300.3h0M614.1 296.7h0M605.8 290.8h0M603.4 287.3h0M585.2 273.0h0M585.2 297.2h0M607.4 291.3h0M614.6 298.7h0M604.5 294.9h0M604.5 295.2h0M598.3 248.7h0M583.9 286.0h0M608.1 288.4h0M591.7 283.3h0M607.9 294.6h0M583.8 289.2h0M599.2 280.8h0M581.3 297.8h0M587.2 286.1h0M606.6 284.5h0M605.7 288.0h0M591.1 275.4h0M597.6 264.3h0M600.4 279.4h0M584.8 284.8h0M593.0 277.9h0M597.6 283.8h0M612.2 299.5h0M596.7 282.1h0M610.3 293.2h0M603.6 287.5h0M590.8 287.9h0M601.9 262.4h0M582.0 288.9h0M583.3 285.6h0M606.9 286.5h0M583.3 286.7h0M613.5 303.2h0M603.7 280.1h0M604.9 286.9h0M596.4 285.9h0M591.0 279.1h0M596.7 286.6h0M602.8 257.3h0M596.8 287.6h0M582.5 291.5h0M601.4 290.1h0M583.8 291.8h0M589.2 273.7h0M592.1 286.8h0M605.6 286.0h0M605.4 293.0h0M588.3 284.1h0M602.5 285.2h0M606.8 290.4h0M597.7 285.1h0M602.6 263.5h0M587.1 270.0h0M604.9 284.7h0M607.1 288.7h0M600.9 277.5h0M609.8 289.7h0M585.4 280.6h0M591.3 256.9h0M589.2 264.7h0M591.3 245.3h0M590.1 270.0h0M588.8 264.5h0M588.3 279.1h0M590.9 282.1h0M599.7 280.5h0M590.7 251.1h0M606.3 288.9h0M589.1 290.8h0M613.7 289.5h0M599.6 286.5h0M582.4 288.3h0M590.4 277.4h0M612.1 295.7h0M584.1 284.5h0M592.3 273.9h0M589.1 284.9h0M581.3 289.5h0M586.3 292.0h0M591.3 279.2h0M591.9 281.8h0M607.2 284.6h0M597.0 291.1h0M609.6 293.8h0M598.2 275.2h0M592.9 288.9h0M599.2 278.8h0M596.0 276.0h0M586.9 282.7h0M610.2 291.5h0M589.4 286.0h0M609.3 280.7h0M614.1 301.8h0M584.1 285.4h0M606.0 237.6h0M603.7 278.7h0M583.2 288.8h0M583.4 287.6h0M603.2 294.3h0M605.0 291.8h0M612.7 296.6h0M606.0 280.5h0M604.4 295.7h0M598.9 275.4h0M600.6 273.6h0M595.7 277.1h0M585.1 276.2h0M610.0 297.3h0M586.1 280.9h0M598.3 278.4h0M592.0 264.8h0M590.6 264.3h0M605.5 287.2h0M613.4 299.7h0M583.9 288.1h0M593.0 268.8h0M596.2 276.3h0M601.7 281.3h0M597.3 279.4h0M607.4 283.6h0M583.0 290.2h0M604.9 292.9h0M585.0 284.4h0M580.5 298.2h0M613.3 297.3h0M590.4 266.0h0M603.5 291.9h0M597.2 277.3h0M591.4 277.9h0M600.5 267.0h0M598.3 287.8h0M599.4 280.1h0M592.4 293.8h0M585.9 280.3h0M600.4 278.3h0M602.2 282.0h0M588.3 280.2h0M590.3 269.4h0M608.6 293.5h0M604.6 275.9h0M609.4 285.2h0M601.7 278.6h0M591.0 290.1h0M607.9 290.0h0M610.6 289.2h0M609.5 298.8h0M593.1 276.4h0M610.7 282.1h0M604.4 287.1h0M606.2 285.9h0M592.7 282.1h0M610.8 296.6h0M597.1 282.8h0M596.7 257.8h0M600.6 259.4h0M586.1 271.4h0M614.5 297.1h0M587.5 285.2h0M606.5 279.7h0M592.7 264.2h0M603.2 284.3h0M602.5 286.0h0M614.1 293.2h0M590.0 277.9h0M608.7 292.5h0M605.2 288.0h0M600.7 277.5h0M606.3 286.7h0M600.1 268.6h0M600.4 281.6h0M607.7 287.4h0M591.1 282.6h0M598.5 259.0h0M608.1 286.2h0M593.7 285.5h0M609.9 286.6h0M583.3 290.1h0M599.9 286.4h0M610.9 294.7h0M608.4 282.5h0M583.1 288.2h0M589.2 282.7h0M599.1 270.3h0M592.4 263.0h0M600.4 281.2h0M614.5 297.3h0M587.2 279.2h0M587.3 280.9h0M586.3 279.4h0M611.3 294.3h0M607.4 293.4h0M582.0 287.6h0M590.9 278.5h0M595.7 290.2h0M610.8 296.7h0M588.6 283.2h0M610.9 291.5h0M601.8 279.8h0M582.8 291.0h0M581.3 290.3h0M610.6 285.1h0M599.5 267.3h0M599.6 287.5h0M583.5 291.9h0M584.6 280.2h0M605.9 286.2h0M610.9 292.2h0M584.8 271.4h0M607.9 289.6h0M584.4 291.7h0M606.0 277.9h0M581.5 289.2h0M608.6 273.3h0M596.6 281.0h0M609.1 287.0h0M600.8 265.0h0M591.3 289.5h0M581.4 290.3h0M614.4 293.2h0M608.7 290.4h0M589.1 285.1h0M587.5 282.7h0M600.4 276.1h0M585.8 284.6h0M587.8 255.2h0M613.5 289.4h0" stroke="#4169E1" stroke-width="2.2" stroke-linecap="round" opacity="0.85" fill="none"/>
<path d="M585.5 219.8h0M588.5 219.5h0M587.5 222.1h0M600.7 219.8h0M601.7 220.8h0M587.5 233.0h0M599.6 233.6h0M600.7 227.4h0M601.7 229.0h0M590.6 246.1h0M599.6 247.8h0M592.6 251.1h0M588.5 251.1h0M589.6 254.4h0M590.6 260.9h0M596.6 260.9h0M600.7 262.6h0M605.7 264.2h0M608.7 269.2h0" stroke="#4169E1" stroke-width="2.2" stroke-linecap="round" opacity="0.85" fill="none"/>
<path d="M626.6 303.6h0M631.2 309.3h0M626.4 305.0h0M624.9 303.2h0M638.4 309.1h0M635.2 309.9h0M631.8 307.5h0M639.4 310.3h0M617.9 289.6h0M622.5 300.7h0M628.5 307.5h0M624.2 303.9h0M641.0 309.8h0M634.5 309.4h0M632.1 307.7h0M633.1 307.0h0M616.2 285.9h0M629.0 308.6h0M624.9 309.3h0M619.1 294.5h0M632.1 306.5h0M617.7 308.0h0M622.7 303.6h0M632.1 309.0h0M632.9 308.0h0M620.4 297.2h0M616.1 295.2h0M618.2 309.4h0M625.3 305.0h0M629.1 307.8h0M639.1 309.3h0M617.5 310.2h0M640.1 309.8h0M616.6 306.0h0M631.7 309.5h0M622.5 301.1h0M622.0 300.9h0M639.7 309.4h0M629.6 306.4h0M620.9 300.1h0M630.2 307.0h0M625.6 302.9h0M618.5 296.1h0M640.7 310.3h0M619.6 292.5h0M616.2 289.7h0M628.2 309.8h0M629.6 310.3h0M636.4 309.7h0M638.9 309.1h0M617.2 301.1h0M617.5 293.6h0M616.4 308.5h0M616.8 290.0h0M619.5 304.4h0M624.4 304.1h0M623.5 298.7h0M621.7 303.3h0M636.9 309.8h0M617.9 292.6h0M621.1 296.3h0M635.6 309.4h0M621.5 308.8h0M637.2 309.5h0M621.7 307.7h0M619.0 293.6h0M617.1 297.5h0M629.4 307.0h0M625.9 306.5h0M618.3 293.5h0M638.0 309.4h0M619.6 293.8h0M618.5 306.9h0M629.5 305.1h0M627.9 309.5h0M640.7 310.1h0M621.8 295.8h0M634.6 308.1h0M616.1 288.6h0M623.2 310.2h0M634.5 307.5h0M615.7 298.2h0M638.2 309.8h0M620.8 297.7h0M624.3 298.9h0M636.7 308.6h0M631.9 309.4h0M631.3 307.5h0M625.4 304.6h0M620.8 307.1h0M638.5 309.8h0M616.6 286.8h0M626.2 304.0h0M621.6 308.1h0M621.5 297.8h0M620.1 294.6h0M620.8 295.9h0M618.0 301.0h0M617.0 306.9h0M626.5 307.0h0M626.9 308.5h0M620.9 305.2h0M638.0 310.2h0M623.6 299.9h0M627.9 308.4h0M641.4 310.2h0M617.2 309.9h0M624.2 300.5h0M620.3 305.5h0M634.8 310.1h0M615.3 291.6h0M616.3 297.2h0M617.3 296.8h0M636.5 309.4h0M620.1 299.6h0M631.7 310.0h0M619.3 303.3h0M626.0 307.7h0M630.5 308.9h0M638.3 309.8h0M618.9 308.8h0M617.0 305.3h0M637.5 309.6h0M624.3 299.4h0M640.3 309.5h0M619.3 304.2h0M626.0 307.9h0M621.8 307.2h0M619.3 296.5h0M628.8 307.3h0M625.1 303.9h0M631.3 310.2h0M636.2 309.3h0M621.7 296.2h0M633.5 309.1h0M615.4 298.1h0M624.2 306.0h0M616.5 296.2h0M619.6 296.6h0M626.7 307.7h0M635.7 309.2h0M616.3 303.3h0M615.8 298.9h0M638.4 308.9h0M630.3 309.4h0M619.3 306.5h0M622.5 301.6h0M615.4 296.6h0M623.9 302.4h0M635.7 309.3h0M628.8 308.4h0M624.6 303.3h0M615.8 296.7h0M625.9 308.6h0M619.5 295.3h0M621.9 307.5h0M620.3 301.5h0M623.2 305.8h0M621.2 307.0h0M626.0 304.6h0M616.3 295.6h0M620.9 294.7h0M639.4 310.1h0M631.6 308.7h0M616.7 289.4h0M638.4 309.1h0M629.8 304.4h0M627.4 304.9h0M630.3 305.5h0M636.7 309.7h0M618.6 299.5h0M628.4 307.8h0M636.8 308.6h0M631.3 307.7h0M631.6 309.4h0M635.1 310.0h0M638.2 309.4h0M620.2 307.0h0M628.7 307.1h0M631.6 309.8h0M637.3 309.5h0M624.2 301.9h0M628.9 307.3h0M620.5 302.6h0M615.5 303.3h0M635.7 310.0h0M616.3 289.1h0M622.5 303.1h0M628.4 305.1h0M621.1 298.3h0M615.2 285.8h0M620.9 300.4h0M620.8 298.2h0M622.6 302.2h0M621.2 297.4h0M634.1 309.7h0M633.5 307.0h0M619.2 306.7h0M639.1 309.1h0M617.1 292.4h0M639.1 310.0h0M634.2 309.4h0M634.4 308.8h0M625.1 309.0h0M630.3 306.4h0M620.5 309.6h0M616.4 303.9h0M641.3 309.6h0M638.0 309.1h0M617.1 301.5h0M639.8 309.3h0M641.2 309.5h0M632.1 307.0h0M638.6 309.7h0M615.5 301.7h0M615.3 302.6h0M628.4 308.3h0M619.5 308.6h0M622.1 303.0h0M628.5 303.6h0M616.0 303.7h0M616.1 286.7h0M629.7 306.3h0M635.3 310.3h0M638.2 309.8h0M629.6 307.8h0M633.1 309.2h0M620.2 306.0h0M632.5 308.4h0M617.5 302.5h0M627.8 307.4h0M628.5 304.3h0M629.9 305.6h0M620.8 296.3h0M639.5 309.7h0M615.4 307.9h0M633.5 307.3h0M632.5 308.2h0M627.0 309.3h0M628.7 303.4h0M618.6 298.2h0M636.5 308.9h0M621.9 306.9h0M632.7 306.6h0M637.4 309.6h0M633.1 307.3h0M622.6 300.1h0M622.8 307.7h0M615.2 289.3h0M633.4 310.1h0M615.9 302.0h0M618.6 295.8h0M618.2 298.3h0M627.3 307.5h0M636.6 309.4h0M626.2 304.1h0M623.3 308.0h0M639.9 309.4h0M627.1 306.2h0M629.2 308.4h0M616.1 296.4h0M638.1 310.1h0M640.8 309.9h0M641.4 309.5h0M620.0 306.6h0M637.7 308.7h0M635.0 308.7h0M627.1 303.8h0M635.6 308.2h0M620.4 296.5h0M639.9 309.6h0M615.3 304.9h0M630.2 307.9h0M638.7 309.4h0M631.7 309.6h0M626.6 304.0h0M638.7 309.0h0M619.9 301.5h0M640.7 310.2h0M616.0 305.6h0M632.7 309.0h0M632.0 306.6h0M635.1 310.2h0M631.4 306.4h0M631.8 306.4h0M635.4 308.7h0M637.0 309.3h0M616.7 303.5h0M639.2 309.9h0M625.1 301.2h0M631.3 306.4h0M625.1 305.0h0M616.1 305.2h0M617.6 298.6h0M626.6 309.7h0M629.8 309.7h0M622.8 310.0h0M625.2 308.8h0M639.4 309.9h0M635.8 309.3h0M621.3 297.5h0M620.1 301.4h0M629.9 304.4h0M631.8 310.1h0M624.7 299.9h0M636.6 309.5h0M617.0 304.1h0M633.5 309.7h0M637.8 309.9h0M631.4 307.0h0M619.4 300.7h0M629.6 308.6h0M626.8 304.9h0M640.0 310.0h0M617.9 299.5h0M628.6 306.9h0M638.5 310.0h0M626.1 305.9h0M618.4 301.1h0M624.6 306.2h0M634.0 307.1h0M640.4 310.1h0M622.5 297.3h0M616.2 308.1h0M616.0 285.4h0M626.0 306.2h0M616.5 288.7h0M641.2 309.6h0M638.5 309.5h0M621.0 307.5h0M620.8 307.9h0M622.4 309.6h0M615.6 286.0h0M636.4 308.6h0M622.0 303.8h0M627.1 303.7h0M620.8 302.0h0M627.3 303.4h0M621.9 310.3h0M623.3 299.2h0M617.9 297.0h0M617.1 304.1h0M629.4 309.7h0M624.6 303.9h0M622.9 300.4h0M636.3 309.7h0M633.6 307.7h0M628.6 306.2h0M627.8 304.6h0M631.4 309.0h0M630.2 306.3h0M624.8 300.7h0M621.0 301.6h0M627.8 305.7h0M618.1 296.4h0M616.8 297.7h0M624.5 302.6h0M636.7 308.3h0M619.1 293.1h0M625.1 305.0h0M615.6 287.1h0M619.1 305.0h0M620.8 306.5h0M620.4 305.5h0M626.8 307.2h0M633.5 307.0h0M639.2 309.8h0M631.2 306.7h0M632.5 308.7h0M618.3 294.8h0M630.4 308.4h0M630.7 309.9h0M634.3 307.6h0M640.5 310.2h0M631.5 306.6h0M617.3 296.5h0M618.2 305.8h0M615.5 302.5h0M636.4 309.1h0M634.8 307.5h0" stroke="#EE0000" stroke-width="2.2" stroke-linecap="round" opacity="0.85" fill="none"/>
<path d="M614.8,310.3 L614.8,287.3 L620.9,297.1 L628.9,305.4 L637.0,309.3 L637.0,310.3Z" fill="#EE0000" />
<path d="M614.8 219.8h0M623.9 240.6h0M620.9 257.7h0M622.9 265.2h0M617.8 268.8h0M616.8 274.1h0M633.0 276.4h0M645.1 303.1h0M643.1 305.4h0M542.1 262.6h0M570.4 279.0h0M572.4 303.1h0M568.3 307.7h0M564.3 309.6h0" stroke="#EE0000" stroke-width="2.0" stroke-linecap="round" opacity="1" fill="none"/>
<path d="M572.4 310.0h0M618.8 310.0h0M620.9 310.1h0M570.4 310.1h0" stroke="#228B22" stroke-width="2.0" stroke-linecap="round" opacity="1" fill="none"/>
<line x1="503.40" y1="310.30" x2="683.70" y2="310.30" stroke="#444" stroke-width="0.7" stroke-dasharray="4,2.2"/>
<line x1="574.40" y1="210.60" x2="574.40" y2="314.60" stroke="#111" stroke-width="0.8" stroke-dasharray="4.5,2"/>
<line x1="614.80" y1="210.60" x2="614.80" y2="314.60" stroke="#111" stroke-width="0.8" stroke-dasharray="4.5,2"/>
<line x1="503.40" y1="207.60" x2="503.40" y2="314.60" stroke="#333" stroke-width="1.0" />
<line x1="503.40" y1="314.60" x2="683.70" y2="314.60" stroke="#333" stroke-width="0.9" />
<line x1="501.10" y1="310.30" x2="503.40" y2="310.30" stroke="#333" stroke-width="0.7" />
<text x="497.80" y="313.30" font-size="8.4" text-anchor="end" fill="#555" stroke="#555" font-weight="normal" >0</text>
<line x1="501.10" y1="277.40" x2="503.40" y2="277.40" stroke="#333" stroke-width="0.7" />
<text x="497.80" y="280.40" font-size="8.4" text-anchor="end" fill="#555" stroke="#555" font-weight="normal" >100</text>
<line x1="501.10" y1="244.50" x2="503.40" y2="244.50" stroke="#333" stroke-width="0.7" />
<text x="497.80" y="247.50" font-size="8.4" text-anchor="end" fill="#555" stroke="#555" font-weight="normal" >200</text>
<line x1="501.10" y1="211.60" x2="503.40" y2="211.60" stroke="#333" stroke-width="0.7" />
<text x="497.80" y="214.60" font-size="8.4" text-anchor="end" fill="#555" stroke="#555" font-weight="normal" >300</text>
<line x1="513.80" y1="314.60" x2="513.80" y2="316.90" stroke="#333" stroke-width="0.7" />
<text x="513.80" y="327.60" font-size="8.4" text-anchor="middle" fill="#555" stroke="#555" font-weight="normal" >−4</text>
<line x1="554.20" y1="314.60" x2="554.20" y2="316.90" stroke="#333" stroke-width="0.7" />
<text x="554.20" y="327.60" font-size="8.4" text-anchor="middle" fill="#555" stroke="#555" font-weight="normal" >−2</text>
<line x1="594.60" y1="314.60" x2="594.60" y2="316.90" stroke="#333" stroke-width="0.7" />
<text x="594.60" y="327.60" font-size="8.4" text-anchor="middle" fill="#555" stroke="#555" font-weight="normal" >0</text>
<line x1="635.00" y1="314.60" x2="635.00" y2="316.90" stroke="#333" stroke-width="0.7" />
<text x="635.00" y="327.60" font-size="8.4" text-anchor="middle" fill="#555" stroke="#555" font-weight="normal" >2</text>
<line x1="675.40" y1="314.60" x2="675.40" y2="316.90" stroke="#333" stroke-width="0.7" />
<text x="675.40" y="327.60" font-size="8.4" text-anchor="middle" fill="#555" stroke="#555" font-weight="normal" >4</text>
<text x="593.50" y="201.70" font-size="8.4" text-anchor="middle" fill="#111" stroke="#111" font-weight="normal" >Wnt10a vs control</text>
<text x="593.40" y="340.80" font-size="8.4" text-anchor="middle" fill="#111" stroke="#111" font-weight="normal" >Log<tspan font-size="5.6" dy="1.8">2</tspan><tspan dy="-1.8"> fold change</tspan></text>
<text x="0.00" y="0.00" font-size="8.4" text-anchor="middle" fill="#111" stroke="#111" font-weight="normal" transform="translate(476.5,255) rotate(-90)">-Log<tspan font-size="5.6" dy="1.8">10</tspan><tspan dy="-1.8" font-style="italic"> P</tspan></text>
<text x="532.60" y="263.40" font-size="6.9" text-anchor="start" fill="#111" stroke="#111" font-weight="normal" >FOS</text>
<text x="562.70" y="280.20" font-size="6.9" text-anchor="start" fill="#111" stroke="#111" font-weight="normal" >IFI6</text>
<text x="555.10" y="301.80" font-size="6.9" text-anchor="start" fill="#111" stroke="#111" font-weight="normal" >IFITM1</text>
<text x="617.60" y="221.00" font-size="6.9" text-anchor="start" fill="#111" stroke="#111" font-weight="normal" >SCAND1</text>
<text x="625.60" y="240.90" font-size="6.9" text-anchor="start" fill="#111" stroke="#111" font-weight="normal" >MRPL23</text>
<text x="620.90" y="259.60" font-size="6.9" text-anchor="start" fill="#111" stroke="#111" font-weight="normal" >RBFOX1</text>
<text x="623.00" y="266.10" font-size="6.9" text-anchor="start" fill="#111" stroke="#111" font-weight="normal" >SPATC1L</text>
<text x="618.70" y="272.60" font-size="6.9" text-anchor="start" fill="#111" stroke="#111" font-weight="normal" >CSMD1</text>
<text x="645.10" y="303.60" font-size="6.9" text-anchor="start" fill="#111" stroke="#111" font-weight="normal" >AP001 993.1</text>
<line x1="203.5" y1="369.4" x2="203.5" y2="479.2" stroke="#F0F0F0" stroke-width="0.5"/><line x1="229.6" y1="369.4" x2="229.6" y2="479.2" stroke="#F0F0F0" stroke-width="0.5"/><line x1="255.7" y1="369.4" x2="255.7" y2="479.2" stroke="#F0F0F0" stroke-width="0.5"/><line x1="281.8" y1="369.4" x2="281.8" y2="479.2" stroke="#F0F0F0" stroke-width="0.5"/><line x1="190.4" y1="369.4" x2="190.4" y2="479.2" stroke="#E5E5E5" stroke-width="0.9"/><line x1="216.5" y1="369.4" x2="216.5" y2="479.2" stroke="#E5E5E5" stroke-width="0.9"/><line x1="242.6" y1="369.4" x2="242.6" y2="479.2" stroke="#E5E5E5" stroke-width="0.9"/><line x1="268.7" y1="369.4" x2="268.7" y2="479.2" stroke="#E5E5E5" stroke-width="0.9"/>
<line x1="186.20" y1="377.50" x2="293.00" y2="377.50" stroke="#E5E5E5" stroke-width="0.9" />
<rect x="190.40" y="372.20" width="99.18" height="10.60" fill="#F18B0E" stroke="none" stroke-width="0.6" />
<line x1="183.90" y1="377.50" x2="186.20" y2="377.50" stroke="#333" stroke-width="0.7" />
<text x="179.00" y="380.50" font-size="8.4" text-anchor="end" fill="#F41010" stroke="#F41010" font-weight="normal" >Extracellular matrix organization</text>
<line x1="186.20" y1="390.98" x2="293.00" y2="390.98" stroke="#E5E5E5" stroke-width="0.9" />
<rect x="190.40" y="385.68" width="78.30" height="10.60" fill="#F39B3C" stroke="none" stroke-width="0.6" />
<line x1="183.90" y1="390.98" x2="186.20" y2="390.98" stroke="#333" stroke-width="0.7" />
<text x="179.00" y="393.98" font-size="8.4" text-anchor="end" fill="#4D4D4D" stroke="#4D4D4D" font-weight="normal" >Pattern specification process</text>
<line x1="186.20" y1="404.46" x2="293.00" y2="404.46" stroke="#E5E5E5" stroke-width="0.9" />
<rect x="190.40" y="399.16" width="73.08" height="10.60" fill="#F5AA5E" stroke="none" stroke-width="0.6" />
<line x1="183.90" y1="404.46" x2="186.20" y2="404.46" stroke="#333" stroke-width="0.7" />
<text x="179.00" y="407.46" font-size="8.4" text-anchor="end" fill="#F41010" stroke="#F41010" font-weight="normal" >Wnt signaling pathway</text>
<line x1="186.20" y1="417.94" x2="293.00" y2="417.94" stroke="#E5E5E5" stroke-width="0.9" />
<rect x="190.40" y="412.64" width="57.42" height="10.60" fill="#F18B0E" stroke="none" stroke-width="0.6" />
<line x1="183.90" y1="417.94" x2="186.20" y2="417.94" stroke="#333" stroke-width="0.7" />
<text x="179.00" y="420.94" font-size="8.4" text-anchor="end" fill="#F41010" stroke="#F41010" font-weight="normal" >Odontogenesis</text>
<line x1="186.20" y1="431.42" x2="293.00" y2="431.42" stroke="#E5E5E5" stroke-width="0.9" />
<rect x="190.40" y="426.12" width="52.20" height="10.60" fill="#FCDAB2" stroke="none" stroke-width="0.6" />
<line x1="183.90" y1="431.42" x2="186.20" y2="431.42" stroke="#333" stroke-width="0.7" />
<text x="179.00" y="434.42" font-size="8.4" text-anchor="end" fill="#F41010" stroke="#F41010" font-weight="normal" >Canonical Wnt signaling pathway</text>
<line x1="186.20" y1="444.90" x2="293.00" y2="444.90" stroke="#E5E5E5" stroke-width="0.9" />
<rect x="190.40" y="439.60" width="46.98" height="10.60" fill="#FCDAB2" stroke="none" stroke-width="0.6" />
<line x1="183.90" y1="444.90" x2="186.20" y2="444.90" stroke="#333" stroke-width="0.7" />
<text x="179.00" y="447.90" font-size="8.4" text-anchor="end" fill="#F41010" stroke="#F41010" font-weight="normal" >Mesenchymal cell differentiation</text>
<line x1="186.20" y1="458.38" x2="293.00" y2="458.38" stroke="#E5E5E5" stroke-width="0.9" />
<rect x="190.40" y="453.08" width="41.76" height="10.60" fill="#F3973A" stroke="none" stroke-width="0.6" />
<line x1="183.90" y1="458.38" x2="186.20" y2="458.38" stroke="#333" stroke-width="0.7" />
<text x="179.00" y="461.38" font-size="8.4" text-anchor="end" fill="#4D4D4D" stroke="#4D4D4D" font-weight="normal" >Regulation of animal organ morphogenesis</text>
<line x1="186.20" y1="471.86" x2="293.00" y2="471.86" stroke="#E5E5E5" stroke-width="0.9" />
<rect x="190.40" y="466.56" width="36.54" height="10.60" fill="#F3973A" stroke="none" stroke-width="0.6" />
<line x1="183.90" y1="471.86" x2="186.20" y2="471.86" stroke="#333" stroke-width="0.7" />
<text x="179.00" y="474.86" font-size="8.4" text-anchor="end" fill="#F41010" stroke="#F41010" font-weight="normal" >Odontogenesis of dentin−containing tooth</text>
<rect x="186.20" y="369.40" width="106.80" height="109.80" fill="none" stroke="#222" stroke-width="0.9" />
<line x1="190.40" y1="479.20" x2="190.40" y2="481.50" stroke="#333" stroke-width="0.7" />
<text x="190.40" y="492.30" font-size="8.4" text-anchor="middle" fill="#4D4D4D" stroke="#4D4D4D" font-weight="normal" >0</text>
<line x1="216.50" y1="479.20" x2="216.50" y2="481.50" stroke="#333" stroke-width="0.7" />
<text x="216.50" y="492.30" font-size="8.4" text-anchor="middle" fill="#4D4D4D" stroke="#4D4D4D" font-weight="normal" >5</text>
<line x1="242.60" y1="479.20" x2="242.60" y2="481.50" stroke="#333" stroke-width="0.7" />
<text x="242.60" y="492.30" font-size="8.4" text-anchor="middle" fill="#4D4D4D" stroke="#4D4D4D" font-weight="normal" >10</text>
<line x1="268.70" y1="479.20" x2="268.70" y2="481.50" stroke="#333" stroke-width="0.7" />
<text x="268.70" y="492.30" font-size="8.4" text-anchor="middle" fill="#4D4D4D" stroke="#4D4D4D" font-weight="normal" >15</text>
<text x="239.60" y="364.20" font-size="8.4" text-anchor="middle" fill="#111" stroke="#111" font-weight="normal" >Wnt3a vs control (up)</text>
<text x="239.70" y="505.60" font-size="8.4" text-anchor="middle" fill="#111" stroke="#111" font-weight="normal" >Gene_number</text>
<text x="0.00" y="0.00" font-size="8.4" text-anchor="middle" fill="#111" stroke="#111" font-weight="normal" transform="translate(12.2,423.5) rotate(-90)">GO term</text>
<text x="303.40" y="392.00" font-size="8.4" text-anchor="start" fill="#111" stroke="#111" font-weight="normal" ><tspan font-style="italic">P</tspan>.adjust</text>
<defs><linearGradient id="orng" x1="0" y1="0" x2="0" y2="1"><stop offset="0" stop-color="#FDDDB8"/><stop offset="1" stop-color="#F18B0E"/></linearGradient></defs>
<rect x="302.60" y="397.90" width="13.40" height="65.50" fill="url(#orng)" stroke="none" stroke-width="0.6" />
<line x1="302.60" y1="410.80" x2="305.00" y2="410.80" stroke="#fff" stroke-width="0.5" />
<line x1="313.60" y1="410.80" x2="316.00" y2="410.80" stroke="#fff" stroke-width="0.5" />
<text x="320.20" y="413.80" font-size="8.4" text-anchor="start" fill="#222" stroke="#222" font-weight="normal" >0.020</text>
<line x1="302.60" y1="424.00" x2="305.00" y2="424.00" stroke="#fff" stroke-width="0.5" />
<line x1="313.60" y1="424.00" x2="316.00" y2="424.00" stroke="#fff" stroke-width="0.5" />
<text x="320.20" y="427.00" font-size="8.4" text-anchor="start" fill="#222" stroke="#222" font-weight="normal" >0.015</text>
<line x1="302.60" y1="436.90" x2="305.00" y2="436.90" stroke="#fff" stroke-width="0.5" />
<line x1="313.60" y1="436.90" x2="316.00" y2="436.90" stroke="#fff" stroke-width="0.5" />
<text x="320.20" y="439.90" font-size="8.4" text-anchor="start" fill="#222" stroke="#222" font-weight="normal" >0.010</text>
<line x1="302.60" y1="450.00" x2="305.00" y2="450.00" stroke="#fff" stroke-width="0.5" />
<line x1="313.60" y1="450.00" x2="316.00" y2="450.00" stroke="#fff" stroke-width="0.5" />
<text x="320.20" y="453.00" font-size="8.4" text-anchor="start" fill="#222" stroke="#222" font-weight="normal" >0.005</text>
<rect x="398.10" y="363.70" width="67.50" height="17.40" fill="#fff" stroke="#222" stroke-width="0.9" />
<text x="431.85" y="375.80" font-size="8.4" text-anchor="middle" fill="#111" stroke="#111" font-weight="normal" >Control</text>
<rect x="468.10" y="363.70" width="67.50" height="17.40" fill="#fff" stroke="#222" stroke-width="0.9" />
<text x="501.85" y="375.80" font-size="8.4" text-anchor="middle" fill="#111" stroke="#111" font-weight="normal" >Wnt3a</text>
<rect x="538.60" y="363.70" width="67.70" height="17.40" fill="#fff" stroke="#222" stroke-width="0.9" />
<text x="572.45" y="375.80" font-size="8.4" text-anchor="middle" fill="#111" stroke="#111" font-weight="normal" >Wnt5a</text>
<rect x="609.30" y="363.70" width="67.50" height="17.40" fill="#fff" stroke="#222" stroke-width="0.9" />
<text x="643.05" y="375.80" font-size="8.4" text-anchor="middle" fill="#111" stroke="#111" font-weight="normal" >Wnt10a</text>
<rect x="398.10" y="521.70" width="67.50" height="17.60" fill="#fff" stroke="#222" stroke-width="0.9" />
<text x="431.85" y="533.90" font-size="8.4" text-anchor="middle" fill="#111" stroke="#111" font-weight="normal" >Control</text>
<rect x="468.10" y="521.70" width="67.50" height="17.60" fill="#fff" stroke="#222" stroke-width="0.9" />
<text x="501.85" y="533.90" font-size="8.4" text-anchor="middle" fill="#111" stroke="#111" font-weight="normal" >Wnt3a</text>
<rect x="538.60" y="521.70" width="67.70" height="17.60" fill="#fff" stroke="#222" stroke-width="0.9" />
<text x="572.45" y="533.90" font-size="8.4" text-anchor="middle" fill="#111" stroke="#111" font-weight="normal" >Wnt5a</text>
<rect x="609.30" y="521.70" width="67.50" height="17.60" fill="#fff" stroke="#222" stroke-width="0.9" />
<text x="643.05" y="533.90" font-size="8.4" text-anchor="middle" fill="#111" stroke="#111" font-weight="normal" >Wnt10a</text>
<rect x="379.20" y="384.30" width="18.10" height="96.80" fill="#fff" stroke="#222" stroke-width="0.9" />
<text x="0.00" y="0.00" font-size="8.4" text-anchor="middle" fill="#111" stroke="#111" font-weight="normal" transform="translate(391.1,434) rotate(-90)">ALP</text>
<rect x="379.20" y="542.80" width="18.10" height="95.80" fill="#fff" stroke="#222" stroke-width="0.9" />
<text x="0.00" y="0.00" font-size="8.4" text-anchor="middle" fill="#111" stroke="#111" font-weight="normal" transform="translate(391.1,592) rotate(-90)">ARS</text>
<defs>
<radialGradient id="alp0" cx="0.55" cy="0.45" r="0.6"><stop offset="0" stop-color="#F0F0F0"/><stop offset="0.7" stop-color="#E2E2E2"/><stop offset="1" stop-color="#C8C8C8"/></radialGradient>
<radialGradient id="alp1"><stop offset="0" stop-color="#E2E0EE"/><stop offset="0.7" stop-color="#D6D3E8"/><stop offset="1" stop-color="#C2BCDC"/></radialGradient>
<radialGradient id="alp2"><stop offset="0" stop-color="#E2E2E2"/><stop offset="1" stop-color="#C9C9C9"/></radialGradient>
<radialGradient id="alp3"><stop offset="0" stop-color="#EEEDF2"/><stop offset="1" stop-color="#C9C5DC"/></radialGradient>
<radialGradient id="ars0"><stop offset="0" stop-color="#CC857C"/><stop offset="0.8" stop-color="#C77D77"/><stop offset="1" stop-color="#BB6C6C"/></radialGradient>
<radialGradient id="ars1"><stop offset="0" stop-color="#C8404E"/><stop offset="0.8" stop-color="#C63449"/><stop offset="1" stop-color="#B82A42"/></radialGradient>
<radialGradient id="ars2"><stop offset="0" stop-color="#D8A298"/><stop offset="0.8" stop-color="#D39A92"/><stop offset="1" stop-color="#C98A88"/></radialGradient>
<radialGradient id="ars3"><stop offset="0" stop-color="#D08A80"/><stop offset="0.8" stop-color="#CB827C"/><stop offset="1" stop-color="#BE7070"/></radialGradient>
</defs>
<defs><radialGradient id="arsg0" cx="0.5" cy="0.5" r="0.75"><stop offset="0" stop-color="#F9E9DD"/><stop offset="1" stop-color="#EBBFA0"/></radialGradient><radialGradient id="arsg1" cx="0.5" cy="0.5" r="0.75"><stop offset="0" stop-color="#F0D2C2"/><stop offset="1" stop-color="#E6B89E"/></radialGradient><radialGradient id="arsg2" cx="0.5" cy="0.5" r="0.75"><stop offset="0" stop-color="#FAEDE2"/><stop offset="1" stop-color="#EEC7AC"/></radialGradient><radialGradient id="arsg3" cx="0.5" cy="0.5" r="0.75"><stop offset="0" stop-color="#F9E8DC"/><stop offset="1" stop-color="#EDC3A6"/></radialGradient></defs>
<defs><filter id="as0" x="0" y="0" width="100%" height="100%" filterUnits="objectBoundingBox" color-interpolation-filters="sRGB"><feTurbulence type="fractalNoise" baseFrequency="1.5" numOctaves="1" seed="2"/><feColorMatrix type="matrix" values="0 0 0 0 0.4  0 0 0 0 0.4  0 0 0 0 0.48  -3 0 0 0 1.05"/></filter><filter id="as1" x="0" y="0" width="100%" height="100%" filterUnits="objectBoundingBox" color-interpolation-filters="sRGB"><feTurbulence type="fractalNoise" baseFrequency="1.5" numOctaves="2" seed="3"/><feColorMatrix type="matrix" values="0 0 0 0 0.4  0 0 0 0 0.34  0 0 0 0 0.64  -3 0 0 0 1.55"/></filter><filter id="as2" x="0" y="0" width="100%" height="100%" filterUnits="objectBoundingBox" color-interpolation-filters="sRGB"><feTurbulence type="fractalNoise" baseFrequency="1.5" numOctaves="2" seed="4"/><feColorMatrix type="matrix" values="0 0 0 0 0.3  0 0 0 0 0.3  0 0 0 0 0.33  -2.5 0 0 0 1.2"/></filter><filter id="as3" x="0" y="0" width="100%" height="100%" filterUnits="objectBoundingBox" color-interpolation-filters="sRGB"><feTurbulence type="fractalNoise" baseFrequency="1.5" numOctaves="2" seed="5"/><feColorMatrix type="matrix" values="0 0 0 0 0.45  0 0 0 0 0.4  0 0 0 0 0.68  -2.5 0 0 0 1.2"/></filter><filter id="rm0" x="0" y="0" width="100%" height="100%" filterUnits="objectBoundingBox" color-interpolation-filters="sRGB"><feTurbulence type="fractalNoise" baseFrequency="0.22" numOctaves="3" seed="6"/><feColorMatrix type="matrix" values="0 0 0 0 0.8  0 0 0 0 0.42  0 0 0 0 0.34  -3 0 0 0 1.35"/></filter><filter id="rm1" x="0" y="0" width="100%" height="100%" filterUnits="objectBoundingBox" color-interpolation-filters="sRGB"><feTurbulence type="fractalNoise" baseFrequency="0.22" numOctaves="3" seed="7"/><feColorMatrix type="matrix" values="0 0 0 0 0.72  0 0 0 0 0.12  0 0 0 0 0.1  -3 0 0 0 1.4"/></filter><filter id="rm2" x="0" y="0" width="100%" height="100%" filterUnits="objectBoundingBox" color-interpolation-filters="sRGB"><feTurbulence type="fractalNoise" baseFrequency="0.22" numOctaves="3" seed="8"/><feColorMatrix type="matrix" values="0 0 0 0 0.82  0 0 0 0 0.5  0 0 0 0 0.42  -3 0 0 0 1.3"/></filter><filter id="rm3" x="0" y="0" width="100%" height="100%" filterUnits="objectBoundingBox" color-interpolation-filters="sRGB"><feTurbulence type="fractalNoise" baseFrequency="0.22" numOctaves="3" seed="9"/><feColorMatrix type="matrix" values="0 0 0 0 0.8  0 0 0 0 0.42  0 0 0 0 0.36  -3 0 0 0 1.35"/></filter><filter id="rl" x="0" y="0" width="100%" height="100%" filterUnits="objectBoundingBox" color-interpolation-filters="sRGB"><feTurbulence type="fractalNoise" baseFrequency="0.3" numOctaves="2" seed="10"/><feColorMatrix type="matrix" values="0 0 0 0 0.92  0 0 0 0 0.75  0 0 0 0 0.74  3 0 0 0 -1.65"/></filter><filter id="ms0" x="0" y="0" width="100%" height="100%" filterUnits="objectBoundingBox" color-interpolation-filters="sRGB"><feTurbulence type="fractalNoise" baseFrequency="0.16 0.4" numOctaves="3" seed="11"/><feColorMatrix type="matrix" values="0 0 0 0 0.42  0 0 0 0 0.3  0 0 0 0 0.56  -4 0 0 0 1.35"/><feGaussianBlur stdDeviation="0.3"/></filter><filter id="ms1" x="0" y="0" width="100%" height="100%" filterUnits="objectBoundingBox" color-interpolation-filters="sRGB"><feTurbulence type="fractalNoise" baseFrequency="0.16 0.4" numOctaves="3" seed="12"/><feColorMatrix type="matrix" values="0 0 0 0 0.38  0 0 0 0 0.24  0 0 0 0 0.5  -4 0 0 0 1.8"/><feGaussianBlur stdDeviation="0.3"/></filter><filter id="ms2" x="0" y="0" width="100%" height="100%" filterUnits="objectBoundingBox" color-interpolation-filters="sRGB"><feTurbulence type="fractalNoise" baseFrequency="0.16 0.4" numOctaves="3" seed="13"/><feColorMatrix type="matrix" values="0 0 0 0 0.4  0 0 0 0 0.27  0 0 0 0 0.54  -4 0 0 0 1.7"/><feGaussianBlur stdDeviation="0.3"/></filter><filter id="ms3" x="0" y="0" width="100%" height="100%" filterUnits="objectBoundingBox" color-interpolation-filters="sRGB"><feTurbulence type="fractalNoise" baseFrequency="0.16 0.4" numOctaves="3" seed="14"/><feColorMatrix type="matrix" values="0 0 0 0 0.4  0 0 0 0 0.27  0 0 0 0 0.54  -4 0 0 0 1.65"/><feGaussianBlur stdDeviation="0.3"/></filter><filter id="mfine" x="0" y="0" width="100%" height="100%" filterUnits="objectBoundingBox" color-interpolation-filters="sRGB"><feTurbulence type="fractalNoise" baseFrequency="0.9" numOctaves="1" seed="15"/><feColorMatrix type="matrix" values="0 0 0 0 1  0 0 0 0 1  0 0 0 0 1  3 0 0 0 -1.65"/></filter><filter id="mmot" x="0" y="0" width="100%" height="100%" filterUnits="objectBoundingBox" color-interpolation-filters="sRGB"><feTurbulence type="fractalNoise" baseFrequency="0.45" numOctaves="2" seed="18"/><feColorMatrix type="matrix" values="0 0 0 0 0.55  0 0 0 0 0.5  0 0 0 0 0.72  -3 0 0 0 1.5"/></filter><filter id="fs" x="0" y="0" width="100%" height="100%" filterUnits="objectBoundingBox" color-interpolation-filters="sRGB"><feTurbulence type="fractalNoise" baseFrequency="0.05 0.25" numOctaves="3" seed="16"/><feColorMatrix type="matrix" values="0 0 0 0 0.85  0 0 0 0 0.5  0 0 0 0 0.35  -4 0 0 0 1.52"/></filter><filter id="fl" x="0" y="0" width="100%" height="100%" filterUnits="objectBoundingBox" color-interpolation-filters="sRGB"><feTurbulence type="fractalNoise" baseFrequency="0.05 0.25" numOctaves="3" seed="17"/><feColorMatrix type="matrix" values="0 0 0 0 1  0 0 0 0 0.97  0 0 0 0 0.93  4 0 0 0 -2.48"/></filter><filter id="blur3" x="-50%" y="-50%" width="200%" height="200%"><feGaussianBlur stdDeviation="4"/></filter></defs>
<clipPath id="alc0"><circle cx="433.7" cy="407.8" r="24.4"/></clipPath><circle cx="433.7" cy="407.8" r="24.4" fill="url(#alp0)"/>
<g clip-path="url(#alc0)"><rect x="408.7" y="382.8" width="50" height="50" filter="url(#as0)" opacity="0.45"/></g>
<clipPath id="alc1"><circle cx="502" cy="407.8" r="24.4"/></clipPath><circle cx="502" cy="407.8" r="24.4" fill="url(#alp1)"/>
<g clip-path="url(#alc1)"><rect x="477" y="382.8" width="50" height="50" filter="url(#as1)" opacity="0.45"/></g>
<clipPath id="alc2"><circle cx="572.1" cy="407.8" r="24.4"/></clipPath><circle cx="572.1" cy="407.8" r="24.4" fill="url(#alp2)"/>
<g clip-path="url(#alc2)"><rect x="547.1" y="382.8" width="50" height="50" filter="url(#as2)" opacity="0.6"/></g>
<clipPath id="alc3"><circle cx="641.1" cy="407.8" r="24.4"/></clipPath><circle cx="641.1" cy="407.8" r="24.4" fill="url(#alp3)"/>
<g clip-path="url(#alc3)"><rect x="616.1" y="382.8" width="50" height="50" filter="url(#as3)" opacity="0.5"/></g>
<clipPath id="arsc0"><circle cx="434.0" cy="566.2" r="24.5"/></clipPath><circle cx="434.0" cy="566.2" r="24.5" fill="url(#ars0)"/>
<g clip-path="url(#arsc0)"><rect x="409.0" y="541.2" width="50" height="50" filter="url(#rm0)"/><g transform="rotate(35 434.0 566.2)"><rect x="398.0" y="530" width="72" height="72" filter="url(#rl)" opacity="0.3"/></g></g>
<clipPath id="arsc1"><circle cx="502.3" cy="566.2" r="24.5"/></clipPath><circle cx="502.3" cy="566.2" r="24.5" fill="url(#ars1)"/>
<g clip-path="url(#arsc1)"><rect x="477.3" y="541.2" width="50" height="50" filter="url(#rm1)"/><g transform="rotate(35 502.3 566.2)"><rect x="466.3" y="530" width="72" height="72" filter="url(#rl)" opacity="0.3"/></g></g>
<clipPath id="arsc2"><circle cx="572.4" cy="566.2" r="24.5"/></clipPath><circle cx="572.4" cy="566.2" r="24.5" fill="url(#ars2)"/>
<g clip-path="url(#arsc2)"><rect x="547.4" y="541.2" width="50" height="50" filter="url(#rm2)"/><g transform="rotate(35 572.4 566.2)"><rect x="536.4" y="530" width="72" height="72" filter="url(#rl)" opacity="0.3"/></g></g>
<clipPath id="arsc3"><circle cx="641.4" cy="566.2" r="24.5"/></clipPath><circle cx="641.4" cy="566.2" r="24.5" fill="url(#ars3)"/>
<g clip-path="url(#arsc3)"><rect x="616.4" y="541.2" width="50" height="50" filter="url(#rm3)"/><g transform="rotate(35 641.4 566.2)"><rect x="605.4" y="530" width="72" height="72" filter="url(#rl)" opacity="0.3"/></g></g>
<clipPath id="mc0"><rect x="399.1" y="432.7" width="67.19999999999999" height="48.9"/></clipPath>
<clipPath id="mf0"><rect x="399.1" y="592.4" width="67.19999999999999" height="47.6"/></clipPath>
<rect x="399.10" y="432.70" width="67.20" height="48.90" fill="#C0D3E8" stroke="none" stroke-width="0.6" />
<g clip-path="url(#mc0)"><rect x="399.1" y="432.7" width="67.19999999999999" height="48.9" filter="url(#mfine)" opacity="0.45"/><rect x="399.1" y="432.7" width="67.19999999999999" height="48.9" filter="url(#mmot)" opacity="0.5"/><g transform="rotate(-55 432.70000000000005 457)"><rect x="382.70000000000005" y="410" width="100" height="95" filter="url(#ms0)"/></g></g>
<rect x="399.1" y="592.4" width="67.2" height="47.6" fill="url(#arsg0)"/>
<g clip-path="url(#mf0)"><g transform="rotate(-25 432.70000000000005 616)"><rect x="382.70000000000005" y="570" width="100" height="95" filter="url(#fs)" opacity="0.25"/><rect x="382.70000000000005" y="570" width="100" height="95" filter="url(#fl)" opacity="0.35"/></g></g>
<rect x="399.10" y="432.70" width="67.20" height="48.90" fill="none" stroke="#222" stroke-width="0.9" />
<rect x="399.10" y="592.40" width="67.20" height="47.60" fill="none" stroke="#222" stroke-width="0.9" />
<text x="464.80" y="476.50" font-size="8.4" text-anchor="end" fill="#111" stroke="#111" font-weight="normal" >200 μm</text>
<line x1="457.30" y1="478.50" x2="463.30" y2="478.50" stroke="#111" stroke-width="0.9" />
<text x="464.80" y="635.50" font-size="8.4" text-anchor="end" fill="#111" stroke="#111" font-weight="normal" >200 μm</text>
<line x1="457.30" y1="637.50" x2="463.30" y2="637.50" stroke="#111" stroke-width="0.9" />
<clipPath id="mc1"><rect x="468.8" y="432.7" width="67.49999999999994" height="48.9"/></clipPath>
<clipPath id="mf1"><rect x="468.8" y="592.4" width="67.49999999999994" height="47.6"/></clipPath>
<rect x="468.80" y="432.70" width="67.50" height="48.90" fill="#C3CAE4" stroke="none" stroke-width="0.6" />
<g clip-path="url(#mc1)"><rect x="468.8" y="432.7" width="67.49999999999994" height="48.9" filter="url(#mfine)" opacity="0.45"/><rect x="468.8" y="432.7" width="67.49999999999994" height="48.9" filter="url(#mmot)" opacity="0.5"/><g transform="rotate(-55 502.54999999999995 457)"><rect x="452.54999999999995" y="410" width="100" height="95" filter="url(#ms1)"/></g></g>
<rect x="468.8" y="592.4" width="67.5" height="47.6" fill="url(#arsg1)"/>
<g clip-path="url(#mf1)"><g transform="rotate(-25 502.54999999999995 616)"><rect x="452.54999999999995" y="570" width="100" height="95" filter="url(#fs)" opacity="0.25"/><rect x="452.54999999999995" y="570" width="100" height="95" filter="url(#fl)" opacity="0.35"/></g><ellipse cx="506.54999999999995" cy="612" rx="26" ry="19" fill="#A08C92" opacity="0.5" filter="url(#blur3)"/><circle cx="528" cy="601" r="1.2" fill="#3A2A28" opacity="0.75"/><circle cx="521" cy="606" r="0.6" fill="#3A2A28" opacity="0.75"/><circle cx="498" cy="601" r="0.5" fill="#3A2A28" opacity="0.75"/><circle cx="471" cy="611" r="0.7" fill="#3A2A28" opacity="0.75"/><circle cx="477" cy="631" r="0.9" fill="#3A2A28" opacity="0.75"/><circle cx="503" cy="620" r="0.5" fill="#3A2A28" opacity="0.75"/><circle cx="481" cy="627" r="0.5" fill="#3A2A28" opacity="0.75"/></g>
<rect x="468.80" y="432.70" width="67.50" height="48.90" fill="none" stroke="#222" stroke-width="0.9" />
<rect x="468.80" y="592.40" width="67.50" height="47.60" fill="none" stroke="#222" stroke-width="0.9" />
<text x="534.80" y="476.50" font-size="8.4" text-anchor="end" fill="#111" stroke="#111" font-weight="normal" >200 μm</text>
<line x1="527.30" y1="478.50" x2="533.30" y2="478.50" stroke="#111" stroke-width="0.9" />
<text x="534.80" y="635.50" font-size="8.4" text-anchor="end" fill="#111" stroke="#111" font-weight="normal" >200 μm</text>
<line x1="527.30" y1="637.50" x2="533.30" y2="637.50" stroke="#111" stroke-width="0.9" />
<clipPath id="mc2"><rect x="539.1" y="432.7" width="67.19999999999993" height="48.9"/></clipPath>
<clipPath id="mf2"><rect x="539.1" y="592.4" width="67.19999999999993" height="47.6"/></clipPath>
<rect x="539.10" y="432.70" width="67.20" height="48.90" fill="#BCC9E3" stroke="none" stroke-width="0.6" />
<g clip-path="url(#mc2)"><rect x="539.1" y="432.7" width="67.19999999999993" height="48.9" filter="url(#mfine)" opacity="0.45"/><rect x="539.1" y="432.7" width="67.19999999999993" height="48.9" filter="url(#mmot)" opacity="0.5"/><g transform="rotate(-55 572.7 457)"><rect x="522.7" y="410" width="100" height="95" filter="url(#ms2)"/></g></g>
<rect x="539.1" y="592.4" width="67.2" height="47.6" fill="url(#arsg2)"/>
<g clip-path="url(#mf2)"><g transform="rotate(-25 572.7 616)"><rect x="522.7" y="570" width="100" height="95" filter="url(#fs)" opacity="0.25"/><rect x="522.7" y="570" width="100" height="95" filter="url(#fl)" opacity="0.35"/></g></g>
<rect x="539.10" y="432.70" width="67.20" height="48.90" fill="none" stroke="#222" stroke-width="0.9" />
<rect x="539.10" y="592.40" width="67.20" height="47.60" fill="none" stroke="#222" stroke-width="0.9" />
<text x="604.80" y="476.50" font-size="8.4" text-anchor="end" fill="#111" stroke="#111" font-weight="normal" >200 μm</text>
<line x1="597.30" y1="478.50" x2="603.30" y2="478.50" stroke="#111" stroke-width="0.9" />
<text x="604.80" y="635.50" font-size="8.4" text-anchor="end" fill="#111" stroke="#111" font-weight="normal" >200 μm</text>
<line x1="597.30" y1="637.50" x2="603.30" y2="637.50" stroke="#111" stroke-width="0.9" />
<clipPath id="mc3"><rect x="609.3" y="432.7" width="67.0" height="48.9"/></clipPath>
<clipPath id="mf3"><rect x="609.3" y="592.4" width="67.0" height="47.6"/></clipPath>
<rect x="609.30" y="432.70" width="67.00" height="48.90" fill="#C0CCE5" stroke="none" stroke-width="0.6" />
<g clip-path="url(#mc3)"><rect x="609.3" y="432.7" width="67.0" height="48.9" filter="url(#mfine)" opacity="0.45"/><rect x="609.3" y="432.7" width="67.0" height="48.9" filter="url(#mmot)" opacity="0.5"/><g transform="rotate(-55 642.8 457)"><rect x="592.8" y="410" width="100" height="95" filter="url(#ms3)"/></g></g>
<rect x="609.3" y="592.4" width="67.0" height="47.6" fill="url(#arsg3)"/>
<g clip-path="url(#mf3)"><g transform="rotate(-25 642.8 616)"><rect x="592.8" y="570" width="100" height="95" filter="url(#fs)" opacity="0.25"/><rect x="592.8" y="570" width="100" height="95" filter="url(#fl)" opacity="0.35"/></g></g>
<rect x="609.30" y="432.70" width="67.00" height="48.90" fill="none" stroke="#222" stroke-width="0.9" />
<rect x="609.30" y="592.40" width="67.00" height="47.60" fill="none" stroke="#222" stroke-width="0.9" />
<text x="674.80" y="476.50" font-size="8.4" text-anchor="end" fill="#111" stroke="#111" font-weight="normal" >200 μm</text>
<line x1="667.30" y1="478.50" x2="673.30" y2="478.50" stroke="#111" stroke-width="0.9" />
<text x="674.80" y="635.50" font-size="8.4" text-anchor="end" fill="#111" stroke="#111" font-weight="normal" >200 μm</text>
<line x1="667.30" y1="637.50" x2="673.30" y2="637.50" stroke="#111" stroke-width="0.9" />
<defs><filter id="bblur" x="-20%" y="-50%" width="140%" height="200%"><feGaussianBlur stdDeviation="0.9 0.6"/></filter><filter id="bnoise" x="0" y="0" width="100%" height="100%" filterUnits="objectBoundingBox" color-interpolation-filters="sRGB"><feTurbulence type="fractalNoise" baseFrequency="0.6 1.2" numOctaves="2" seed="21"/><feColorMatrix type="matrix" values="0 0 0 0 0.45  0 0 0 0 0.45  0 0 0 0 0.45  -2.5 0 0 0 1.3"/></filter></defs>
<rect x="32.20" y="566.40" width="108.50" height="17.10" fill="#F5F5F5" stroke="none" stroke-width="0.6" />
<rect x="32.2" y="566.4" width="108.5" height="17.1" filter="url(#bnoise)" opacity="0.2"/>
<rect x="32.20" y="586.10" width="108.50" height="14.20" fill="#F5F5F5" stroke="none" stroke-width="0.6" />
<rect x="32.2" y="586.1" width="108.5" height="14.2" filter="url(#bnoise)" opacity="0.2"/>
<rect x="32.20" y="603.20" width="108.50" height="17.50" fill="#F5F5F5" stroke="none" stroke-width="0.6" />
<rect x="32.2" y="603.2" width="108.5" height="17.5" filter="url(#bnoise)" opacity="0.2"/>
<text x="28.00" y="577.30" font-size="8.4" text-anchor="end" fill="#111" stroke="#111" font-weight="normal" >DSPP</text>
<text x="28.00" y="596.80" font-size="8.4" text-anchor="end" fill="#111" stroke="#111" font-weight="normal" >DMP1</text>
<text x="28.00" y="614.80" font-size="8.4" text-anchor="end" fill="#111" stroke="#111" font-weight="normal" >Tubulin</text>
<text x="145.70" y="577.60" font-size="8.4" text-anchor="start" fill="#111" stroke="#111" font-weight="normal" >131</text>
<text x="145.70" y="597.00" font-size="8.4" text-anchor="start" fill="#111" stroke="#111" font-weight="normal" >57</text>
<text x="145.70" y="615.10" font-size="8.4" text-anchor="start" fill="#111" stroke="#111" font-weight="normal" >50</text>
<text x="0.00" y="0.00" font-size="8.4" text-anchor="start" fill="#111" stroke="#111" font-weight="normal" transform="translate(47.5,563) rotate(-25)">Control</text>
<text x="0.00" y="0.00" font-size="8.4" text-anchor="start" fill="#111" stroke="#111" font-weight="normal" transform="translate(71.5,563) rotate(-25)">Wnt3a</text>
<text x="0.00" y="0.00" font-size="8.4" text-anchor="start" fill="#111" stroke="#111" font-weight="normal" transform="translate(97,563) rotate(-25)">Wnt5a</text>
<text x="0.00" y="0.00" font-size="8.4" text-anchor="start" fill="#111" stroke="#111" font-weight="normal" transform="translate(122.5,563) rotate(-25)">Wnt10a</text>
<g filter="url(#bblur)"><rect x="38.1" y="575.6" width="19.7" height="2.4" rx="1.2" fill="#6A6A6A" opacity="1"/><rect x="38.1" y="570.4" width="19.7" height="1.6" rx="0.8" fill="#C8C8C8" opacity="1"/><rect x="38.1" y="579.2" width="19.7" height="2.5" rx="1.25" fill="#DDD" opacity="0.8"/><rect x="37.6" y="609.4" width="20.7" height="4.4" rx="2.2" fill="#0A0A0A" opacity="1"/><rect x="63.7" y="574.8" width="18.4" height="4.0" rx="2.0" fill="#050505" opacity="1"/><rect x="63.7" y="570.4" width="18.4" height="1.6" rx="0.8" fill="#444" opacity="1"/><rect x="63.7" y="579.2" width="18.4" height="2.5" rx="1.25" fill="#888" opacity="0.8"/><rect x="63.2" y="609.4" width="19.4" height="4.4" rx="2.2" fill="#0A0A0A" opacity="1"/><rect x="88.5" y="575.6" width="18.4" height="2.4" rx="1.2" fill="#707070" opacity="1"/><rect x="88.5" y="570.4" width="18.4" height="1.6" rx="0.8" fill="#CFCFCF" opacity="1"/><rect x="88.5" y="579.2" width="18.4" height="2.5" rx="1.25" fill="#DDD" opacity="0.8"/><rect x="88.0" y="609.4" width="19.4" height="4.4" rx="2.2" fill="#0A0A0A" opacity="1"/><rect x="112.8" y="575.6" width="18.4" height="2.4" rx="1.2" fill="#555" opacity="1"/><rect x="112.8" y="570.4" width="18.4" height="1.6" rx="0.8" fill="#BBB" opacity="1"/><rect x="112.8" y="579.2" width="18.4" height="2.5" rx="1.25" fill="#D5D5D5" opacity="0.8"/><rect x="112.3" y="609.4" width="19.4" height="4.4" rx="2.2" fill="#0A0A0A" opacity="1"/><rect x="63.7" y="593.4" width="17.3" height="2.6" rx="1.3" fill="#1A1A1A" opacity="1"/><rect x="64.0" y="590.1" width="17.0" height="1.8" rx="0.9" fill="#888" opacity="1"/><rect x="64.0" y="596.6" width="17.0" height="1.8" rx="0.9" fill="#AAA" opacity="1"/><rect x="38.1" y="592.2" width="19.7" height="2.5" rx="1.25" fill="#E6E6E6" opacity="1"/><rect x="88.5" y="592.2" width="18.4" height="2.5" rx="1.25" fill="#E6E6E6" opacity="1"/><rect x="112.8" y="592.2" width="18.4" height="2.5" rx="1.25" fill="#E6E6E6" opacity="1"/></g>
<rect x="32.20" y="566.40" width="108.50" height="17.10" fill="none" stroke="#333" stroke-width="0.9" />
<rect x="32.20" y="586.10" width="108.50" height="14.20" fill="none" stroke="#333" stroke-width="0.9" />
<rect x="32.20" y="603.20" width="108.50" height="17.50" fill="none" stroke="#333" stroke-width="0.9" />
<line x1="206.50" y1="541.50" x2="206.50" y2="631.10" stroke="#222" stroke-width="0.9" />
<line x1="202.50" y1="631.10" x2="335.00" y2="631.10" stroke="#222" stroke-width="0.9" />
<line x1="202.50" y1="631.10" x2="206.50" y2="631.10" stroke="#333" stroke-width="0.8" />
<text x="198.40" y="634.00" font-size="8" text-anchor="end" fill="#222" stroke="#222" font-weight="normal" >0</text>
<line x1="202.50" y1="601.30" x2="206.50" y2="601.30" stroke="#333" stroke-width="0.8" />
<text x="198.40" y="604.20" font-size="8" text-anchor="end" fill="#222" stroke="#222" font-weight="normal" >2</text>
<line x1="202.50" y1="571.50" x2="206.50" y2="571.50" stroke="#333" stroke-width="0.8" />
<text x="198.40" y="574.40" font-size="8" text-anchor="end" fill="#222" stroke="#222" font-weight="normal" >4</text>
<line x1="202.50" y1="541.70" x2="206.50" y2="541.70" stroke="#333" stroke-width="0.8" />
<text x="198.40" y="544.60" font-size="8" text-anchor="end" fill="#222" stroke="#222" font-weight="normal" >6</text>
<line x1="238.60" y1="631.10" x2="238.60" y2="634.60" stroke="#222" stroke-width="0.8" />
<line x1="306.30" y1="631.10" x2="306.30" y2="634.60" stroke="#222" stroke-width="0.8" />
<line x1="218.00" y1="616.20" x2="218.00" y2="612.48" stroke="#333" stroke-width="0.9" />
<line x1="215.20" y1="612.48" x2="220.80" y2="612.48" stroke="#333" stroke-width="0.9" />
<rect x="212.20" y="616.20" width="11.60" height="14.90" fill="#050505" stroke="none" stroke-width="0.6" />
<line x1="232.10" y1="597.13" x2="232.10" y2="596.38" stroke="#333" stroke-width="0.9" />
<line x1="229.30" y1="596.38" x2="234.90" y2="596.38" stroke="#333" stroke-width="0.9" />
<rect x="226.20" y="597.13" width="11.80" height="33.97" fill="#A0A0A4" stroke="none" stroke-width="0.6" />
<line x1="246.05" y1="616.20" x2="246.05" y2="613.97" stroke="#333" stroke-width="0.9" />
<line x1="243.25" y1="613.97" x2="248.85" y2="613.97" stroke="#333" stroke-width="0.9" />
<rect x="240.20" y="616.20" width="11.70" height="14.90" fill="#7A7A7A" stroke="none" stroke-width="0.6" />
<line x1="259.70" y1="612.48" x2="259.70" y2="610.24" stroke="#333" stroke-width="0.9" />
<line x1="256.90" y1="610.24" x2="262.50" y2="610.24" stroke="#333" stroke-width="0.9" />
<rect x="253.90" y="612.48" width="11.60" height="18.62" fill="#D6D6D6" stroke="none" stroke-width="0.6" />
<line x1="285.40" y1="616.20" x2="285.40" y2="613.97" stroke="#333" stroke-width="0.9" />
<line x1="282.60" y1="613.97" x2="288.20" y2="613.97" stroke="#333" stroke-width="0.9" />
<rect x="279.70" y="616.20" width="11.40" height="14.90" fill="#050505" stroke="none" stroke-width="0.6" />
<line x1="299.65" y1="552.88" x2="299.65" y2="550.64" stroke="#333" stroke-width="0.9" />
<line x1="296.85" y1="550.64" x2="302.45" y2="550.64" stroke="#333" stroke-width="0.9" />
<rect x="294.00" y="552.88" width="11.30" height="78.23" fill="#A0A0A4" stroke="none" stroke-width="0.6" />
<line x1="313.05" y1="619.93" x2="313.05" y2="618.44" stroke="#333" stroke-width="0.9" />
<line x1="310.25" y1="618.44" x2="315.85" y2="618.44" stroke="#333" stroke-width="0.9" />
<rect x="307.20" y="619.93" width="11.70" height="11.17" fill="#7A7A7A" stroke="none" stroke-width="0.6" />
<line x1="326.85" y1="617.69" x2="326.85" y2="615.46" stroke="#333" stroke-width="0.9" />
<line x1="324.05" y1="615.46" x2="329.65" y2="615.46" stroke="#333" stroke-width="0.9" />
<rect x="320.90" y="617.69" width="11.90" height="13.41" fill="#D6D6D6" stroke="none" stroke-width="0.6" />
<rect x="212.00" y="539.90" width="9.30" height="4.60" fill="#050505" stroke="none" stroke-width="0.6" />
<text x="225.80" y="545.20" font-size="8.4" text-anchor="start" fill="#111" stroke="#111" font-weight="normal" >Control</text>
<rect x="212.00" y="549.20" width="9.30" height="4.60" fill="#A0A0A4" stroke="none" stroke-width="0.6" />
<text x="225.80" y="554.50" font-size="8.4" text-anchor="start" fill="#111" stroke="#111" font-weight="normal" >Wnt3a</text>
<rect x="212.00" y="558.50" width="9.30" height="4.60" fill="#7A7A7A" stroke="none" stroke-width="0.6" />
<text x="225.80" y="563.80" font-size="8.4" text-anchor="start" fill="#111" stroke="#111" font-weight="normal" >Wnt5a</text>
<rect x="212.00" y="568.00" width="9.30" height="4.60" fill="#D6D6D6" stroke="none" stroke-width="0.6" />
<text x="225.80" y="573.30" font-size="8.4" text-anchor="start" fill="#111" stroke="#111" font-weight="normal" >Wnt10a</text>
<line x1="216.80" y1="593.40" x2="231.10" y2="593.40" stroke="#222" stroke-width="0.8" />
<line x1="231.80" y1="593.40" x2="245.90" y2="593.40" stroke="#222" stroke-width="0.8" />
<line x1="234.10" y1="586.40" x2="259.20" y2="586.40" stroke="#222" stroke-width="0.8" />
<line x1="283.80" y1="549.30" x2="298.60" y2="549.30" stroke="#222" stroke-width="0.8" />
<line x1="299.10" y1="549.30" x2="312.90" y2="549.30" stroke="#222" stroke-width="0.8" />
<line x1="301.20" y1="542.40" x2="326.70" y2="542.40" stroke="#222" stroke-width="0.8" />
<path d="M216.24 588.50L216.74 589.71L218.04 589.81L217.05 590.66L217.35 591.94L216.24 591.25L215.12 591.94L215.42 590.66L214.43 589.81L215.73 589.71ZM220.31 588.50L220.82 589.71L222.12 589.81L221.13 590.66L221.43 591.94L220.31 591.25L219.20 591.94L219.50 590.66L218.51 589.81L219.81 589.71ZM224.39 588.50L224.89 589.71L226.19 589.81L225.20 590.66L225.50 591.94L224.39 591.25L223.27 591.94L223.57 590.66L222.58 589.81L223.88 589.71ZM228.46 588.50L228.97 589.71L230.27 589.81L229.28 590.66L229.58 591.94L228.46 591.25L227.35 591.94L227.65 590.66L226.66 589.81L227.96 589.71Z" fill="#111"/>
<path d="M237.21 588.50L237.72 589.71L239.02 589.81L238.03 590.66L238.33 591.94L237.21 591.25L236.10 591.94L236.40 590.66L235.41 589.81L236.71 589.71ZM241.44 588.50L241.94 589.71L243.24 589.81L242.25 590.66L242.55 591.94L241.44 591.25L240.32 591.94L240.62 590.66L239.63 589.81L240.93 589.71ZM245.66 588.50L246.17 589.71L247.47 589.81L246.48 590.66L246.78 591.94L245.66 591.25L244.55 591.94L244.85 590.66L243.86 589.81L245.16 589.71ZM249.89 588.50L250.39 589.71L251.69 589.81L250.70 590.66L251.00 591.94L249.89 591.25L248.77 591.94L249.07 590.66L248.08 589.81L249.38 589.71Z" fill="#111"/>
<path d="M242.34 582.00L242.84 583.21L244.14 583.31L243.15 584.16L243.45 585.44L242.34 584.75L241.22 585.44L241.52 584.16L240.53 583.31L241.83 583.21ZM246.41 582.00L246.92 583.21L248.22 583.31L247.23 584.16L247.53 585.44L246.41 584.75L245.30 585.44L245.60 584.16L244.61 583.31L245.91 583.21ZM250.49 582.00L250.99 583.21L252.29 583.31L251.30 584.16L251.60 585.44L250.49 584.75L249.37 585.44L249.67 584.16L248.68 583.31L249.98 583.21ZM254.56 582.00L255.07 583.21L256.37 583.31L255.38 584.16L255.68 585.44L254.56 584.75L253.45 585.44L253.75 584.16L252.76 583.31L254.06 583.21Z" fill="#111"/>
<path d="M283.31 545.20L283.82 546.41L285.12 546.51L284.13 547.36L284.43 548.64L283.31 547.96L282.20 548.64L282.50 547.36L281.51 546.51L282.81 546.41ZM287.54 545.20L288.04 546.41L289.34 546.51L288.35 547.36L288.65 548.64L287.54 547.96L286.42 548.64L286.72 547.36L285.73 546.51L287.03 546.41ZM291.76 545.20L292.27 546.41L293.57 546.51L292.58 547.36L292.88 548.64L291.76 547.96L290.65 548.64L290.95 547.36L289.96 546.51L291.26 546.41ZM295.99 545.20L296.49 546.41L297.79 546.51L296.80 547.36L297.10 548.64L295.99 547.96L294.87 548.64L295.17 547.36L294.18 546.51L295.48 546.41Z" fill="#111"/>
<path d="M304.54 545.20L305.04 546.41L306.34 546.51L305.35 547.36L305.65 548.64L304.54 547.96L303.42 548.64L303.72 547.36L302.73 546.51L304.03 546.41ZM308.61 545.20L309.12 546.41L310.42 546.51L309.43 547.36L309.73 548.64L308.61 547.96L307.50 548.64L307.80 547.36L306.81 546.51L308.11 546.41ZM312.69 545.20L313.19 546.41L314.49 546.51L313.50 547.36L313.80 548.64L312.69 547.96L311.57 548.64L311.87 547.36L310.88 546.51L312.18 546.41ZM316.76 545.20L317.27 546.41L318.57 546.51L317.58 547.36L317.88 548.64L316.76 547.96L315.65 548.64L315.95 547.36L314.96 546.51L316.26 546.41Z" fill="#111"/>
<path d="M309.34 538.80L309.84 540.01L311.14 540.11L310.15 540.96L310.45 542.24L309.34 541.56L308.22 542.24L308.52 540.96L307.53 540.11L308.83 540.01ZM313.41 538.80L313.92 540.01L315.22 540.11L314.23 540.96L314.53 542.24L313.41 541.56L312.30 542.24L312.60 540.96L311.61 540.11L312.91 540.01ZM317.49 538.80L317.99 540.01L319.29 540.11L318.30 540.96L318.60 542.24L317.49 541.56L316.37 542.24L316.67 540.96L315.68 540.11L316.98 540.01ZM321.56 538.80L322.07 540.01L323.37 540.11L322.38 540.96L322.68 542.24L321.56 541.56L320.45 542.24L320.75 540.96L319.76 540.11L321.06 540.01Z" fill="#111"/>
<text x="239.20" y="645.00" font-size="8.4" text-anchor="middle" fill="#111" stroke="#111" font-weight="normal" >DSPP</text>
<text x="306.10" y="645.00" font-size="8.4" text-anchor="middle" fill="#111" stroke="#111" font-weight="normal" >DMP1</text>
<text x="0.00" y="0.00" font-size="8.4" text-anchor="middle" fill="#111" stroke="#111" font-weight="normal" transform="translate(173.7,587.2) rotate(-90)">Relative fold change</text>
<text x="0.00" y="0.00" font-size="8.4" text-anchor="middle" fill="#111" stroke="#111" font-weight="normal" transform="translate(184.8,587.5) rotate(-90)">(Protein expression)</text>
</svg></body></html>
